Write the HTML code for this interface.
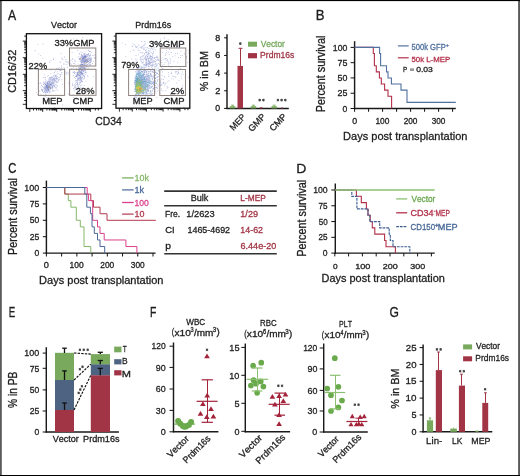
<!DOCTYPE html>
<html><head><meta charset="utf-8"><style>
html,body{margin:0;padding:0;background:#fff;overflow:hidden;}
svg{display:block;will-change:transform;}
text{font-family:"Liberation Sans", sans-serif;font-kerning:none;}
</style></head><body>
<svg width="520" height="476" viewBox="0 0 520 476">
<rect x="0.00" y="0.00" width="520.00" height="476.00" fill="#ffffff"/>
<text x="7.88" y="19.90" font-size="13.808" fill="#1e1e1e" stroke="#1e1e1e" stroke-width="0.3" textLength="8.15" lengthAdjust="spacingAndGlyphs">A</text>
<text x="51.06" y="28.00" font-size="9.593" fill="#1e1e1e" stroke="#1e1e1e" stroke-width="0.3" textLength="25.99" lengthAdjust="spacingAndGlyphs">Vector</text>
<text x="135.26" y="28.00" font-size="9.309" fill="#1e1e1e" stroke="#1e1e1e" stroke-width="0.3" textLength="35.86" lengthAdjust="spacingAndGlyphs">Prdm16s</text>
<path d="M49.0 85.1h0.8v0.8h-0.8zM50.2 87.5h0.8v0.8h-0.8zM47.9 87.8h0.8v0.8h-0.8zM45.4 87.8h0.8v0.8h-0.8zM47.2 82.0h0.8v0.8h-0.8zM45.0 89.2h0.8v0.8h-0.8zM49.2 82.2h0.8v0.8h-0.8zM54.4 86.2h0.8v0.8h-0.8zM47.0 81.2h0.8v0.8h-0.8zM46.5 85.9h0.8v0.8h-0.8zM51.0 83.9h0.8v0.8h-0.8zM50.4 79.0h0.8v0.8h-0.8zM49.4 91.5h0.8v0.8h-0.8zM45.3 92.8h0.8v0.8h-0.8zM48.9 83.3h0.8v0.8h-0.8zM51.8 86.4h0.8v0.8h-0.8zM43.6 89.5h0.8v0.8h-0.8zM47.2 75.8h0.8v0.8h-0.8zM41.4 90.3h0.8v0.8h-0.8zM43.8 87.7h0.8v0.8h-0.8zM41.6 89.5h0.8v0.8h-0.8zM48.1 81.3h0.8v0.8h-0.8zM43.9 86.8h0.8v0.8h-0.8zM50.1 83.7h0.8v0.8h-0.8zM49.6 89.3h0.8v0.8h-0.8zM48.3 86.7h0.8v0.8h-0.8zM38.9 90.6h0.8v0.8h-0.8zM46.8 92.2h0.8v0.8h-0.8zM48.8 82.9h0.8v0.8h-0.8zM49.5 83.2h0.8v0.8h-0.8zM42.9 81.4h0.8v0.8h-0.8zM47.1 92.2h0.8v0.8h-0.8zM45.1 91.0h0.8v0.8h-0.8zM45.8 90.4h0.8v0.8h-0.8zM53.2 85.2h0.8v0.8h-0.8zM45.8 87.2h0.8v0.8h-0.8zM48.9 85.9h0.8v0.8h-0.8zM52.5 82.0h0.8v0.8h-0.8zM46.7 85.5h0.8v0.8h-0.8zM48.6 85.5h0.8v0.8h-0.8zM49.4 90.6h0.8v0.8h-0.8zM49.3 87.0h0.8v0.8h-0.8zM44.1 87.5h0.8v0.8h-0.8zM49.3 82.6h0.8v0.8h-0.8zM54.4 79.5h0.8v0.8h-0.8zM42.8 94.7h0.8v0.8h-0.8zM52.4 85.0h0.8v0.8h-0.8zM49.5 85.0h0.8v0.8h-0.8zM46.4 85.1h0.8v0.8h-0.8zM57.0 76.2h0.8v0.8h-0.8zM52.0 83.0h0.8v0.8h-0.8zM44.2 91.1h0.8v0.8h-0.8zM49.3 83.3h0.8v0.8h-0.8zM51.3 82.8h0.8v0.8h-0.8zM48.2 84.6h0.8v0.8h-0.8zM51.7 83.9h0.8v0.8h-0.8zM48.7 78.9h0.8v0.8h-0.8zM51.7 82.6h0.8v0.8h-0.8zM54.8 78.4h0.8v0.8h-0.8zM46.3 90.0h0.8v0.8h-0.8zM49.8 81.5h0.8v0.8h-0.8zM47.1 88.3h0.8v0.8h-0.8zM49.5 90.7h0.8v0.8h-0.8zM44.3 86.4h0.8v0.8h-0.8zM46.7 84.0h0.8v0.8h-0.8zM48.2 86.2h0.8v0.8h-0.8zM52.6 83.0h0.8v0.8h-0.8zM53.6 78.6h0.8v0.8h-0.8zM43.7 89.8h0.8v0.8h-0.8zM45.8 94.6h0.8v0.8h-0.8zM51.6 82.5h0.8v0.8h-0.8zM41.0 88.7h0.8v0.8h-0.8zM47.1 82.0h0.8v0.8h-0.8zM48.6 86.5h0.8v0.8h-0.8zM54.0 77.3h0.8v0.8h-0.8zM51.8 79.1h0.8v0.8h-0.8zM47.7 90.7h0.8v0.8h-0.8zM47.5 82.3h0.8v0.8h-0.8zM48.0 89.8h0.8v0.8h-0.8zM55.1 87.5h0.8v0.8h-0.8zM47.3 87.0h0.8v0.8h-0.8zM47.8 87.8h0.8v0.8h-0.8zM50.4 91.8h0.8v0.8h-0.8zM48.5 84.5h0.8v0.8h-0.8zM48.2 83.1h0.8v0.8h-0.8zM44.5 82.2h0.8v0.8h-0.8zM49.0 85.2h0.8v0.8h-0.8zM47.2 91.8h0.8v0.8h-0.8zM53.7 86.1h0.8v0.8h-0.8zM51.6 79.9h0.8v0.8h-0.8zM48.9 81.7h0.8v0.8h-0.8zM51.7 81.5h0.8v0.8h-0.8zM47.6 86.9h0.8v0.8h-0.8zM53.2 81.8h0.8v0.8h-0.8zM49.0 85.8h0.8v0.8h-0.8zM51.3 84.8h0.8v0.8h-0.8zM43.8 86.7h0.8v0.8h-0.8zM50.4 84.1h0.8v0.8h-0.8zM42.2 89.6h0.8v0.8h-0.8zM40.9 89.3h0.8v0.8h-0.8zM47.8 87.6h0.8v0.8h-0.8zM45.4 94.3h0.8v0.8h-0.8zM49.7 86.9h0.8v0.8h-0.8zM58.0 80.2h0.8v0.8h-0.8zM45.7 80.3h0.8v0.8h-0.8zM46.5 87.9h0.8v0.8h-0.8zM49.8 77.0h0.8v0.8h-0.8zM51.0 78.4h0.8v0.8h-0.8zM48.3 88.7h0.8v0.8h-0.8zM48.2 88.2h0.8v0.8h-0.8zM51.8 82.8h0.8v0.8h-0.8zM51.1 77.2h0.8v0.8h-0.8zM44.9 85.9h0.8v0.8h-0.8zM48.7 82.5h0.8v0.8h-0.8zM49.1 87.4h0.8v0.8h-0.8zM44.8 96.2h0.8v0.8h-0.8zM50.0 85.3h0.8v0.8h-0.8zM45.6 83.9h0.8v0.8h-0.8zM52.9 78.3h0.8v0.8h-0.8zM49.8 84.3h0.8v0.8h-0.8zM49.4 84.1h0.8v0.8h-0.8zM46.6 81.8h0.8v0.8h-0.8zM48.5 85.7h0.8v0.8h-0.8zM41.0 85.0h0.8v0.8h-0.8zM44.5 91.9h0.8v0.8h-0.8zM50.5 88.3h0.8v0.8h-0.8zM40.5 94.0h0.8v0.8h-0.8zM52.4 81.2h0.8v0.8h-0.8zM42.0 90.9h0.8v0.8h-0.8zM52.0 82.8h0.8v0.8h-0.8zM45.6 85.4h0.8v0.8h-0.8zM52.1 81.9h0.8v0.8h-0.8zM49.5 79.6h0.8v0.8h-0.8zM42.9 82.8h0.8v0.8h-0.8zM54.0 85.3h0.8v0.8h-0.8zM54.8 81.0h0.8v0.8h-0.8zM48.7 86.0h0.8v0.8h-0.8zM47.9 89.5h0.8v0.8h-0.8zM48.4 78.6h0.8v0.8h-0.8zM45.1 84.1h0.8v0.8h-0.8zM53.4 83.2h0.8v0.8h-0.8zM46.8 87.7h0.8v0.8h-0.8zM48.8 83.6h0.8v0.8h-0.8zM45.8 90.8h0.8v0.8h-0.8zM46.5 87.2h0.8v0.8h-0.8zM43.9 83.1h0.8v0.8h-0.8zM54.0 78.5h0.8v0.8h-0.8zM48.4 88.5h0.8v0.8h-0.8zM52.9 84.6h0.8v0.8h-0.8zM49.1 77.6h0.8v0.8h-0.8zM46.2 91.8h0.8v0.8h-0.8zM47.7 88.1h0.8v0.8h-0.8zM46.8 91.5h0.8v0.8h-0.8zM49.0 83.5h0.8v0.8h-0.8zM47.5 84.7h0.8v0.8h-0.8zM47.8 81.3h0.8v0.8h-0.8zM43.5 98.0h0.8v0.8h-0.8zM45.8 86.1h0.8v0.8h-0.8zM55.6 87.5h0.8v0.8h-0.8zM46.3 84.0h0.8v0.8h-0.8zM44.8 88.0h0.8v0.8h-0.8zM50.3 77.7h0.8v0.8h-0.8zM54.6 80.3h0.8v0.8h-0.8zM43.2 92.1h0.8v0.8h-0.8zM48.2 80.6h0.8v0.8h-0.8zM46.5 90.6h0.8v0.8h-0.8zM42.0 90.3h0.8v0.8h-0.8zM51.9 79.3h0.8v0.8h-0.8zM48.9 83.1h0.8v0.8h-0.8zM49.3 83.1h0.8v0.8h-0.8zM46.0 86.5h0.8v0.8h-0.8zM50.8 81.9h0.8v0.8h-0.8zM46.8 83.0h0.8v0.8h-0.8zM48.4 84.1h0.8v0.8h-0.8zM44.6 83.5h0.8v0.8h-0.8zM44.1 82.7h0.8v0.8h-0.8zM54.3 81.8h0.8v0.8h-0.8zM47.0 89.6h0.8v0.8h-0.8zM50.2 78.4h0.8v0.8h-0.8zM48.9 85.1h0.8v0.8h-0.8zM47.2 83.5h0.8v0.8h-0.8zM47.0 82.3h0.8v0.8h-0.8zM51.5 86.9h0.8v0.8h-0.8zM47.8 83.7h0.8v0.8h-0.8zM48.4 91.2h0.8v0.8h-0.8zM49.1 81.9h0.8v0.8h-0.8zM53.7 83.9h0.8v0.8h-0.8zM51.7 82.6h0.8v0.8h-0.8zM50.5 81.2h0.8v0.8h-0.8zM46.7 88.6h0.8v0.8h-0.8zM43.5 87.5h0.8v0.8h-0.8zM52.8 85.2h0.8v0.8h-0.8zM52.9 82.6h0.8v0.8h-0.8zM48.4 81.1h0.8v0.8h-0.8zM51.2 83.4h0.8v0.8h-0.8zM52.1 83.4h0.8v0.8h-0.8zM52.3 86.9h0.8v0.8h-0.8zM52.7 79.4h0.8v0.8h-0.8zM47.2 85.9h0.8v0.8h-0.8zM55.1 74.9h0.8v0.8h-0.8zM44.0 90.3h0.8v0.8h-0.8zM52.4 78.8h0.8v0.8h-0.8zM51.0 76.8h0.8v0.8h-0.8zM52.5 82.8h0.8v0.8h-0.8zM56.5 85.1h0.8v0.8h-0.8zM54.9 75.7h0.8v0.8h-0.8zM44.4 83.3h0.8v0.8h-0.8zM42.2 85.9h0.8v0.8h-0.8zM52.3 78.8h0.8v0.8h-0.8zM44.9 88.8h0.8v0.8h-0.8zM49.0 81.9h0.8v0.8h-0.8zM52.4 80.3h0.8v0.8h-0.8zM42.4 91.0h0.8v0.8h-0.8zM40.6 86.8h0.8v0.8h-0.8zM50.0 86.1h0.8v0.8h-0.8zM49.2 81.1h0.8v0.8h-0.8zM48.0 80.8h0.8v0.8h-0.8zM49.2 77.8h0.8v0.8h-0.8zM45.6 94.2h0.8v0.8h-0.8zM42.9 87.2h0.8v0.8h-0.8zM48.3 86.3h0.8v0.8h-0.8zM45.1 87.1h0.8v0.8h-0.8zM42.4 89.3h0.8v0.8h-0.8zM51.0 84.1h0.8v0.8h-0.8zM48.8 92.6h0.8v0.8h-0.8zM50.6 80.0h0.8v0.8h-0.8zM45.0 81.2h0.8v0.8h-0.8zM46.4 82.5h0.8v0.8h-0.8zM45.0 82.0h0.8v0.8h-0.8zM45.5 89.9h0.8v0.8h-0.8zM49.8 87.8h0.8v0.8h-0.8zM45.9 83.0h0.8v0.8h-0.8zM50.4 78.8h0.8v0.8h-0.8zM50.4 82.9h0.8v0.8h-0.8zM57.1 85.9h0.8v0.8h-0.8zM43.4 77.1h0.8v0.8h-0.8zM52.6 85.1h0.8v0.8h-0.8zM48.6 81.0h0.8v0.8h-0.8zM48.9 89.1h0.8v0.8h-0.8zM43.2 84.1h0.8v0.8h-0.8zM47.2 84.9h0.8v0.8h-0.8zM52.0 77.5h0.8v0.8h-0.8zM48.7 81.4h0.8v0.8h-0.8zM49.3 90.2h0.8v0.8h-0.8zM47.8 88.9h0.8v0.8h-0.8zM53.6 80.8h0.8v0.8h-0.8zM48.9 81.7h0.8v0.8h-0.8zM40.2 82.6h0.8v0.8h-0.8zM46.2 85.0h0.8v0.8h-0.8zM41.1 89.3h0.8v0.8h-0.8zM36.0 92.0h0.8v0.8h-0.8zM46.9 85.8h0.8v0.8h-0.8zM54.3 77.6h0.8v0.8h-0.8zM49.2 84.6h0.8v0.8h-0.8zM44.3 87.5h0.8v0.8h-0.8zM45.2 92.1h0.8v0.8h-0.8zM53.5 89.7h0.8v0.8h-0.8zM49.6 84.1h0.8v0.8h-0.8zM49.2 81.9h0.8v0.8h-0.8zM48.8 84.9h0.8v0.8h-0.8zM50.4 82.9h0.8v0.8h-0.8zM49.5 89.2h0.8v0.8h-0.8zM53.6 80.0h0.8v0.8h-0.8zM47.7 90.8h0.8v0.8h-0.8zM57.6 73.2h0.8v0.8h-0.8zM53.4 79.3h0.8v0.8h-0.8zM55.5 78.2h0.8v0.8h-0.8zM52.9 84.6h0.8v0.8h-0.8zM49.6 87.6h0.8v0.8h-0.8zM48.3 75.0h0.8v0.8h-0.8zM52.6 76.0h0.8v0.8h-0.8zM50.7 83.4h0.8v0.8h-0.8zM55.4 75.9h0.8v0.8h-0.8zM54.0 72.1h0.8v0.8h-0.8zM45.8 89.5h0.8v0.8h-0.8zM54.4 82.4h0.8v0.8h-0.8zM45.9 86.6h0.8v0.8h-0.8zM50.3 79.4h0.8v0.8h-0.8zM52.2 86.2h0.8v0.8h-0.8zM41.5 85.0h0.8v0.8h-0.8zM54.5 85.4h0.8v0.8h-0.8zM54.9 74.8h0.8v0.8h-0.8zM53.1 76.0h0.8v0.8h-0.8zM51.5 82.3h0.8v0.8h-0.8zM51.8 77.5h0.8v0.8h-0.8zM48.1 86.4h0.8v0.8h-0.8zM52.4 82.2h0.8v0.8h-0.8zM50.7 76.9h0.8v0.8h-0.8zM54.6 80.1h0.8v0.8h-0.8zM46.8 81.8h0.8v0.8h-0.8zM55.4 84.1h0.8v0.8h-0.8zM54.9 76.3h0.8v0.8h-0.8zM53.2 78.1h0.8v0.8h-0.8zM51.4 87.6h0.8v0.8h-0.8zM57.3 90.0h0.8v0.8h-0.8zM44.0 95.4h0.8v0.8h-0.8zM56.8 78.9h0.8v0.8h-0.8zM55.5 80.4h0.8v0.8h-0.8zM55.7 87.1h0.8v0.8h-0.8zM56.3 78.2h0.8v0.8h-0.8zM50.1 76.9h0.8v0.8h-0.8zM52.4 81.4h0.8v0.8h-0.8zM57.8 80.4h0.8v0.8h-0.8zM56.6 74.4h0.8v0.8h-0.8zM55.2 70.8h0.8v0.8h-0.8zM44.9 77.1h0.8v0.8h-0.8zM57.2 81.8h0.8v0.8h-0.8zM61.0 72.6h0.8v0.8h-0.8zM60.1 76.2h0.8v0.8h-0.8zM55.4 80.4h0.8v0.8h-0.8zM44.7 87.9h0.8v0.8h-0.8zM59.7 75.4h0.8v0.8h-0.8zM53.1 83.0h0.8v0.8h-0.8zM38.8 83.0h0.8v0.8h-0.8zM56.3 77.0h0.8v0.8h-0.8zM45.0 79.2h0.8v0.8h-0.8zM46.2 89.8h0.8v0.8h-0.8zM50.2 81.8h0.8v0.8h-0.8zM61.6 72.3h0.8v0.8h-0.8zM51.8 79.3h0.8v0.8h-0.8zM55.6 78.0h0.8v0.8h-0.8zM64.5 78.4h0.8v0.8h-0.8zM63.6 66.9h0.8v0.8h-0.8zM53.4 74.9h0.8v0.8h-0.8zM52.6 78.8h0.8v0.8h-0.8zM46.4 96.9h0.8v0.8h-0.8zM49.8 87.0h0.8v0.8h-0.8zM56.6 78.1h0.8v0.8h-0.8zM56.4 82.5h0.8v0.8h-0.8zM54.7 90.4h0.8v0.8h-0.8zM60.0 75.8h0.8v0.8h-0.8zM49.4 80.4h0.8v0.8h-0.8zM53.7 86.5h0.8v0.8h-0.8zM58.4 80.4h0.8v0.8h-0.8zM57.5 81.7h0.8v0.8h-0.8zM60.4 74.1h0.8v0.8h-0.8zM56.4 88.8h0.8v0.8h-0.8zM52.1 89.8h0.8v0.8h-0.8zM56.2 81.9h0.8v0.8h-0.8zM48.0 86.6h0.8v0.8h-0.8zM44.2 74.4h0.8v0.8h-0.8zM57.5 81.6h0.8v0.8h-0.8zM53.7 79.2h0.8v0.8h-0.8zM55.9 81.3h0.8v0.8h-0.8zM43.8 88.6h0.8v0.8h-0.8zM51.8 79.3h0.8v0.8h-0.8zM50.4 73.0h0.8v0.8h-0.8zM48.8 84.5h0.8v0.8h-0.8zM40.5 82.9h0.8v0.8h-0.8zM52.0 79.3h0.8v0.8h-0.8zM59.4 74.2h0.8v0.8h-0.8zM56.3 77.1h0.8v0.8h-0.8zM50.4 69.8h0.8v0.8h-0.8zM53.9 86.4h0.8v0.8h-0.8zM58.5 79.0h0.8v0.8h-0.8zM37.4 94.1h0.8v0.8h-0.8zM53.3 90.7h0.8v0.8h-0.8zM57.3 78.5h0.8v0.8h-0.8zM58.1 68.6h0.8v0.8h-0.8zM64.2 70.3h0.8v0.8h-0.8zM60.8 70.3h0.8v0.8h-0.8zM55.9 76.5h0.8v0.8h-0.8zM55.8 79.5h0.8v0.8h-0.8zM58.7 67.2h0.8v0.8h-0.8zM50.8 83.4h0.8v0.8h-0.8zM53.8 72.3h0.8v0.8h-0.8zM59.4 78.8h0.8v0.8h-0.8zM65.7 73.6h0.8v0.8h-0.8zM53.0 78.8h0.8v0.8h-0.8zM53.7 79.8h0.8v0.8h-0.8zM78.8 83.8h0.8v0.8h-0.8zM78.6 69.0h0.8v0.8h-0.8zM74.3 90.4h0.8v0.8h-0.8zM80.9 79.9h0.8v0.8h-0.8zM88.4 53.2h0.8v0.8h-0.8zM88.9 50.8h0.8v0.8h-0.8zM86.3 61.4h0.8v0.8h-0.8zM83.8 56.1h0.8v0.8h-0.8zM78.3 86.8h0.8v0.8h-0.8zM86.8 45.3h0.8v0.8h-0.8zM80.8 65.1h0.8v0.8h-0.8zM80.7 70.7h0.8v0.8h-0.8zM79.8 72.7h0.8v0.8h-0.8zM81.4 72.4h0.8v0.8h-0.8zM79.3 77.1h0.8v0.8h-0.8zM80.7 71.2h0.8v0.8h-0.8zM76.7 87.7h0.8v0.8h-0.8zM79.5 60.7h0.8v0.8h-0.8zM90.1 54.9h0.8v0.8h-0.8zM80.7 67.8h0.8v0.8h-0.8zM80.0 74.7h0.8v0.8h-0.8zM83.1 69.5h0.8v0.8h-0.8zM83.8 60.7h0.8v0.8h-0.8zM76.5 76.1h0.8v0.8h-0.8zM80.2 78.8h0.8v0.8h-0.8zM84.7 67.4h0.8v0.8h-0.8zM82.1 65.5h0.8v0.8h-0.8zM81.5 84.6h0.8v0.8h-0.8zM87.2 75.6h0.8v0.8h-0.8zM78.3 67.4h0.8v0.8h-0.8zM81.3 73.4h0.8v0.8h-0.8zM78.9 92.5h0.8v0.8h-0.8zM87.0 66.0h0.8v0.8h-0.8zM73.2 88.1h0.8v0.8h-0.8zM78.3 75.6h0.8v0.8h-0.8zM78.9 72.4h0.8v0.8h-0.8zM83.7 65.6h0.8v0.8h-0.8zM83.4 63.8h0.8v0.8h-0.8zM86.6 66.5h0.8v0.8h-0.8zM74.7 81.2h0.8v0.8h-0.8zM84.0 63.5h0.8v0.8h-0.8zM79.8 66.2h0.8v0.8h-0.8zM78.3 76.7h0.8v0.8h-0.8zM83.2 62.0h0.8v0.8h-0.8zM77.3 77.7h0.8v0.8h-0.8zM72.7 94.5h0.8v0.8h-0.8zM79.5 77.2h0.8v0.8h-0.8zM75.0 86.6h0.8v0.8h-0.8zM78.4 79.2h0.8v0.8h-0.8zM82.5 69.6h0.8v0.8h-0.8zM82.2 68.8h0.8v0.8h-0.8zM87.3 58.1h0.8v0.8h-0.8zM80.2 78.5h0.8v0.8h-0.8zM74.9 76.3h0.8v0.8h-0.8zM78.0 86.5h0.8v0.8h-0.8zM77.3 79.1h0.8v0.8h-0.8zM76.1 76.2h0.8v0.8h-0.8zM82.7 65.5h0.8v0.8h-0.8zM78.4 72.4h0.8v0.8h-0.8zM73.1 87.9h0.8v0.8h-0.8zM83.8 62.0h0.8v0.8h-0.8zM80.6 80.4h0.8v0.8h-0.8zM82.4 64.2h0.8v0.8h-0.8zM81.4 56.2h0.8v0.8h-0.8zM83.5 62.4h0.8v0.8h-0.8zM81.2 58.4h0.8v0.8h-0.8zM85.9 62.5h0.8v0.8h-0.8zM82.7 75.8h0.8v0.8h-0.8zM82.6 73.3h0.8v0.8h-0.8zM82.6 60.1h0.8v0.8h-0.8zM75.2 77.9h0.8v0.8h-0.8zM80.3 85.0h0.8v0.8h-0.8zM80.0 76.1h0.8v0.8h-0.8zM81.8 70.5h0.8v0.8h-0.8zM75.6 89.2h0.8v0.8h-0.8zM87.5 76.0h0.8v0.8h-0.8zM81.4 79.8h0.8v0.8h-0.8zM76.2 82.0h0.8v0.8h-0.8zM74.2 87.2h0.8v0.8h-0.8zM79.9 78.2h0.8v0.8h-0.8zM80.6 68.6h0.8v0.8h-0.8zM78.1 70.4h0.8v0.8h-0.8zM81.4 71.7h0.8v0.8h-0.8zM78.4 70.5h0.8v0.8h-0.8zM83.2 67.5h0.8v0.8h-0.8zM78.1 78.1h0.8v0.8h-0.8zM80.8 87.8h0.8v0.8h-0.8zM84.9 59.0h0.8v0.8h-0.8zM91.3 51.9h0.8v0.8h-0.8zM77.0 78.5h0.8v0.8h-0.8zM79.1 78.4h0.8v0.8h-0.8zM77.6 85.2h0.8v0.8h-0.8zM84.1 62.9h0.8v0.8h-0.8zM76.4 75.2h0.8v0.8h-0.8zM79.1 64.8h0.8v0.8h-0.8zM80.9 66.1h0.8v0.8h-0.8zM77.1 82.9h0.8v0.8h-0.8zM77.2 79.5h0.8v0.8h-0.8zM79.1 68.9h0.8v0.8h-0.8zM72.6 85.3h0.8v0.8h-0.8zM75.2 83.0h0.8v0.8h-0.8zM79.3 78.4h0.8v0.8h-0.8zM81.6 67.0h0.8v0.8h-0.8zM80.3 71.7h0.8v0.8h-0.8zM73.9 73.3h0.8v0.8h-0.8zM79.1 67.9h0.8v0.8h-0.8zM84.2 76.7h0.8v0.8h-0.8zM83.2 53.4h0.8v0.8h-0.8zM80.7 70.4h0.8v0.8h-0.8zM77.5 80.1h0.8v0.8h-0.8zM83.5 64.8h0.8v0.8h-0.8zM78.7 71.0h0.8v0.8h-0.8zM76.3 80.4h0.8v0.8h-0.8zM77.8 78.0h0.8v0.8h-0.8zM86.8 60.6h0.8v0.8h-0.8zM81.9 57.9h0.8v0.8h-0.8zM85.6 62.3h0.8v0.8h-0.8zM79.1 69.9h0.8v0.8h-0.8zM84.8 61.3h0.8v0.8h-0.8zM78.6 78.0h0.8v0.8h-0.8zM80.4 77.4h0.8v0.8h-0.8zM90.9 59.3h0.8v0.8h-0.8zM84.1 63.0h0.8v0.8h-0.8zM79.0 81.9h0.8v0.8h-0.8zM80.7 80.4h0.8v0.8h-0.8zM82.3 77.1h0.8v0.8h-0.8zM85.8 72.1h0.8v0.8h-0.8zM79.0 74.7h0.8v0.8h-0.8zM74.0 83.9h0.8v0.8h-0.8zM79.9 79.6h0.8v0.8h-0.8zM81.1 62.8h0.8v0.8h-0.8zM81.4 72.6h0.8v0.8h-0.8zM86.3 58.6h0.8v0.8h-0.8zM82.3 67.2h0.8v0.8h-0.8zM84.3 54.4h0.8v0.8h-0.8zM76.6 74.4h0.8v0.8h-0.8zM84.5 65.4h0.8v0.8h-0.8zM89.4 62.2h0.8v0.8h-0.8zM84.1 72.8h0.8v0.8h-0.8zM82.0 69.6h0.8v0.8h-0.8zM81.6 69.6h0.8v0.8h-0.8zM88.1 53.1h0.8v0.8h-0.8zM77.3 81.6h0.8v0.8h-0.8zM80.6 71.2h0.8v0.8h-0.8zM82.8 72.6h0.8v0.8h-0.8zM84.0 78.0h0.8v0.8h-0.8zM79.3 75.1h0.8v0.8h-0.8zM82.2 59.8h0.8v0.8h-0.8zM79.9 68.4h0.8v0.8h-0.8zM81.5 61.5h0.8v0.8h-0.8zM80.5 65.1h0.8v0.8h-0.8zM76.4 89.2h0.8v0.8h-0.8zM80.9 73.7h0.8v0.8h-0.8zM84.5 55.4h0.8v0.8h-0.8zM77.1 83.6h0.8v0.8h-0.8zM80.0 82.1h0.8v0.8h-0.8zM83.7 64.6h0.8v0.8h-0.8zM76.7 75.6h0.8v0.8h-0.8zM81.7 68.4h0.8v0.8h-0.8zM76.8 81.8h0.8v0.8h-0.8zM85.5 67.7h0.8v0.8h-0.8zM90.3 62.5h0.8v0.8h-0.8zM89.1 64.9h0.8v0.8h-0.8zM80.1 81.5h0.8v0.8h-0.8zM84.0 75.5h0.8v0.8h-0.8zM81.5 75.5h0.8v0.8h-0.8zM81.4 61.1h0.8v0.8h-0.8zM87.2 59.5h0.8v0.8h-0.8zM75.7 84.0h0.8v0.8h-0.8zM85.2 61.6h0.8v0.8h-0.8zM80.8 78.4h0.8v0.8h-0.8zM86.6 59.1h0.8v0.8h-0.8zM81.7 64.5h0.8v0.8h-0.8zM78.3 86.6h0.8v0.8h-0.8zM82.1 74.3h0.8v0.8h-0.8zM83.9 67.9h0.8v0.8h-0.8zM81.1 77.9h0.8v0.8h-0.8zM83.0 75.4h0.8v0.8h-0.8zM78.9 78.2h0.8v0.8h-0.8zM72.5 71.7h0.8v0.8h-0.8zM84.6 60.8h0.8v0.8h-0.8zM83.8 63.7h0.8v0.8h-0.8zM81.6 64.4h0.8v0.8h-0.8zM81.3 72.8h0.8v0.8h-0.8zM85.1 72.1h0.8v0.8h-0.8zM79.2 72.2h0.8v0.8h-0.8zM78.2 69.8h0.8v0.8h-0.8zM80.2 86.8h0.8v0.8h-0.8zM85.8 60.1h0.8v0.8h-0.8zM75.5 74.2h0.8v0.8h-0.8zM85.8 64.6h0.8v0.8h-0.8zM78.4 79.6h0.8v0.8h-0.8zM76.6 75.6h0.8v0.8h-0.8zM86.0 67.8h0.8v0.8h-0.8zM80.6 69.5h0.8v0.8h-0.8zM75.8 75.6h0.8v0.8h-0.8zM79.6 75.9h0.8v0.8h-0.8zM84.7 70.1h0.8v0.8h-0.8zM85.8 58.9h0.8v0.8h-0.8zM79.3 77.4h0.8v0.8h-0.8zM82.6 68.3h0.8v0.8h-0.8zM83.9 85.3h0.8v0.8h-0.8zM78.4 72.1h0.8v0.8h-0.8zM82.4 78.5h0.8v0.8h-0.8zM80.9 71.9h0.8v0.8h-0.8zM78.9 75.2h0.8v0.8h-0.8zM79.0 80.5h0.8v0.8h-0.8zM81.3 77.4h0.8v0.8h-0.8zM81.1 80.2h0.8v0.8h-0.8zM78.7 78.4h0.8v0.8h-0.8zM79.3 71.2h0.8v0.8h-0.8zM85.5 60.1h0.8v0.8h-0.8zM81.9 73.8h0.8v0.8h-0.8zM84.5 69.2h0.8v0.8h-0.8zM85.8 72.2h0.8v0.8h-0.8zM83.4 70.4h0.8v0.8h-0.8zM90.1 62.0h0.8v0.8h-0.8zM77.7 88.2h0.8v0.8h-0.8zM84.2 67.0h0.8v0.8h-0.8zM79.7 64.6h0.8v0.8h-0.8zM88.4 50.3h0.8v0.8h-0.8zM87.8 49.7h0.8v0.8h-0.8zM73.2 97.2h0.8v0.8h-0.8zM77.1 73.7h0.8v0.8h-0.8zM83.7 75.2h0.8v0.8h-0.8zM84.2 70.0h0.8v0.8h-0.8zM83.9 77.8h0.8v0.8h-0.8zM80.7 79.2h0.8v0.8h-0.8zM82.8 67.9h0.8v0.8h-0.8zM83.6 65.8h0.8v0.8h-0.8zM80.7 73.1h0.8v0.8h-0.8zM85.1 65.5h0.8v0.8h-0.8zM72.0 85.4h0.8v0.8h-0.8zM83.5 67.0h0.8v0.8h-0.8zM76.9 90.4h0.8v0.8h-0.8zM84.8 53.6h0.8v0.8h-0.8zM80.1 75.4h0.8v0.8h-0.8zM77.4 72.7h0.8v0.8h-0.8zM82.5 70.4h0.8v0.8h-0.8zM77.4 84.4h0.8v0.8h-0.8zM77.3 78.5h0.8v0.8h-0.8zM74.7 88.9h0.8v0.8h-0.8zM80.9 61.7h0.8v0.8h-0.8zM83.0 75.6h0.8v0.8h-0.8zM85.1 60.3h0.8v0.8h-0.8zM80.4 77.2h0.8v0.8h-0.8zM85.2 65.3h0.8v0.8h-0.8zM81.1 54.8h0.8v0.8h-0.8zM80.6 67.7h0.8v0.8h-0.8zM83.3 69.2h0.8v0.8h-0.8zM85.2 74.3h0.8v0.8h-0.8zM79.6 76.5h0.8v0.8h-0.8zM80.0 75.5h0.8v0.8h-0.8zM80.4 63.9h0.8v0.8h-0.8zM81.3 80.8h0.8v0.8h-0.8zM77.4 90.7h0.8v0.8h-0.8zM85.1 64.5h0.8v0.8h-0.8zM79.4 73.5h0.8v0.8h-0.8zM82.8 57.8h0.8v0.8h-0.8zM77.7 84.0h0.8v0.8h-0.8zM82.4 87.2h0.8v0.8h-0.8zM82.6 73.8h0.8v0.8h-0.8zM79.3 83.5h0.8v0.8h-0.8zM89.1 60.4h0.8v0.8h-0.8zM82.5 62.7h0.8v0.8h-0.8zM88.1 67.5h0.8v0.8h-0.8zM84.8 56.6h0.8v0.8h-0.8zM78.4 75.6h0.8v0.8h-0.8zM79.5 76.7h0.8v0.8h-0.8zM82.7 74.6h0.8v0.8h-0.8zM81.2 74.3h0.8v0.8h-0.8zM81.2 74.2h0.8v0.8h-0.8zM79.9 69.1h0.8v0.8h-0.8zM73.8 77.0h0.8v0.8h-0.8zM80.1 74.1h0.8v0.8h-0.8zM72.1 83.9h0.8v0.8h-0.8zM82.5 60.6h0.8v0.8h-0.8zM78.1 69.1h0.8v0.8h-0.8zM78.1 74.1h0.8v0.8h-0.8zM80.1 61.4h0.8v0.8h-0.8zM82.1 61.0h0.8v0.8h-0.8zM75.3 71.9h0.8v0.8h-0.8zM74.0 86.3h0.8v0.8h-0.8zM76.7 82.7h0.8v0.8h-0.8zM72.8 100.6h0.8v0.8h-0.8zM77.1 69.3h0.8v0.8h-0.8zM87.4 55.6h0.8v0.8h-0.8zM76.8 86.0h0.8v0.8h-0.8zM83.6 65.7h0.8v0.8h-0.8zM75.5 80.1h0.8v0.8h-0.8zM82.2 81.1h0.8v0.8h-0.8zM79.7 72.2h0.8v0.8h-0.8zM80.8 64.8h0.8v0.8h-0.8zM83.3 59.0h0.8v0.8h-0.8zM88.0 61.0h0.8v0.8h-0.8zM81.8 72.6h0.8v0.8h-0.8zM81.5 62.0h0.8v0.8h-0.8zM77.1 72.8h0.8v0.8h-0.8zM83.3 71.2h0.8v0.8h-0.8zM80.0 77.7h0.8v0.8h-0.8zM84.3 61.5h0.8v0.8h-0.8zM80.8 76.4h0.8v0.8h-0.8zM88.0 62.7h0.8v0.8h-0.8zM73.1 75.1h0.8v0.8h-0.8zM79.8 72.2h0.8v0.8h-0.8zM84.5 68.1h0.8v0.8h-0.8zM79.6 70.8h0.8v0.8h-0.8zM77.8 63.8h0.8v0.8h-0.8zM79.9 72.1h0.8v0.8h-0.8zM75.5 87.3h0.8v0.8h-0.8zM81.5 81.6h0.8v0.8h-0.8zM90.8 39.2h0.8v0.8h-0.8zM85.6 80.7h0.8v0.8h-0.8zM76.6 72.9h0.8v0.8h-0.8zM77.5 84.9h0.8v0.8h-0.8zM79.4 83.2h0.8v0.8h-0.8zM85.0 71.0h0.8v0.8h-0.8zM77.7 79.2h0.8v0.8h-0.8zM78.2 69.5h0.8v0.8h-0.8zM84.5 69.5h0.8v0.8h-0.8zM84.5 60.8h0.8v0.8h-0.8zM79.5 58.1h0.8v0.8h-0.8zM76.5 99.1h0.8v0.8h-0.8zM74.8 88.3h0.8v0.8h-0.8zM78.2 89.3h0.8v0.8h-0.8zM72.1 82.7h0.8v0.8h-0.8zM84.0 76.1h0.8v0.8h-0.8zM78.5 87.2h0.8v0.8h-0.8zM82.9 78.7h0.8v0.8h-0.8zM88.5 57.8h0.8v0.8h-0.8zM80.8 61.4h0.8v0.8h-0.8zM84.4 58.6h0.8v0.8h-0.8zM77.3 49.7h0.8v0.8h-0.8zM79.0 59.0h0.8v0.8h-0.8zM85.3 55.2h0.8v0.8h-0.8zM81.5 57.4h0.8v0.8h-0.8zM84.4 64.5h0.8v0.8h-0.8zM84.6 55.0h0.8v0.8h-0.8zM91.8 55.2h0.8v0.8h-0.8zM89.5 64.2h0.8v0.8h-0.8zM84.8 59.4h0.8v0.8h-0.8zM89.2 64.5h0.8v0.8h-0.8zM82.3 60.2h0.8v0.8h-0.8zM83.8 55.8h0.8v0.8h-0.8zM88.2 58.8h0.8v0.8h-0.8zM80.7 63.4h0.8v0.8h-0.8zM84.0 62.4h0.8v0.8h-0.8zM80.4 59.0h0.8v0.8h-0.8zM85.4 59.2h0.8v0.8h-0.8zM90.7 58.6h0.8v0.8h-0.8zM82.4 56.9h0.8v0.8h-0.8zM85.8 66.0h0.8v0.8h-0.8zM81.9 59.0h0.8v0.8h-0.8zM81.0 54.9h0.8v0.8h-0.8zM80.7 57.3h0.8v0.8h-0.8zM90.1 61.6h0.8v0.8h-0.8zM93.3 61.3h0.8v0.8h-0.8zM86.7 58.5h0.8v0.8h-0.8zM82.5 56.6h0.8v0.8h-0.8zM87.5 59.1h0.8v0.8h-0.8zM83.8 53.0h0.8v0.8h-0.8zM87.8 54.3h0.8v0.8h-0.8zM86.0 61.9h0.8v0.8h-0.8zM86.0 57.3h0.8v0.8h-0.8zM87.1 60.3h0.8v0.8h-0.8zM83.0 63.4h0.8v0.8h-0.8zM83.6 61.3h0.8v0.8h-0.8zM79.0 59.1h0.8v0.8h-0.8zM83.5 66.7h0.8v0.8h-0.8zM80.0 61.4h0.8v0.8h-0.8zM84.5 57.7h0.8v0.8h-0.8zM81.6 61.6h0.8v0.8h-0.8zM85.4 60.5h0.8v0.8h-0.8zM86.6 55.9h0.8v0.8h-0.8zM80.0 59.3h0.8v0.8h-0.8zM82.2 58.4h0.8v0.8h-0.8zM81.7 51.9h0.8v0.8h-0.8zM87.6 58.4h0.8v0.8h-0.8zM91.0 58.0h0.8v0.8h-0.8zM88.0 57.4h0.8v0.8h-0.8zM83.8 53.1h0.8v0.8h-0.8zM90.1 57.7h0.8v0.8h-0.8zM79.7 58.9h0.8v0.8h-0.8zM90.2 59.4h0.8v0.8h-0.8zM82.7 54.9h0.8v0.8h-0.8zM75.3 61.3h0.8v0.8h-0.8zM94.3 54.6h0.8v0.8h-0.8zM90.5 58.2h0.8v0.8h-0.8zM81.4 63.7h0.8v0.8h-0.8zM85.6 56.5h0.8v0.8h-0.8zM84.2 57.2h0.8v0.8h-0.8zM85.4 62.9h0.8v0.8h-0.8zM79.8 57.6h0.8v0.8h-0.8zM82.6 57.9h0.8v0.8h-0.8zM86.6 59.8h0.8v0.8h-0.8zM85.8 62.8h0.8v0.8h-0.8zM89.2 51.1h0.8v0.8h-0.8zM85.3 56.0h0.8v0.8h-0.8zM93.2 55.4h0.8v0.8h-0.8zM82.5 55.1h0.8v0.8h-0.8zM85.9 55.9h0.8v0.8h-0.8zM78.3 56.0h0.8v0.8h-0.8zM80.6 60.1h0.8v0.8h-0.8zM89.6 55.8h0.8v0.8h-0.8zM81.7 59.4h0.8v0.8h-0.8zM86.9 60.4h0.8v0.8h-0.8zM84.8 56.4h0.8v0.8h-0.8zM81.3 59.5h0.8v0.8h-0.8zM83.8 64.9h0.8v0.8h-0.8zM83.2 60.2h0.8v0.8h-0.8zM83.3 56.7h0.8v0.8h-0.8zM87.6 58.8h0.8v0.8h-0.8zM87.3 55.7h0.8v0.8h-0.8zM83.0 60.0h0.8v0.8h-0.8zM81.8 62.1h0.8v0.8h-0.8zM86.0 56.1h0.8v0.8h-0.8zM84.6 58.3h0.8v0.8h-0.8zM88.6 63.0h0.8v0.8h-0.8zM94.3 57.2h0.8v0.8h-0.8zM88.0 59.7h0.8v0.8h-0.8zM84.9 55.3h0.8v0.8h-0.8zM84.4 56.1h0.8v0.8h-0.8zM82.0 57.2h0.8v0.8h-0.8zM81.8 66.6h0.8v0.8h-0.8zM81.5 57.6h0.8v0.8h-0.8zM83.6 57.1h0.8v0.8h-0.8zM83.5 57.0h0.8v0.8h-0.8zM87.6 58.4h0.8v0.8h-0.8zM83.6 61.3h0.8v0.8h-0.8zM84.3 59.7h0.8v0.8h-0.8zM80.7 66.2h0.8v0.8h-0.8zM90.8 59.7h0.8v0.8h-0.8zM86.8 64.1h0.8v0.8h-0.8zM91.3 60.0h0.8v0.8h-0.8zM87.8 61.1h0.8v0.8h-0.8zM90.2 53.9h0.8v0.8h-0.8zM84.1 58.6h0.8v0.8h-0.8zM87.5 58.8h0.8v0.8h-0.8zM94.5 58.1h0.8v0.8h-0.8zM80.7 51.5h0.8v0.8h-0.8zM89.1 62.1h0.8v0.8h-0.8zM90.9 57.6h0.8v0.8h-0.8zM86.5 57.5h0.8v0.8h-0.8zM87.7 58.1h0.8v0.8h-0.8zM89.5 58.2h0.8v0.8h-0.8zM82.7 60.4h0.8v0.8h-0.8zM86.5 54.6h0.8v0.8h-0.8zM81.9 55.7h0.8v0.8h-0.8zM82.6 60.0h0.8v0.8h-0.8zM82.8 59.5h0.8v0.8h-0.8zM84.5 57.7h0.8v0.8h-0.8zM85.5 57.0h0.8v0.8h-0.8zM86.6 56.1h0.8v0.8h-0.8zM79.9 58.8h0.8v0.8h-0.8zM92.1 63.1h0.8v0.8h-0.8zM89.1 55.3h0.8v0.8h-0.8zM87.6 64.3h0.8v0.8h-0.8zM83.7 62.0h0.8v0.8h-0.8zM84.7 57.4h0.8v0.8h-0.8zM87.0 61.7h0.8v0.8h-0.8zM86.5 53.9h0.8v0.8h-0.8zM79.0 52.9h0.8v0.8h-0.8zM87.7 54.5h0.8v0.8h-0.8zM95.5 57.6h0.8v0.8h-0.8zM78.4 57.9h0.8v0.8h-0.8zM88.6 57.2h0.8v0.8h-0.8zM86.3 59.3h0.8v0.8h-0.8zM84.6 51.5h0.8v0.8h-0.8zM89.9 60.7h0.8v0.8h-0.8zM80.8 54.0h0.8v0.8h-0.8zM85.6 56.7h0.8v0.8h-0.8zM90.3 57.6h0.8v0.8h-0.8zM84.3 55.0h0.8v0.8h-0.8zM83.5 54.2h0.8v0.8h-0.8zM85.4 55.5h0.8v0.8h-0.8zM83.4 59.0h0.8v0.8h-0.8zM90.6 61.1h0.8v0.8h-0.8zM81.7 61.0h0.8v0.8h-0.8zM88.1 55.5h0.8v0.8h-0.8zM80.5 56.2h0.8v0.8h-0.8zM59.6 62.2h0.8v0.8h-0.8zM69.1 70.8h0.8v0.8h-0.8zM51.7 76.8h0.8v0.8h-0.8zM74.7 68.9h0.8v0.8h-0.8zM62.6 58.7h0.8v0.8h-0.8zM60.5 68.2h0.8v0.8h-0.8zM68.4 74.3h0.8v0.8h-0.8zM73.2 63.0h0.8v0.8h-0.8zM68.4 61.4h0.8v0.8h-0.8zM73.4 72.1h0.8v0.8h-0.8zM66.9 66.8h0.8v0.8h-0.8zM74.6 59.4h0.8v0.8h-0.8zM74.7 63.7h0.8v0.8h-0.8zM65.3 61.5h0.8v0.8h-0.8zM76.1 67.8h0.8v0.8h-0.8zM67.2 66.7h0.8v0.8h-0.8zM66.6 72.9h0.8v0.8h-0.8zM59.5 70.3h0.8v0.8h-0.8zM64.0 56.6h0.8v0.8h-0.8zM71.4 68.4h0.8v0.8h-0.8zM56.8 71.4h0.8v0.8h-0.8zM70.5 68.7h0.8v0.8h-0.8zM68.4 72.2h0.8v0.8h-0.8zM67.9 62.7h0.8v0.8h-0.8zM50.6 60.3h0.8v0.8h-0.8zM65.3 71.6h0.8v0.8h-0.8zM70.5 59.6h0.8v0.8h-0.8zM60.7 53.0h0.8v0.8h-0.8zM66.6 72.2h0.8v0.8h-0.8zM49.4 61.7h0.8v0.8h-0.8zM70.7 64.2h0.8v0.8h-0.8zM61.4 57.6h0.8v0.8h-0.8zM72.1 58.0h0.8v0.8h-0.8zM53.1 59.1h0.8v0.8h-0.8zM70.8 63.8h0.8v0.8h-0.8zM64.3 68.2h0.8v0.8h-0.8zM71.7 52.2h0.8v0.8h-0.8zM59.5 70.5h0.8v0.8h-0.8zM61.7 58.9h0.8v0.8h-0.8zM81.7 59.6h0.8v0.8h-0.8zM60.2 70.1h0.8v0.8h-0.8zM61.1 65.6h0.8v0.8h-0.8zM64.1 56.8h0.8v0.8h-0.8zM58.8 77.1h0.8v0.8h-0.8zM74.3 60.8h0.8v0.8h-0.8zM78.1 67.5h0.8v0.8h-0.8zM61.1 67.2h0.8v0.8h-0.8zM53.9 74.5h0.8v0.8h-0.8zM74.2 63.3h0.8v0.8h-0.8zM73.8 72.0h0.8v0.8h-0.8zM71.8 61.5h0.8v0.8h-0.8zM74.1 72.7h0.8v0.8h-0.8zM59.9 61.4h0.8v0.8h-0.8zM64.8 63.8h0.8v0.8h-0.8zM56.3 77.4h0.8v0.8h-0.8zM56.1 67.9h0.8v0.8h-0.8zM72.9 66.7h0.8v0.8h-0.8zM61.3 79.5h0.8v0.8h-0.8zM82.0 68.2h0.8v0.8h-0.8zM66.5 61.1h0.8v0.8h-0.8zM76.7 83.8h0.8v0.8h-0.8zM38.4 53.8h0.8v0.8h-0.8zM84.6 98.7h0.8v0.8h-0.8zM86.1 61.9h0.8v0.8h-0.8zM50.5 83.7h0.8v0.8h-0.8zM49.4 62.2h0.8v0.8h-0.8zM65.5 59.1h0.8v0.8h-0.8zM62.3 104.6h0.8v0.8h-0.8zM42.4 57.8h0.8v0.8h-0.8zM73.4 38.5h0.8v0.8h-0.8zM53.3 57.7h0.8v0.8h-0.8zM53.9 107.1h0.8v0.8h-0.8zM56.5 68.1h0.8v0.8h-0.8zM68.1 82.7h0.8v0.8h-0.8zM37.4 44.0h0.8v0.8h-0.8zM73.8 71.1h0.8v0.8h-0.8zM58.4 77.4h0.8v0.8h-0.8zM49.0 100.0h0.8v0.8h-0.8zM34.7 50.1h0.8v0.8h-0.8zM38.3 76.1h0.8v0.8h-0.8zM69.2 70.1h0.8v0.8h-0.8zM42.7 43.6h0.8v0.8h-0.8zM63.3 63.6h0.8v0.8h-0.8zM83.2 58.7h0.8v0.8h-0.8zM93.2 76.0h0.8v0.8h-0.8zM56.1 74.8h0.8v0.8h-0.8zM40.3 55.2h0.8v0.8h-0.8zM82.4 37.2h0.8v0.8h-0.8zM68.2 93.6h0.8v0.8h-0.8zM84.5 69.3h0.8v0.8h-0.8zM62.2 84.3h0.8v0.8h-0.8zM85.9 92.2h0.8v0.8h-0.8zM78.9 53.6h0.8v0.8h-0.8zM76.3 80.2h0.8v0.8h-0.8zM72.1 59.2h0.8v0.8h-0.8zM70.0 62.7h0.8v0.8h-0.8zM66.7 62.3h0.8v0.8h-0.8zM66.5 64.0h0.8v0.8h-0.8z" fill="#7680c6" fill-opacity="0.6"/>
<path d="M50.0 88.2h0.8v0.8h-0.8zM47.8 90.3h0.8v0.8h-0.8zM47.2 82.8h0.8v0.8h-0.8zM46.9 86.7h0.8v0.8h-0.8zM48.3 86.1h0.8v0.8h-0.8zM45.5 88.1h0.8v0.8h-0.8zM46.4 84.9h0.8v0.8h-0.8zM47.4 86.7h0.8v0.8h-0.8zM46.3 84.7h0.8v0.8h-0.8zM47.2 88.5h0.8v0.8h-0.8zM46.2 87.2h0.8v0.8h-0.8zM51.9 86.6h0.8v0.8h-0.8zM50.4 87.8h0.8v0.8h-0.8zM48.5 86.5h0.8v0.8h-0.8zM47.4 83.6h0.8v0.8h-0.8zM52.3 88.3h0.8v0.8h-0.8zM48.2 87.6h0.8v0.8h-0.8zM47.3 86.7h0.8v0.8h-0.8zM48.2 89.2h0.8v0.8h-0.8zM48.2 89.7h0.8v0.8h-0.8zM50.6 84.6h0.8v0.8h-0.8zM47.5 85.3h0.8v0.8h-0.8zM52.1 90.4h0.8v0.8h-0.8zM45.6 90.1h0.8v0.8h-0.8zM49.0 85.4h0.8v0.8h-0.8zM45.3 84.4h0.8v0.8h-0.8zM51.5 85.6h0.8v0.8h-0.8zM46.8 85.9h0.8v0.8h-0.8zM47.4 83.5h0.8v0.8h-0.8zM49.5 87.1h0.8v0.8h-0.8zM50.3 84.2h0.8v0.8h-0.8zM45.1 84.3h0.8v0.8h-0.8zM46.7 89.0h0.8v0.8h-0.8zM44.4 85.5h0.8v0.8h-0.8zM47.8 86.8h0.8v0.8h-0.8zM47.3 88.4h0.8v0.8h-0.8zM46.7 88.8h0.8v0.8h-0.8zM46.0 86.3h0.8v0.8h-0.8zM46.7 87.1h0.8v0.8h-0.8zM45.9 85.2h0.8v0.8h-0.8zM84.4 61.7h0.8v0.8h-0.8zM81.6 67.0h0.8v0.8h-0.8zM77.2 73.9h0.8v0.8h-0.8zM80.0 71.5h0.8v0.8h-0.8zM81.8 62.0h0.8v0.8h-0.8zM81.2 71.7h0.8v0.8h-0.8zM84.6 68.3h0.8v0.8h-0.8zM83.4 61.1h0.8v0.8h-0.8zM78.7 67.0h0.8v0.8h-0.8zM79.8 71.6h0.8v0.8h-0.8zM76.8 72.1h0.8v0.8h-0.8zM80.6 60.7h0.8v0.8h-0.8zM80.4 72.4h0.8v0.8h-0.8zM86.8 61.1h0.8v0.8h-0.8zM80.2 68.0h0.8v0.8h-0.8zM74.8 84.9h0.8v0.8h-0.8zM78.3 72.8h0.8v0.8h-0.8zM80.3 66.9h0.8v0.8h-0.8zM76.9 74.8h0.8v0.8h-0.8zM77.8 69.3h0.8v0.8h-0.8zM79.1 68.6h0.8v0.8h-0.8zM80.9 70.2h0.8v0.8h-0.8zM79.6 68.6h0.8v0.8h-0.8zM77.8 71.5h0.8v0.8h-0.8zM82.0 73.2h0.8v0.8h-0.8zM78.7 75.0h0.8v0.8h-0.8zM78.8 74.6h0.8v0.8h-0.8zM76.6 76.7h0.8v0.8h-0.8zM78.0 74.5h0.8v0.8h-0.8zM81.6 72.9h0.8v0.8h-0.8zM76.0 75.6h0.8v0.8h-0.8zM79.8 76.9h0.8v0.8h-0.8zM81.8 64.1h0.8v0.8h-0.8zM79.1 70.4h0.8v0.8h-0.8zM80.6 64.2h0.8v0.8h-0.8zM77.2 72.7h0.8v0.8h-0.8zM83.3 67.3h0.8v0.8h-0.8zM82.8 71.3h0.8v0.8h-0.8zM80.6 66.8h0.8v0.8h-0.8zM75.6 76.2h0.8v0.8h-0.8zM77.4 72.4h0.8v0.8h-0.8zM82.4 63.9h0.8v0.8h-0.8zM84.3 59.8h0.8v0.8h-0.8zM80.7 69.2h0.8v0.8h-0.8zM83.1 59.4h0.8v0.8h-0.8zM85.3 60.9h0.8v0.8h-0.8zM85.1 60.4h0.8v0.8h-0.8zM83.4 57.8h0.8v0.8h-0.8zM82.5 56.1h0.8v0.8h-0.8zM81.5 57.4h0.8v0.8h-0.8zM89.7 59.2h0.8v0.8h-0.8zM81.6 59.9h0.8v0.8h-0.8zM88.9 58.7h0.8v0.8h-0.8zM86.5 60.5h0.8v0.8h-0.8zM84.1 56.6h0.8v0.8h-0.8zM82.1 58.6h0.8v0.8h-0.8zM87.6 54.1h0.8v0.8h-0.8zM89.3 59.9h0.8v0.8h-0.8zM82.7 58.4h0.8v0.8h-0.8zM84.3 57.0h0.8v0.8h-0.8zM87.6 60.9h0.8v0.8h-0.8zM85.8 59.7h0.8v0.8h-0.8zM90.0 51.0h0.8v0.8h-0.8zM83.6 58.1h0.8v0.8h-0.8zM86.4 54.4h0.8v0.8h-0.8zM81.9 60.7h0.8v0.8h-0.8zM90.2 64.2h0.8v0.8h-0.8zM83.2 56.7h0.8v0.8h-0.8zM79.5 58.2h0.8v0.8h-0.8zM84.7 57.4h0.8v0.8h-0.8zM84.7 58.9h0.8v0.8h-0.8zM89.8 59.6h0.8v0.8h-0.8zM84.2 61.2h0.8v0.8h-0.8zM85.0 55.5h0.8v0.8h-0.8zM86.5 61.9h0.8v0.8h-0.8zM89.0 55.7h0.8v0.8h-0.8zM84.8 58.7h0.8v0.8h-0.8zM87.6 60.9h0.8v0.8h-0.8zM86.3 59.8h0.8v0.8h-0.8zM84.3 55.7h0.8v0.8h-0.8zM85.2 56.2h0.8v0.8h-0.8zM85.1 56.8h0.8v0.8h-0.8zM82.7 57.9h0.8v0.8h-0.8zM88.0 60.9h0.8v0.8h-0.8zM81.5 54.8h0.8v0.8h-0.8z" fill="#3f4fa6" fill-opacity="0.55"/>
<path d="M48.5 86.5h0.8v0.8h-0.8zM48.6 87.5h0.8v0.8h-0.8zM48.6 86.5h0.8v0.8h-0.8zM85.7 62.6h0.8v0.8h-0.8zM85.1 59.5h0.8v0.8h-0.8zM87.6 59.4h0.8v0.8h-0.8zM80.2 58.1h0.8v0.8h-0.8zM76.3 70.6h0.8v0.8h-0.8zM79.2 73.0h0.8v0.8h-0.8z" fill="#d8b848" fill-opacity="0.9"/>
<path d="M135.5 89.3h0.8v0.8h-0.8zM142.6 75.2h0.8v0.8h-0.8zM137.7 83.8h0.8v0.8h-0.8zM136.3 84.5h0.8v0.8h-0.8zM141.0 88.3h0.8v0.8h-0.8zM135.6 82.5h0.8v0.8h-0.8zM137.1 79.8h0.8v0.8h-0.8zM157.1 81.0h0.8v0.8h-0.8zM139.4 72.8h0.8v0.8h-0.8zM135.6 83.7h0.8v0.8h-0.8zM145.8 80.1h0.8v0.8h-0.8zM141.3 86.7h0.8v0.8h-0.8zM141.5 77.5h0.8v0.8h-0.8zM137.8 81.1h0.8v0.8h-0.8zM137.4 77.7h0.8v0.8h-0.8zM136.6 77.2h0.8v0.8h-0.8zM135.7 88.1h0.8v0.8h-0.8zM143.9 80.9h0.8v0.8h-0.8zM136.7 86.5h0.8v0.8h-0.8zM142.5 76.8h0.8v0.8h-0.8zM139.5 84.4h0.8v0.8h-0.8zM137.8 73.3h0.8v0.8h-0.8zM134.7 80.8h0.8v0.8h-0.8zM143.0 80.6h0.8v0.8h-0.8zM141.8 87.4h0.8v0.8h-0.8zM141.8 84.9h0.8v0.8h-0.8zM145.5 82.7h0.8v0.8h-0.8zM152.7 88.9h0.8v0.8h-0.8zM147.9 84.9h0.8v0.8h-0.8zM135.6 87.1h0.8v0.8h-0.8zM137.3 88.5h0.8v0.8h-0.8zM151.8 83.3h0.8v0.8h-0.8zM147.8 81.9h0.8v0.8h-0.8zM140.3 85.8h0.8v0.8h-0.8zM140.1 81.1h0.8v0.8h-0.8zM137.7 86.1h0.8v0.8h-0.8zM157.4 90.6h0.8v0.8h-0.8zM136.6 89.0h0.8v0.8h-0.8zM149.9 81.4h0.8v0.8h-0.8zM143.0 75.8h0.8v0.8h-0.8zM138.8 83.4h0.8v0.8h-0.8zM137.0 82.9h0.8v0.8h-0.8zM152.1 90.6h0.8v0.8h-0.8zM145.2 81.3h0.8v0.8h-0.8zM153.5 82.4h0.8v0.8h-0.8zM149.7 88.3h0.8v0.8h-0.8zM137.5 80.8h0.8v0.8h-0.8zM139.8 82.7h0.8v0.8h-0.8zM135.3 94.3h0.8v0.8h-0.8zM152.4 92.9h0.8v0.8h-0.8zM145.2 87.6h0.8v0.8h-0.8zM138.5 85.4h0.8v0.8h-0.8zM142.7 77.7h0.8v0.8h-0.8zM136.8 87.2h0.8v0.8h-0.8zM139.3 84.1h0.8v0.8h-0.8zM143.3 85.1h0.8v0.8h-0.8zM148.3 80.5h0.8v0.8h-0.8zM139.4 83.6h0.8v0.8h-0.8zM140.1 82.6h0.8v0.8h-0.8zM139.0 85.7h0.8v0.8h-0.8zM145.2 92.5h0.8v0.8h-0.8zM135.1 85.9h0.8v0.8h-0.8zM138.9 73.4h0.8v0.8h-0.8zM138.7 77.7h0.8v0.8h-0.8zM146.3 73.9h0.8v0.8h-0.8zM136.2 78.8h0.8v0.8h-0.8zM148.0 87.2h0.8v0.8h-0.8zM146.6 86.2h0.8v0.8h-0.8zM149.2 80.0h0.8v0.8h-0.8zM137.4 85.4h0.8v0.8h-0.8zM137.5 79.0h0.8v0.8h-0.8zM142.0 74.9h0.8v0.8h-0.8zM138.3 75.0h0.8v0.8h-0.8zM138.6 78.4h0.8v0.8h-0.8zM141.5 92.5h0.8v0.8h-0.8zM142.4 75.4h0.8v0.8h-0.8zM142.6 91.4h0.8v0.8h-0.8zM140.0 91.9h0.8v0.8h-0.8zM138.3 82.6h0.8v0.8h-0.8zM137.0 83.4h0.8v0.8h-0.8zM140.9 79.9h0.8v0.8h-0.8zM139.7 83.5h0.8v0.8h-0.8zM140.1 87.8h0.8v0.8h-0.8zM146.6 83.7h0.8v0.8h-0.8zM137.8 89.9h0.8v0.8h-0.8zM154.7 91.0h0.8v0.8h-0.8zM139.5 85.8h0.8v0.8h-0.8zM148.9 85.7h0.8v0.8h-0.8zM139.0 83.3h0.8v0.8h-0.8zM143.4 85.8h0.8v0.8h-0.8zM140.1 76.8h0.8v0.8h-0.8zM135.8 86.2h0.8v0.8h-0.8zM143.4 85.0h0.8v0.8h-0.8zM136.2 78.3h0.8v0.8h-0.8zM139.3 97.0h0.8v0.8h-0.8zM147.2 77.7h0.8v0.8h-0.8zM170.9 78.3h0.8v0.8h-0.8zM138.2 85.4h0.8v0.8h-0.8zM140.0 71.7h0.8v0.8h-0.8zM144.9 78.8h0.8v0.8h-0.8zM142.2 74.2h0.8v0.8h-0.8zM152.4 77.7h0.8v0.8h-0.8zM138.7 82.9h0.8v0.8h-0.8zM154.2 85.6h0.8v0.8h-0.8zM146.0 90.5h0.8v0.8h-0.8zM142.0 88.7h0.8v0.8h-0.8zM141.4 91.0h0.8v0.8h-0.8zM144.3 87.3h0.8v0.8h-0.8zM146.8 80.8h0.8v0.8h-0.8zM139.5 90.6h0.8v0.8h-0.8zM138.8 80.6h0.8v0.8h-0.8zM139.6 79.9h0.8v0.8h-0.8zM139.0 93.1h0.8v0.8h-0.8zM147.3 88.5h0.8v0.8h-0.8zM145.4 85.0h0.8v0.8h-0.8zM135.1 88.3h0.8v0.8h-0.8zM138.5 89.1h0.8v0.8h-0.8zM136.2 75.2h0.8v0.8h-0.8zM139.7 83.1h0.8v0.8h-0.8zM138.8 76.4h0.8v0.8h-0.8zM137.6 84.4h0.8v0.8h-0.8zM144.7 79.5h0.8v0.8h-0.8zM138.7 92.1h0.8v0.8h-0.8zM141.9 86.9h0.8v0.8h-0.8zM139.6 78.6h0.8v0.8h-0.8zM144.7 83.5h0.8v0.8h-0.8zM144.4 76.2h0.8v0.8h-0.8zM139.4 83.9h0.8v0.8h-0.8zM143.3 87.0h0.8v0.8h-0.8zM141.7 85.3h0.8v0.8h-0.8zM151.7 71.7h0.8v0.8h-0.8zM137.5 81.6h0.8v0.8h-0.8zM141.9 86.8h0.8v0.8h-0.8zM140.7 85.5h0.8v0.8h-0.8zM139.8 90.8h0.8v0.8h-0.8zM158.4 75.7h0.8v0.8h-0.8zM142.6 86.9h0.8v0.8h-0.8zM148.2 79.6h0.8v0.8h-0.8zM148.8 84.9h0.8v0.8h-0.8zM142.5 86.2h0.8v0.8h-0.8zM142.8 87.9h0.8v0.8h-0.8zM137.4 80.1h0.8v0.8h-0.8zM137.8 84.8h0.8v0.8h-0.8zM141.4 76.4h0.8v0.8h-0.8zM146.9 74.9h0.8v0.8h-0.8zM154.8 87.1h0.8v0.8h-0.8zM136.1 83.3h0.8v0.8h-0.8zM143.7 73.6h0.8v0.8h-0.8zM147.5 78.4h0.8v0.8h-0.8zM138.2 83.8h0.8v0.8h-0.8zM137.5 93.3h0.8v0.8h-0.8zM135.6 90.1h0.8v0.8h-0.8zM144.7 88.6h0.8v0.8h-0.8zM140.6 72.6h0.8v0.8h-0.8zM143.3 83.0h0.8v0.8h-0.8zM137.4 86.6h0.8v0.8h-0.8zM141.1 86.1h0.8v0.8h-0.8zM147.5 86.2h0.8v0.8h-0.8zM141.1 82.2h0.8v0.8h-0.8zM145.7 94.5h0.8v0.8h-0.8zM149.2 92.8h0.8v0.8h-0.8zM141.9 83.1h0.8v0.8h-0.8zM144.3 77.6h0.8v0.8h-0.8zM147.6 96.4h0.8v0.8h-0.8zM147.0 80.2h0.8v0.8h-0.8zM150.4 91.1h0.8v0.8h-0.8zM141.6 95.5h0.8v0.8h-0.8zM139.9 77.8h0.8v0.8h-0.8zM160.1 85.4h0.8v0.8h-0.8zM141.8 81.5h0.8v0.8h-0.8zM144.4 86.8h0.8v0.8h-0.8zM157.7 85.6h0.8v0.8h-0.8zM134.3 95.7h0.8v0.8h-0.8zM139.2 87.3h0.8v0.8h-0.8zM134.4 83.6h0.8v0.8h-0.8zM149.6 90.6h0.8v0.8h-0.8zM163.5 82.0h0.8v0.8h-0.8zM140.0 81.4h0.8v0.8h-0.8zM144.3 97.5h0.8v0.8h-0.8zM145.7 78.5h0.8v0.8h-0.8zM134.9 80.6h0.8v0.8h-0.8zM139.2 83.9h0.8v0.8h-0.8zM143.0 77.1h0.8v0.8h-0.8zM135.8 70.6h0.8v0.8h-0.8zM138.5 90.2h0.8v0.8h-0.8zM149.2 78.8h0.8v0.8h-0.8zM144.1 80.3h0.8v0.8h-0.8zM136.5 81.3h0.8v0.8h-0.8zM136.9 77.6h0.8v0.8h-0.8zM143.8 77.0h0.8v0.8h-0.8zM135.8 84.6h0.8v0.8h-0.8zM137.5 98.5h0.8v0.8h-0.8zM140.3 88.2h0.8v0.8h-0.8zM147.4 88.3h0.8v0.8h-0.8zM138.2 74.3h0.8v0.8h-0.8zM139.4 83.5h0.8v0.8h-0.8zM141.7 76.3h0.8v0.8h-0.8zM138.8 88.4h0.8v0.8h-0.8zM139.6 82.2h0.8v0.8h-0.8zM152.9 83.9h0.8v0.8h-0.8zM154.1 83.1h0.8v0.8h-0.8zM143.3 80.0h0.8v0.8h-0.8zM142.7 74.2h0.8v0.8h-0.8zM142.4 87.2h0.8v0.8h-0.8zM150.9 75.1h0.8v0.8h-0.8zM139.4 76.3h0.8v0.8h-0.8zM148.1 81.8h0.8v0.8h-0.8zM146.4 79.3h0.8v0.8h-0.8zM155.0 85.3h0.8v0.8h-0.8zM147.5 89.9h0.8v0.8h-0.8zM139.2 85.2h0.8v0.8h-0.8zM143.4 84.9h0.8v0.8h-0.8zM143.2 83.8h0.8v0.8h-0.8zM137.3 89.0h0.8v0.8h-0.8zM138.9 72.2h0.8v0.8h-0.8zM136.4 85.9h0.8v0.8h-0.8zM135.4 77.9h0.8v0.8h-0.8zM144.9 76.0h0.8v0.8h-0.8zM136.1 83.7h0.8v0.8h-0.8zM141.8 81.2h0.8v0.8h-0.8zM137.9 87.3h0.8v0.8h-0.8zM148.1 90.5h0.8v0.8h-0.8zM143.2 69.2h0.8v0.8h-0.8zM143.5 83.2h0.8v0.8h-0.8zM146.7 95.8h0.8v0.8h-0.8zM141.6 89.0h0.8v0.8h-0.8zM136.4 92.6h0.8v0.8h-0.8zM141.2 84.3h0.8v0.8h-0.8zM143.4 74.7h0.8v0.8h-0.8zM140.7 76.7h0.8v0.8h-0.8zM142.7 88.0h0.8v0.8h-0.8zM136.2 89.6h0.8v0.8h-0.8zM142.4 79.1h0.8v0.8h-0.8zM160.4 82.0h0.8v0.8h-0.8zM137.1 85.3h0.8v0.8h-0.8zM137.2 72.8h0.8v0.8h-0.8zM167.4 81.5h0.8v0.8h-0.8zM145.7 93.7h0.8v0.8h-0.8zM156.5 97.2h0.8v0.8h-0.8zM150.1 83.0h0.8v0.8h-0.8zM135.7 95.0h0.8v0.8h-0.8zM152.7 80.4h0.8v0.8h-0.8zM142.3 78.6h0.8v0.8h-0.8zM137.8 69.8h0.8v0.8h-0.8zM145.3 89.6h0.8v0.8h-0.8zM143.3 81.3h0.8v0.8h-0.8zM144.2 98.1h0.8v0.8h-0.8zM136.2 85.7h0.8v0.8h-0.8zM161.3 84.8h0.8v0.8h-0.8zM140.3 72.4h0.8v0.8h-0.8zM147.7 92.9h0.8v0.8h-0.8zM135.2 81.4h0.8v0.8h-0.8zM136.2 82.6h0.8v0.8h-0.8zM144.5 70.0h0.8v0.8h-0.8zM146.5 89.4h0.8v0.8h-0.8zM138.0 89.8h0.8v0.8h-0.8zM145.8 79.9h0.8v0.8h-0.8zM138.0 84.2h0.8v0.8h-0.8zM138.4 86.1h0.8v0.8h-0.8zM137.9 89.6h0.8v0.8h-0.8zM136.7 84.3h0.8v0.8h-0.8zM135.8 94.3h0.8v0.8h-0.8zM141.3 82.1h0.8v0.8h-0.8zM148.5 79.9h0.8v0.8h-0.8zM145.4 80.8h0.8v0.8h-0.8zM162.6 67.9h0.8v0.8h-0.8zM139.8 78.6h0.8v0.8h-0.8zM143.3 89.9h0.8v0.8h-0.8zM137.5 85.3h0.8v0.8h-0.8zM141.4 78.6h0.8v0.8h-0.8zM147.6 85.8h0.8v0.8h-0.8zM142.7 71.1h0.8v0.8h-0.8zM137.2 81.9h0.8v0.8h-0.8zM136.7 86.9h0.8v0.8h-0.8zM138.2 88.0h0.8v0.8h-0.8zM136.4 78.9h0.8v0.8h-0.8zM136.2 89.3h0.8v0.8h-0.8zM141.9 95.3h0.8v0.8h-0.8zM136.0 81.0h0.8v0.8h-0.8zM137.4 88.3h0.8v0.8h-0.8zM143.3 74.0h0.8v0.8h-0.8zM134.9 71.5h0.8v0.8h-0.8zM144.6 87.5h0.8v0.8h-0.8zM136.7 83.9h0.8v0.8h-0.8zM135.8 84.9h0.8v0.8h-0.8zM139.2 80.1h0.8v0.8h-0.8zM138.4 81.8h0.8v0.8h-0.8zM139.3 88.7h0.8v0.8h-0.8zM151.4 94.3h0.8v0.8h-0.8zM141.2 82.3h0.8v0.8h-0.8zM138.6 73.4h0.8v0.8h-0.8zM143.1 91.6h0.8v0.8h-0.8zM142.3 87.4h0.8v0.8h-0.8zM136.7 87.9h0.8v0.8h-0.8zM138.4 84.8h0.8v0.8h-0.8zM137.9 98.1h0.8v0.8h-0.8zM136.0 84.1h0.8v0.8h-0.8zM140.4 86.9h0.8v0.8h-0.8zM137.9 72.2h0.8v0.8h-0.8zM139.8 80.1h0.8v0.8h-0.8zM141.2 79.4h0.8v0.8h-0.8zM137.8 83.5h0.8v0.8h-0.8zM151.7 85.8h0.8v0.8h-0.8zM141.6 79.0h0.8v0.8h-0.8zM139.8 94.4h0.8v0.8h-0.8zM141.3 77.1h0.8v0.8h-0.8zM150.7 80.9h0.8v0.8h-0.8zM136.6 85.2h0.8v0.8h-0.8zM145.6 75.9h0.8v0.8h-0.8zM136.5 87.2h0.8v0.8h-0.8zM144.0 87.6h0.8v0.8h-0.8zM136.0 81.9h0.8v0.8h-0.8zM139.5 95.5h0.8v0.8h-0.8zM137.7 84.2h0.8v0.8h-0.8zM138.7 85.4h0.8v0.8h-0.8zM146.9 77.7h0.8v0.8h-0.8zM148.0 73.3h0.8v0.8h-0.8zM140.6 79.8h0.8v0.8h-0.8zM137.9 81.7h0.8v0.8h-0.8zM146.6 80.9h0.8v0.8h-0.8zM136.3 88.5h0.8v0.8h-0.8zM135.6 68.9h0.8v0.8h-0.8zM140.2 76.6h0.8v0.8h-0.8zM140.2 72.4h0.8v0.8h-0.8zM141.9 92.0h0.8v0.8h-0.8zM140.7 80.2h0.8v0.8h-0.8zM168.5 80.5h0.8v0.8h-0.8zM137.3 76.8h0.8v0.8h-0.8zM138.8 89.3h0.8v0.8h-0.8zM137.6 81.1h0.8v0.8h-0.8zM147.1 85.1h0.8v0.8h-0.8zM137.4 71.1h0.8v0.8h-0.8zM136.2 91.0h0.8v0.8h-0.8zM139.8 86.1h0.8v0.8h-0.8zM138.0 87.1h0.8v0.8h-0.8zM142.5 91.4h0.8v0.8h-0.8zM134.6 82.5h0.8v0.8h-0.8zM145.9 82.7h0.8v0.8h-0.8zM142.2 88.1h0.8v0.8h-0.8zM138.9 86.3h0.8v0.8h-0.8zM137.9 82.2h0.8v0.8h-0.8zM143.0 84.0h0.8v0.8h-0.8zM139.3 80.6h0.8v0.8h-0.8zM142.9 88.1h0.8v0.8h-0.8zM155.3 89.5h0.8v0.8h-0.8zM141.0 83.7h0.8v0.8h-0.8zM148.3 95.4h0.8v0.8h-0.8zM144.4 74.1h0.8v0.8h-0.8zM138.0 82.2h0.8v0.8h-0.8zM150.1 94.3h0.8v0.8h-0.8zM145.5 81.1h0.8v0.8h-0.8zM136.8 73.8h0.8v0.8h-0.8zM142.5 92.4h0.8v0.8h-0.8zM156.0 87.1h0.8v0.8h-0.8zM147.1 76.3h0.8v0.8h-0.8zM145.7 88.5h0.8v0.8h-0.8zM138.7 77.3h0.8v0.8h-0.8zM140.6 75.4h0.8v0.8h-0.8zM143.4 82.8h0.8v0.8h-0.8zM137.6 80.7h0.8v0.8h-0.8zM135.1 76.9h0.8v0.8h-0.8zM153.5 81.4h0.8v0.8h-0.8zM137.8 77.5h0.8v0.8h-0.8zM153.6 84.1h0.8v0.8h-0.8zM139.8 83.6h0.8v0.8h-0.8zM137.1 88.3h0.8v0.8h-0.8zM136.4 80.9h0.8v0.8h-0.8zM148.0 75.4h0.8v0.8h-0.8zM139.1 75.5h0.8v0.8h-0.8zM135.8 82.2h0.8v0.8h-0.8zM143.0 93.3h0.8v0.8h-0.8zM140.7 89.0h0.8v0.8h-0.8zM137.9 79.7h0.8v0.8h-0.8zM137.7 89.6h0.8v0.8h-0.8zM137.7 76.5h0.8v0.8h-0.8zM140.7 90.0h0.8v0.8h-0.8zM138.4 81.3h0.8v0.8h-0.8zM136.3 88.5h0.8v0.8h-0.8zM147.5 87.6h0.8v0.8h-0.8zM150.8 82.0h0.8v0.8h-0.8zM139.9 85.7h0.8v0.8h-0.8zM140.8 77.1h0.8v0.8h-0.8zM147.6 83.2h0.8v0.8h-0.8zM137.8 90.4h0.8v0.8h-0.8zM149.8 88.1h0.8v0.8h-0.8zM139.5 84.3h0.8v0.8h-0.8zM134.7 77.4h0.8v0.8h-0.8zM136.1 90.3h0.8v0.8h-0.8zM137.6 73.4h0.8v0.8h-0.8zM140.6 78.7h0.8v0.8h-0.8zM135.1 85.9h0.8v0.8h-0.8zM135.5 76.2h0.8v0.8h-0.8zM143.2 93.3h0.8v0.8h-0.8zM144.8 90.5h0.8v0.8h-0.8zM139.9 80.2h0.8v0.8h-0.8zM149.0 80.3h0.8v0.8h-0.8zM148.6 75.5h0.8v0.8h-0.8zM147.7 75.0h0.8v0.8h-0.8zM136.0 86.5h0.8v0.8h-0.8zM156.6 87.6h0.8v0.8h-0.8zM135.6 85.9h0.8v0.8h-0.8zM139.1 85.4h0.8v0.8h-0.8zM134.3 80.2h0.8v0.8h-0.8zM142.6 86.0h0.8v0.8h-0.8zM139.7 74.6h0.8v0.8h-0.8zM144.8 83.8h0.8v0.8h-0.8zM139.4 92.9h0.8v0.8h-0.8zM136.1 91.9h0.8v0.8h-0.8zM140.3 80.8h0.8v0.8h-0.8zM135.5 81.6h0.8v0.8h-0.8zM159.0 92.3h0.8v0.8h-0.8zM135.1 94.8h0.8v0.8h-0.8zM144.8 74.4h0.8v0.8h-0.8zM136.4 81.1h0.8v0.8h-0.8zM137.4 85.2h0.8v0.8h-0.8zM138.1 91.3h0.8v0.8h-0.8zM145.7 78.5h0.8v0.8h-0.8zM140.8 87.7h0.8v0.8h-0.8zM141.4 81.8h0.8v0.8h-0.8zM135.7 98.5h0.8v0.8h-0.8zM146.2 86.4h0.8v0.8h-0.8zM139.4 82.9h0.8v0.8h-0.8zM138.6 81.6h0.8v0.8h-0.8zM151.8 90.3h0.8v0.8h-0.8zM147.1 87.9h0.8v0.8h-0.8zM141.1 77.0h0.8v0.8h-0.8zM145.8 85.1h0.8v0.8h-0.8zM136.2 75.4h0.8v0.8h-0.8zM140.0 79.0h0.8v0.8h-0.8zM141.9 75.7h0.8v0.8h-0.8zM138.9 75.5h0.8v0.8h-0.8zM137.9 79.4h0.8v0.8h-0.8zM140.2 77.6h0.8v0.8h-0.8zM136.2 87.0h0.8v0.8h-0.8zM140.2 88.7h0.8v0.8h-0.8zM149.0 82.2h0.8v0.8h-0.8zM144.2 76.8h0.8v0.8h-0.8zM142.4 88.7h0.8v0.8h-0.8zM138.2 71.1h0.8v0.8h-0.8zM159.2 71.7h0.8v0.8h-0.8zM141.3 88.3h0.8v0.8h-0.8zM136.6 87.8h0.8v0.8h-0.8zM160.9 89.8h0.8v0.8h-0.8zM159.8 82.4h0.8v0.8h-0.8zM141.4 75.9h0.8v0.8h-0.8zM145.1 80.6h0.8v0.8h-0.8zM143.7 87.3h0.8v0.8h-0.8zM142.0 78.9h0.8v0.8h-0.8zM146.5 79.4h0.8v0.8h-0.8zM138.0 75.0h0.8v0.8h-0.8zM138.0 76.5h0.8v0.8h-0.8zM136.9 89.0h0.8v0.8h-0.8zM143.6 86.6h0.8v0.8h-0.8zM141.0 76.5h0.8v0.8h-0.8zM140.6 77.0h0.8v0.8h-0.8zM148.1 80.2h0.8v0.8h-0.8zM138.5 87.1h0.8v0.8h-0.8zM140.1 76.4h0.8v0.8h-0.8zM144.0 82.7h0.8v0.8h-0.8zM157.8 70.4h0.8v0.8h-0.8zM157.6 75.9h0.8v0.8h-0.8zM145.8 86.3h0.8v0.8h-0.8zM141.8 89.3h0.8v0.8h-0.8zM145.5 76.5h0.8v0.8h-0.8zM145.6 78.9h0.8v0.8h-0.8zM148.2 88.7h0.8v0.8h-0.8zM140.8 81.3h0.8v0.8h-0.8zM135.7 80.4h0.8v0.8h-0.8zM145.7 87.0h0.8v0.8h-0.8zM138.8 84.9h0.8v0.8h-0.8zM141.1 90.6h0.8v0.8h-0.8zM137.7 88.7h0.8v0.8h-0.8zM142.3 80.1h0.8v0.8h-0.8zM135.9 83.0h0.8v0.8h-0.8zM139.5 83.4h0.8v0.8h-0.8zM145.8 75.3h0.8v0.8h-0.8zM139.8 77.7h0.8v0.8h-0.8zM139.4 89.8h0.8v0.8h-0.8zM150.9 73.8h0.8v0.8h-0.8zM165.4 89.9h0.8v0.8h-0.8zM140.2 85.5h0.8v0.8h-0.8zM139.7 82.9h0.8v0.8h-0.8zM136.9 87.1h0.8v0.8h-0.8zM143.0 86.7h0.8v0.8h-0.8zM148.1 91.3h0.8v0.8h-0.8zM142.9 81.2h0.8v0.8h-0.8zM138.9 82.3h0.8v0.8h-0.8zM144.5 82.2h0.8v0.8h-0.8zM141.3 95.5h0.8v0.8h-0.8zM139.3 89.6h0.8v0.8h-0.8zM136.7 78.0h0.8v0.8h-0.8zM143.7 81.7h0.8v0.8h-0.8zM141.3 79.3h0.8v0.8h-0.8zM151.1 83.8h0.8v0.8h-0.8zM138.1 85.1h0.8v0.8h-0.8zM141.7 98.0h0.8v0.8h-0.8zM143.9 72.4h0.8v0.8h-0.8zM138.6 90.1h0.8v0.8h-0.8zM139.5 86.5h0.8v0.8h-0.8zM139.7 79.4h0.8v0.8h-0.8zM143.5 82.8h0.8v0.8h-0.8zM154.7 80.7h0.8v0.8h-0.8zM144.4 84.1h0.8v0.8h-0.8zM135.6 90.0h0.8v0.8h-0.8zM137.2 74.3h0.8v0.8h-0.8zM140.8 91.9h0.8v0.8h-0.8zM145.9 81.4h0.8v0.8h-0.8zM142.3 93.1h0.8v0.8h-0.8zM145.2 86.3h0.8v0.8h-0.8zM137.7 91.4h0.8v0.8h-0.8zM167.6 87.3h0.8v0.8h-0.8zM139.6 90.5h0.8v0.8h-0.8zM135.6 84.1h0.8v0.8h-0.8zM141.3 78.6h0.8v0.8h-0.8zM156.9 88.0h0.8v0.8h-0.8zM137.1 88.2h0.8v0.8h-0.8zM145.0 96.8h0.8v0.8h-0.8zM144.0 71.3h0.8v0.8h-0.8zM153.9 82.6h0.8v0.8h-0.8zM143.1 90.4h0.8v0.8h-0.8zM147.2 76.0h0.8v0.8h-0.8zM143.0 82.4h0.8v0.8h-0.8zM144.2 96.9h0.8v0.8h-0.8zM137.2 92.6h0.8v0.8h-0.8zM136.6 78.3h0.8v0.8h-0.8zM142.5 92.7h0.8v0.8h-0.8zM141.1 91.2h0.8v0.8h-0.8zM141.9 88.6h0.8v0.8h-0.8zM150.6 86.2h0.8v0.8h-0.8zM136.1 85.3h0.8v0.8h-0.8zM140.9 78.4h0.8v0.8h-0.8zM149.6 80.6h0.8v0.8h-0.8zM136.2 88.4h0.8v0.8h-0.8zM137.1 84.7h0.8v0.8h-0.8zM134.9 95.3h0.8v0.8h-0.8zM145.2 81.7h0.8v0.8h-0.8zM143.8 68.9h0.8v0.8h-0.8zM135.5 81.7h0.8v0.8h-0.8zM149.5 85.5h0.8v0.8h-0.8zM138.7 86.2h0.8v0.8h-0.8zM139.3 84.2h0.8v0.8h-0.8zM144.0 78.7h0.8v0.8h-0.8zM146.4 93.1h0.8v0.8h-0.8zM136.9 79.7h0.8v0.8h-0.8zM142.5 88.2h0.8v0.8h-0.8zM140.5 82.0h0.8v0.8h-0.8zM152.3 76.4h0.8v0.8h-0.8zM137.7 92.6h0.8v0.8h-0.8zM152.1 68.3h0.8v0.8h-0.8zM135.0 78.5h0.8v0.8h-0.8zM144.9 86.5h0.8v0.8h-0.8zM153.5 81.6h0.8v0.8h-0.8zM145.4 88.5h0.8v0.8h-0.8zM151.1 83.2h0.8v0.8h-0.8zM148.3 81.0h0.8v0.8h-0.8zM135.6 97.3h0.8v0.8h-0.8zM138.1 82.5h0.8v0.8h-0.8zM149.9 82.9h0.8v0.8h-0.8zM142.6 77.1h0.8v0.8h-0.8zM140.3 79.2h0.8v0.8h-0.8zM152.4 87.9h0.8v0.8h-0.8zM144.0 87.4h0.8v0.8h-0.8zM136.4 83.9h0.8v0.8h-0.8zM141.5 79.5h0.8v0.8h-0.8zM139.0 88.1h0.8v0.8h-0.8zM136.9 73.3h0.8v0.8h-0.8zM139.8 81.8h0.8v0.8h-0.8zM138.8 82.3h0.8v0.8h-0.8zM140.9 78.6h0.8v0.8h-0.8zM140.5 84.8h0.8v0.8h-0.8zM139.2 79.7h0.8v0.8h-0.8zM138.7 78.9h0.8v0.8h-0.8zM141.0 95.1h0.8v0.8h-0.8zM140.1 88.5h0.8v0.8h-0.8zM140.9 91.3h0.8v0.8h-0.8zM140.7 84.2h0.8v0.8h-0.8zM137.3 89.9h0.8v0.8h-0.8zM142.1 88.8h0.8v0.8h-0.8zM136.5 91.4h0.8v0.8h-0.8zM144.3 98.6h0.8v0.8h-0.8zM155.0 82.5h0.8v0.8h-0.8zM140.4 85.5h0.8v0.8h-0.8zM141.4 83.6h0.8v0.8h-0.8zM161.4 62.1h0.8v0.8h-0.8zM140.4 75.3h0.8v0.8h-0.8zM136.5 84.1h0.8v0.8h-0.8zM143.3 87.9h0.8v0.8h-0.8zM137.1 80.4h0.8v0.8h-0.8zM145.3 91.0h0.8v0.8h-0.8zM136.1 91.9h0.8v0.8h-0.8zM141.6 81.4h0.8v0.8h-0.8zM142.6 92.8h0.8v0.8h-0.8zM149.3 94.8h0.8v0.8h-0.8zM143.5 86.8h0.8v0.8h-0.8zM136.4 77.9h0.8v0.8h-0.8zM142.3 93.1h0.8v0.8h-0.8zM141.5 83.0h0.8v0.8h-0.8zM153.3 81.6h0.8v0.8h-0.8zM139.0 84.7h0.8v0.8h-0.8zM139.7 80.7h0.8v0.8h-0.8zM143.7 90.6h0.8v0.8h-0.8zM139.8 88.8h0.8v0.8h-0.8zM136.7 91.6h0.8v0.8h-0.8zM137.7 87.6h0.8v0.8h-0.8zM141.7 79.1h0.8v0.8h-0.8zM140.9 83.0h0.8v0.8h-0.8zM137.0 89.4h0.8v0.8h-0.8zM139.8 81.5h0.8v0.8h-0.8zM141.4 102.1h0.8v0.8h-0.8zM134.6 82.5h0.8v0.8h-0.8zM135.5 80.4h0.8v0.8h-0.8zM134.6 91.1h0.8v0.8h-0.8zM135.1 88.6h0.8v0.8h-0.8zM142.1 83.8h0.8v0.8h-0.8zM141.6 82.6h0.8v0.8h-0.8zM134.9 86.6h0.8v0.8h-0.8zM145.3 89.2h0.8v0.8h-0.8zM147.6 88.7h0.8v0.8h-0.8zM141.0 82.1h0.8v0.8h-0.8zM143.0 86.7h0.8v0.8h-0.8zM143.2 89.2h0.8v0.8h-0.8zM138.1 88.7h0.8v0.8h-0.8zM152.6 64.9h0.8v0.8h-0.8zM137.0 78.5h0.8v0.8h-0.8zM138.9 79.2h0.8v0.8h-0.8zM134.2 82.6h0.8v0.8h-0.8zM145.7 85.1h0.8v0.8h-0.8zM138.0 89.7h0.8v0.8h-0.8zM154.4 87.8h0.8v0.8h-0.8zM153.2 83.2h0.8v0.8h-0.8zM134.4 84.1h0.8v0.8h-0.8zM139.9 94.9h0.8v0.8h-0.8zM140.7 80.2h0.8v0.8h-0.8zM138.7 85.9h0.8v0.8h-0.8zM136.9 93.7h0.8v0.8h-0.8zM139.1 86.1h0.8v0.8h-0.8zM141.0 71.3h0.8v0.8h-0.8zM140.4 86.3h0.8v0.8h-0.8zM139.4 81.6h0.8v0.8h-0.8zM143.0 83.3h0.8v0.8h-0.8zM139.5 90.5h0.8v0.8h-0.8zM150.9 86.9h0.8v0.8h-0.8zM137.4 82.4h0.8v0.8h-0.8zM140.4 89.5h0.8v0.8h-0.8zM143.5 86.7h0.8v0.8h-0.8zM144.2 84.7h0.8v0.8h-0.8zM151.3 85.9h0.8v0.8h-0.8zM138.2 85.6h0.8v0.8h-0.8zM147.1 81.9h0.8v0.8h-0.8zM140.5 81.2h0.8v0.8h-0.8zM134.8 84.2h0.8v0.8h-0.8zM146.2 78.1h0.8v0.8h-0.8zM135.9 76.2h0.8v0.8h-0.8zM138.4 92.1h0.8v0.8h-0.8zM143.5 82.5h0.8v0.8h-0.8zM138.2 83.9h0.8v0.8h-0.8zM137.0 83.2h0.8v0.8h-0.8zM143.7 84.1h0.8v0.8h-0.8zM147.3 84.1h0.8v0.8h-0.8zM138.0 84.4h0.8v0.8h-0.8zM139.0 79.0h0.8v0.8h-0.8zM142.9 89.8h0.8v0.8h-0.8zM141.0 79.7h0.8v0.8h-0.8zM139.4 90.4h0.8v0.8h-0.8zM155.3 72.1h0.8v0.8h-0.8zM139.2 77.4h0.8v0.8h-0.8zM137.0 90.2h0.8v0.8h-0.8zM138.8 83.1h0.8v0.8h-0.8zM142.7 79.8h0.8v0.8h-0.8zM137.6 86.3h0.8v0.8h-0.8zM136.8 77.5h0.8v0.8h-0.8zM135.4 84.5h0.8v0.8h-0.8zM158.2 70.3h0.8v0.8h-0.8zM143.9 81.2h0.8v0.8h-0.8zM136.2 80.0h0.8v0.8h-0.8zM143.5 87.3h0.8v0.8h-0.8zM143.0 89.4h0.8v0.8h-0.8zM148.7 78.7h0.8v0.8h-0.8zM136.8 94.0h0.8v0.8h-0.8zM148.7 80.3h0.8v0.8h-0.8zM145.6 71.3h0.8v0.8h-0.8zM136.2 69.2h0.8v0.8h-0.8zM141.5 93.5h0.8v0.8h-0.8zM141.8 83.5h0.8v0.8h-0.8zM142.3 80.0h0.8v0.8h-0.8zM134.5 79.4h0.8v0.8h-0.8zM141.9 77.2h0.8v0.8h-0.8zM138.8 92.4h0.8v0.8h-0.8zM145.7 83.5h0.8v0.8h-0.8zM141.7 95.1h0.8v0.8h-0.8zM138.0 82.8h0.8v0.8h-0.8zM136.7 69.4h0.8v0.8h-0.8zM139.3 89.2h0.8v0.8h-0.8zM142.1 81.7h0.8v0.8h-0.8zM140.3 82.5h0.8v0.8h-0.8zM135.7 93.7h0.8v0.8h-0.8zM152.3 82.4h0.8v0.8h-0.8zM145.9 91.2h0.8v0.8h-0.8zM140.9 84.0h0.8v0.8h-0.8zM141.6 79.3h0.8v0.8h-0.8zM143.8 87.1h0.8v0.8h-0.8zM141.9 80.3h0.8v0.8h-0.8zM139.6 91.6h0.8v0.8h-0.8zM148.1 90.0h0.8v0.8h-0.8zM139.8 84.4h0.8v0.8h-0.8zM139.2 87.8h0.8v0.8h-0.8zM140.9 87.5h0.8v0.8h-0.8zM140.1 82.3h0.8v0.8h-0.8zM141.5 89.5h0.8v0.8h-0.8zM176.5 82.6h0.8v0.8h-0.8zM138.4 87.8h0.8v0.8h-0.8zM143.3 78.1h0.8v0.8h-0.8zM146.2 84.6h0.8v0.8h-0.8zM135.6 86.6h0.8v0.8h-0.8zM139.4 79.1h0.8v0.8h-0.8zM135.5 81.4h0.8v0.8h-0.8zM137.6 80.7h0.8v0.8h-0.8zM135.5 88.5h0.8v0.8h-0.8zM141.7 79.6h0.8v0.8h-0.8zM138.0 86.7h0.8v0.8h-0.8zM147.3 93.5h0.8v0.8h-0.8zM139.2 86.2h0.8v0.8h-0.8zM138.8 74.0h0.8v0.8h-0.8zM138.0 84.8h0.8v0.8h-0.8zM137.2 90.5h0.8v0.8h-0.8zM147.3 82.3h0.8v0.8h-0.8zM135.8 90.9h0.8v0.8h-0.8zM148.8 87.9h0.8v0.8h-0.8zM139.6 86.7h0.8v0.8h-0.8zM136.0 82.4h0.8v0.8h-0.8zM141.1 80.9h0.8v0.8h-0.8zM137.9 82.5h0.8v0.8h-0.8zM137.7 84.4h0.8v0.8h-0.8zM149.2 87.3h0.8v0.8h-0.8zM144.2 86.7h0.8v0.8h-0.8zM134.0 82.2h0.8v0.8h-0.8zM139.6 84.5h0.8v0.8h-0.8zM139.5 86.5h0.8v0.8h-0.8zM138.4 74.0h0.8v0.8h-0.8zM152.1 79.3h0.8v0.8h-0.8zM137.0 79.1h0.8v0.8h-0.8zM137.1 82.8h0.8v0.8h-0.8zM141.3 82.4h0.8v0.8h-0.8zM147.9 82.5h0.8v0.8h-0.8zM135.6 78.7h0.8v0.8h-0.8zM139.5 88.3h0.8v0.8h-0.8zM139.1 85.8h0.8v0.8h-0.8zM144.1 73.9h0.8v0.8h-0.8zM160.0 84.2h0.8v0.8h-0.8zM145.6 77.1h0.8v0.8h-0.8zM138.4 94.6h0.8v0.8h-0.8zM137.3 81.3h0.8v0.8h-0.8zM134.1 81.7h0.8v0.8h-0.8zM140.8 84.6h0.8v0.8h-0.8zM146.1 82.9h0.8v0.8h-0.8zM144.6 83.7h0.8v0.8h-0.8zM138.1 93.7h0.8v0.8h-0.8zM152.3 85.5h0.8v0.8h-0.8zM136.2 89.3h0.8v0.8h-0.8zM147.6 91.1h0.8v0.8h-0.8zM143.3 78.1h0.8v0.8h-0.8zM138.0 94.6h0.8v0.8h-0.8zM147.4 88.4h0.8v0.8h-0.8zM136.4 90.0h0.8v0.8h-0.8zM136.9 78.8h0.8v0.8h-0.8zM142.4 89.2h0.8v0.8h-0.8zM155.7 86.7h0.8v0.8h-0.8zM146.2 80.8h0.8v0.8h-0.8zM137.8 98.3h0.8v0.8h-0.8zM153.3 87.6h0.8v0.8h-0.8zM163.1 82.6h0.8v0.8h-0.8zM142.2 85.3h0.8v0.8h-0.8zM141.1 89.8h0.8v0.8h-0.8zM136.6 91.1h0.8v0.8h-0.8zM136.5 87.7h0.8v0.8h-0.8zM135.6 91.7h0.8v0.8h-0.8zM136.6 93.2h0.8v0.8h-0.8zM135.3 76.5h0.8v0.8h-0.8zM139.0 81.1h0.8v0.8h-0.8zM137.4 78.3h0.8v0.8h-0.8zM138.6 84.7h0.8v0.8h-0.8zM142.8 93.1h0.8v0.8h-0.8zM136.4 88.2h0.8v0.8h-0.8zM137.4 77.6h0.8v0.8h-0.8zM141.0 82.3h0.8v0.8h-0.8zM162.7 90.5h0.8v0.8h-0.8zM145.9 80.8h0.8v0.8h-0.8zM134.6 83.5h0.8v0.8h-0.8zM144.6 86.0h0.8v0.8h-0.8zM143.3 72.8h0.8v0.8h-0.8zM139.1 89.0h0.8v0.8h-0.8zM136.9 86.2h0.8v0.8h-0.8zM142.3 87.6h0.8v0.8h-0.8zM155.4 78.1h0.8v0.8h-0.8zM146.8 79.4h0.8v0.8h-0.8zM138.9 80.4h0.8v0.8h-0.8zM138.9 85.7h0.8v0.8h-0.8zM143.7 84.6h0.8v0.8h-0.8zM143.2 84.9h0.8v0.8h-0.8zM150.8 95.2h0.8v0.8h-0.8zM140.7 92.2h0.8v0.8h-0.8zM139.4 79.7h0.8v0.8h-0.8zM137.9 80.1h0.8v0.8h-0.8zM138.8 94.8h0.8v0.8h-0.8zM137.6 82.2h0.8v0.8h-0.8zM137.2 92.7h0.8v0.8h-0.8zM135.1 94.0h0.8v0.8h-0.8zM137.7 80.8h0.8v0.8h-0.8zM143.2 82.5h0.8v0.8h-0.8zM148.5 84.6h0.8v0.8h-0.8zM140.1 78.8h0.8v0.8h-0.8zM154.9 78.1h0.8v0.8h-0.8zM151.8 81.6h0.8v0.8h-0.8zM134.5 89.4h0.8v0.8h-0.8zM141.5 81.3h0.8v0.8h-0.8zM141.3 82.8h0.8v0.8h-0.8zM144.4 81.2h0.8v0.8h-0.8zM148.9 75.7h0.8v0.8h-0.8zM138.7 93.3h0.8v0.8h-0.8zM147.4 69.6h0.8v0.8h-0.8zM134.8 80.1h0.8v0.8h-0.8zM144.4 87.6h0.8v0.8h-0.8zM136.0 75.5h0.8v0.8h-0.8zM136.0 87.9h0.8v0.8h-0.8zM146.5 91.9h0.8v0.8h-0.8zM137.6 78.8h0.8v0.8h-0.8zM144.5 85.4h0.8v0.8h-0.8zM140.2 77.2h0.8v0.8h-0.8zM142.2 87.3h0.8v0.8h-0.8zM138.8 84.7h0.8v0.8h-0.8zM135.0 85.5h0.8v0.8h-0.8zM149.8 92.6h0.8v0.8h-0.8zM149.9 87.0h0.8v0.8h-0.8zM141.3 92.5h0.8v0.8h-0.8zM140.1 88.1h0.8v0.8h-0.8zM137.4 76.7h0.8v0.8h-0.8zM136.8 85.7h0.8v0.8h-0.8zM136.7 87.2h0.8v0.8h-0.8zM135.7 75.2h0.8v0.8h-0.8zM139.9 92.4h0.8v0.8h-0.8zM149.5 84.5h0.8v0.8h-0.8zM138.5 86.4h0.8v0.8h-0.8zM143.3 78.6h0.8v0.8h-0.8zM143.7 84.6h0.8v0.8h-0.8zM137.4 86.0h0.8v0.8h-0.8zM144.9 82.1h0.8v0.8h-0.8zM140.3 84.6h0.8v0.8h-0.8zM152.0 71.0h0.8v0.8h-0.8zM150.6 92.6h0.8v0.8h-0.8zM139.4 77.2h0.8v0.8h-0.8zM139.4 70.6h0.8v0.8h-0.8zM154.6 78.2h0.8v0.8h-0.8zM136.8 78.9h0.8v0.8h-0.8zM156.8 87.5h0.8v0.8h-0.8zM150.2 78.5h0.8v0.8h-0.8zM138.6 85.9h0.8v0.8h-0.8zM140.2 78.2h0.8v0.8h-0.8zM146.6 97.8h0.8v0.8h-0.8zM136.3 87.5h0.8v0.8h-0.8zM136.7 96.2h0.8v0.8h-0.8zM146.7 77.8h0.8v0.8h-0.8zM142.6 88.2h0.8v0.8h-0.8zM143.2 78.2h0.8v0.8h-0.8zM166.8 87.7h0.8v0.8h-0.8zM142.1 88.3h0.8v0.8h-0.8zM138.6 74.2h0.8v0.8h-0.8zM147.9 77.1h0.8v0.8h-0.8zM144.6 76.9h0.8v0.8h-0.8zM138.5 74.8h0.8v0.8h-0.8zM136.8 79.6h0.8v0.8h-0.8zM143.5 78.1h0.8v0.8h-0.8zM138.8 75.1h0.8v0.8h-0.8zM137.3 84.7h0.8v0.8h-0.8zM137.8 87.5h0.8v0.8h-0.8zM151.1 75.9h0.8v0.8h-0.8zM139.8 80.6h0.8v0.8h-0.8zM142.1 84.1h0.8v0.8h-0.8zM135.6 82.6h0.8v0.8h-0.8zM135.8 79.7h0.8v0.8h-0.8zM134.9 89.1h0.8v0.8h-0.8zM141.3 89.3h0.8v0.8h-0.8zM137.8 88.3h0.8v0.8h-0.8zM134.5 82.8h0.8v0.8h-0.8zM161.5 96.4h0.8v0.8h-0.8zM141.1 94.9h0.8v0.8h-0.8zM137.3 81.6h0.8v0.8h-0.8zM147.7 83.3h0.8v0.8h-0.8zM143.2 91.4h0.8v0.8h-0.8zM142.9 79.1h0.8v0.8h-0.8zM152.5 86.5h0.8v0.8h-0.8zM139.7 84.4h0.8v0.8h-0.8zM145.7 79.7h0.8v0.8h-0.8zM137.0 82.6h0.8v0.8h-0.8zM136.3 74.3h0.8v0.8h-0.8zM136.5 80.7h0.8v0.8h-0.8zM142.3 71.7h0.8v0.8h-0.8zM140.9 98.2h0.8v0.8h-0.8zM138.3 93.4h0.8v0.8h-0.8zM143.2 91.7h0.8v0.8h-0.8zM148.7 85.9h0.8v0.8h-0.8zM135.7 90.2h0.8v0.8h-0.8zM144.7 91.9h0.8v0.8h-0.8zM147.1 90.4h0.8v0.8h-0.8zM142.7 89.7h0.8v0.8h-0.8zM144.1 78.4h0.8v0.8h-0.8zM139.3 86.7h0.8v0.8h-0.8zM136.1 80.7h0.8v0.8h-0.8zM148.7 76.7h0.8v0.8h-0.8zM137.3 77.0h0.8v0.8h-0.8zM144.4 86.7h0.8v0.8h-0.8zM151.9 90.6h0.8v0.8h-0.8zM148.5 75.6h0.8v0.8h-0.8zM141.9 94.9h0.8v0.8h-0.8zM142.0 93.1h0.8v0.8h-0.8zM148.7 81.7h0.8v0.8h-0.8zM150.6 81.2h0.8v0.8h-0.8zM136.6 83.6h0.8v0.8h-0.8zM135.5 90.1h0.8v0.8h-0.8zM142.7 81.6h0.8v0.8h-0.8zM144.4 77.2h0.8v0.8h-0.8zM141.0 86.1h0.8v0.8h-0.8zM141.2 71.2h0.8v0.8h-0.8zM138.7 84.9h0.8v0.8h-0.8zM142.1 91.2h0.8v0.8h-0.8zM135.3 85.9h0.8v0.8h-0.8zM143.9 88.8h0.8v0.8h-0.8zM147.2 87.1h0.8v0.8h-0.8zM144.1 88.5h0.8v0.8h-0.8zM136.6 84.9h0.8v0.8h-0.8zM138.7 78.9h0.8v0.8h-0.8zM142.3 82.6h0.8v0.8h-0.8zM140.2 83.5h0.8v0.8h-0.8zM142.2 91.8h0.8v0.8h-0.8zM142.8 94.1h0.8v0.8h-0.8zM136.6 86.6h0.8v0.8h-0.8zM143.5 79.3h0.8v0.8h-0.8zM162.8 79.5h0.8v0.8h-0.8zM138.9 82.8h0.8v0.8h-0.8zM137.5 92.6h0.8v0.8h-0.8zM142.5 86.1h0.8v0.8h-0.8zM141.6 83.7h0.8v0.8h-0.8zM147.5 79.3h0.8v0.8h-0.8zM144.8 89.5h0.8v0.8h-0.8zM147.7 85.8h0.8v0.8h-0.8zM138.9 83.7h0.8v0.8h-0.8zM147.3 84.6h0.8v0.8h-0.8zM145.4 94.5h0.8v0.8h-0.8zM149.8 83.0h0.8v0.8h-0.8zM151.2 94.5h0.8v0.8h-0.8zM137.2 91.7h0.8v0.8h-0.8zM136.8 84.3h0.8v0.8h-0.8zM138.4 89.5h0.8v0.8h-0.8zM151.5 83.2h0.8v0.8h-0.8zM142.7 78.9h0.8v0.8h-0.8zM135.6 82.3h0.8v0.8h-0.8zM139.8 78.4h0.8v0.8h-0.8zM135.4 87.2h0.8v0.8h-0.8zM159.0 84.1h0.8v0.8h-0.8zM144.4 87.5h0.8v0.8h-0.8zM136.2 89.1h0.8v0.8h-0.8zM143.3 64.7h0.8v0.8h-0.8zM166.8 85.9h0.8v0.8h-0.8zM143.6 72.8h0.8v0.8h-0.8zM135.8 85.0h0.8v0.8h-0.8zM139.1 78.6h0.8v0.8h-0.8zM145.6 84.6h0.8v0.8h-0.8zM155.6 92.5h0.8v0.8h-0.8zM146.1 73.4h0.8v0.8h-0.8zM145.0 85.2h0.8v0.8h-0.8zM136.5 83.5h0.8v0.8h-0.8zM145.6 72.3h0.8v0.8h-0.8zM153.7 88.0h0.8v0.8h-0.8zM137.3 84.2h0.8v0.8h-0.8zM137.3 80.8h0.8v0.8h-0.8zM137.2 79.5h0.8v0.8h-0.8zM143.3 103.9h0.8v0.8h-0.8zM140.2 81.6h0.8v0.8h-0.8zM155.9 72.8h0.8v0.8h-0.8zM151.6 78.2h0.8v0.8h-0.8zM145.4 81.7h0.8v0.8h-0.8zM143.0 81.6h0.8v0.8h-0.8zM135.5 83.5h0.8v0.8h-0.8zM139.7 77.5h0.8v0.8h-0.8zM141.0 87.4h0.8v0.8h-0.8zM154.7 81.0h0.8v0.8h-0.8zM141.2 75.6h0.8v0.8h-0.8zM149.6 78.9h0.8v0.8h-0.8zM143.8 81.6h0.8v0.8h-0.8zM145.4 89.3h0.8v0.8h-0.8zM139.0 87.0h0.8v0.8h-0.8zM135.6 81.9h0.8v0.8h-0.8zM146.8 84.1h0.8v0.8h-0.8zM149.2 85.3h0.8v0.8h-0.8zM134.8 96.6h0.8v0.8h-0.8zM138.6 80.2h0.8v0.8h-0.8zM140.5 86.9h0.8v0.8h-0.8zM145.8 88.5h0.8v0.8h-0.8zM136.0 78.1h0.8v0.8h-0.8zM160.3 85.2h0.8v0.8h-0.8zM140.0 85.0h0.8v0.8h-0.8zM144.0 81.1h0.8v0.8h-0.8zM141.0 87.5h0.8v0.8h-0.8zM150.0 90.4h0.8v0.8h-0.8zM146.1 91.0h0.8v0.8h-0.8zM149.0 82.8h0.8v0.8h-0.8zM139.2 85.2h0.8v0.8h-0.8zM143.4 98.6h0.8v0.8h-0.8zM145.5 77.2h0.8v0.8h-0.8zM164.3 85.4h0.8v0.8h-0.8zM147.2 89.5h0.8v0.8h-0.8zM141.2 84.9h0.8v0.8h-0.8zM153.1 88.1h0.8v0.8h-0.8zM138.4 85.1h0.8v0.8h-0.8zM144.0 88.7h0.8v0.8h-0.8zM143.6 92.0h0.8v0.8h-0.8zM139.2 82.6h0.8v0.8h-0.8zM140.0 85.2h0.8v0.8h-0.8zM144.3 83.7h0.8v0.8h-0.8zM135.3 81.5h0.8v0.8h-0.8zM142.0 83.9h0.8v0.8h-0.8zM134.6 77.0h0.8v0.8h-0.8zM134.4 88.6h0.8v0.8h-0.8zM148.4 94.6h0.8v0.8h-0.8zM140.8 94.6h0.8v0.8h-0.8zM146.1 91.9h0.8v0.8h-0.8zM143.4 78.0h0.8v0.8h-0.8zM151.5 93.4h0.8v0.8h-0.8zM140.2 79.6h0.8v0.8h-0.8zM138.6 83.7h0.8v0.8h-0.8zM139.6 95.4h0.8v0.8h-0.8zM134.7 77.4h0.8v0.8h-0.8zM146.3 89.2h0.8v0.8h-0.8zM134.7 85.7h0.8v0.8h-0.8zM143.8 83.1h0.8v0.8h-0.8zM145.9 78.6h0.8v0.8h-0.8zM136.1 86.6h0.8v0.8h-0.8zM136.4 81.1h0.8v0.8h-0.8zM135.8 90.5h0.8v0.8h-0.8zM136.9 91.6h0.8v0.8h-0.8zM139.2 75.4h0.8v0.8h-0.8zM137.7 80.9h0.8v0.8h-0.8zM138.5 82.0h0.8v0.8h-0.8zM136.9 76.7h0.8v0.8h-0.8zM156.5 77.1h0.8v0.8h-0.8zM141.2 84.5h0.8v0.8h-0.8zM137.9 82.7h0.8v0.8h-0.8zM136.4 73.8h0.8v0.8h-0.8zM144.1 80.7h0.8v0.8h-0.8zM141.1 87.2h0.8v0.8h-0.8zM141.4 47.6h0.8v0.8h-0.8zM142.9 54.9h0.8v0.8h-0.8zM156.7 56.5h0.8v0.8h-0.8zM155.2 61.1h0.8v0.8h-0.8zM139.1 71.7h0.8v0.8h-0.8zM140.6 45.8h0.8v0.8h-0.8zM150.1 62.2h0.8v0.8h-0.8zM141.4 41.1h0.8v0.8h-0.8zM146.6 51.6h0.8v0.8h-0.8zM145.5 56.4h0.8v0.8h-0.8zM151.1 40.7h0.8v0.8h-0.8zM134.1 44.3h0.8v0.8h-0.8zM135.9 62.4h0.8v0.8h-0.8zM141.3 61.7h0.8v0.8h-0.8zM153.6 60.0h0.8v0.8h-0.8zM147.2 53.8h0.8v0.8h-0.8zM138.6 80.4h0.8v0.8h-0.8zM150.7 59.5h0.8v0.8h-0.8zM151.9 53.2h0.8v0.8h-0.8zM146.6 76.1h0.8v0.8h-0.8zM146.2 66.5h0.8v0.8h-0.8zM150.4 57.7h0.8v0.8h-0.8zM154.7 71.7h0.8v0.8h-0.8zM148.8 62.4h0.8v0.8h-0.8zM150.9 66.8h0.8v0.8h-0.8zM147.7 63.1h0.8v0.8h-0.8zM145.9 51.7h0.8v0.8h-0.8zM143.0 69.7h0.8v0.8h-0.8zM149.4 62.4h0.8v0.8h-0.8zM146.3 51.9h0.8v0.8h-0.8zM146.7 54.1h0.8v0.8h-0.8zM153.1 69.6h0.8v0.8h-0.8zM150.7 57.7h0.8v0.8h-0.8zM152.8 61.4h0.8v0.8h-0.8zM139.3 66.9h0.8v0.8h-0.8zM151.1 62.2h0.8v0.8h-0.8zM144.8 47.3h0.8v0.8h-0.8zM143.6 66.7h0.8v0.8h-0.8zM143.3 69.4h0.8v0.8h-0.8zM154.7 68.8h0.8v0.8h-0.8zM152.6 75.6h0.8v0.8h-0.8zM144.1 64.3h0.8v0.8h-0.8zM141.7 68.0h0.8v0.8h-0.8zM148.1 75.3h0.8v0.8h-0.8zM145.5 58.4h0.8v0.8h-0.8zM157.1 76.6h0.8v0.8h-0.8zM140.0 76.6h0.8v0.8h-0.8zM137.9 68.0h0.8v0.8h-0.8zM146.6 77.6h0.8v0.8h-0.8zM148.1 68.7h0.8v0.8h-0.8zM148.7 53.1h0.8v0.8h-0.8zM152.1 71.2h0.8v0.8h-0.8zM159.4 63.9h0.8v0.8h-0.8zM146.1 64.7h0.8v0.8h-0.8zM145.0 62.4h0.8v0.8h-0.8zM138.3 73.2h0.8v0.8h-0.8zM149.3 66.0h0.8v0.8h-0.8zM152.7 54.7h0.8v0.8h-0.8zM146.6 65.4h0.8v0.8h-0.8zM154.5 67.6h0.8v0.8h-0.8zM148.2 54.5h0.8v0.8h-0.8zM156.3 57.1h0.8v0.8h-0.8zM149.8 57.6h0.8v0.8h-0.8zM142.2 55.5h0.8v0.8h-0.8zM144.5 64.1h0.8v0.8h-0.8zM139.6 70.2h0.8v0.8h-0.8zM138.4 78.0h0.8v0.8h-0.8zM149.5 71.8h0.8v0.8h-0.8zM152.8 70.2h0.8v0.8h-0.8zM158.7 71.3h0.8v0.8h-0.8zM147.7 73.0h0.8v0.8h-0.8zM146.7 57.6h0.8v0.8h-0.8zM141.9 67.2h0.8v0.8h-0.8zM153.4 63.9h0.8v0.8h-0.8zM150.1 59.8h0.8v0.8h-0.8zM144.7 56.9h0.8v0.8h-0.8zM151.8 56.5h0.8v0.8h-0.8zM151.1 58.6h0.8v0.8h-0.8zM137.7 49.9h0.8v0.8h-0.8zM152.1 65.7h0.8v0.8h-0.8zM148.7 60.8h0.8v0.8h-0.8zM145.8 62.0h0.8v0.8h-0.8zM145.7 64.0h0.8v0.8h-0.8zM157.6 67.5h0.8v0.8h-0.8zM156.4 55.7h0.8v0.8h-0.8zM158.0 60.0h0.8v0.8h-0.8zM141.7 46.5h0.8v0.8h-0.8zM144.4 41.0h0.8v0.8h-0.8zM153.0 43.5h0.8v0.8h-0.8zM141.4 74.8h0.8v0.8h-0.8zM144.0 44.6h0.8v0.8h-0.8zM138.1 65.2h0.8v0.8h-0.8zM158.2 74.3h0.8v0.8h-0.8zM153.8 56.9h0.8v0.8h-0.8zM150.5 75.7h0.8v0.8h-0.8zM149.2 77.6h0.8v0.8h-0.8zM145.7 69.5h0.8v0.8h-0.8zM145.8 82.4h0.8v0.8h-0.8zM151.4 66.6h0.8v0.8h-0.8zM144.1 54.4h0.8v0.8h-0.8zM154.8 65.7h0.8v0.8h-0.8zM145.3 57.0h0.8v0.8h-0.8zM143.2 49.3h0.8v0.8h-0.8zM155.1 49.5h0.8v0.8h-0.8zM147.2 81.8h0.8v0.8h-0.8zM151.1 56.2h0.8v0.8h-0.8zM145.7 60.8h0.8v0.8h-0.8zM135.6 55.1h0.8v0.8h-0.8zM151.0 62.3h0.8v0.8h-0.8zM140.6 58.9h0.8v0.8h-0.8zM154.0 57.4h0.8v0.8h-0.8zM139.5 50.2h0.8v0.8h-0.8zM137.7 48.4h0.8v0.8h-0.8zM149.7 54.4h0.8v0.8h-0.8zM150.3 63.7h0.8v0.8h-0.8zM148.6 79.8h0.8v0.8h-0.8zM141.3 70.6h0.8v0.8h-0.8zM152.9 77.5h0.8v0.8h-0.8zM139.9 65.5h0.8v0.8h-0.8zM145.4 60.3h0.8v0.8h-0.8zM143.7 49.2h0.8v0.8h-0.8zM145.9 61.2h0.8v0.8h-0.8zM152.7 41.8h0.8v0.8h-0.8zM144.5 58.4h0.8v0.8h-0.8zM151.1 75.8h0.8v0.8h-0.8zM151.8 64.1h0.8v0.8h-0.8zM138.6 71.3h0.8v0.8h-0.8zM141.6 57.7h0.8v0.8h-0.8zM145.9 48.8h0.8v0.8h-0.8zM144.7 56.9h0.8v0.8h-0.8zM149.7 57.6h0.8v0.8h-0.8zM137.4 72.0h0.8v0.8h-0.8zM152.0 79.0h0.8v0.8h-0.8zM152.1 54.5h0.8v0.8h-0.8zM147.1 58.0h0.8v0.8h-0.8zM140.4 59.9h0.8v0.8h-0.8zM148.0 58.1h0.8v0.8h-0.8zM145.0 50.0h0.8v0.8h-0.8zM151.1 62.1h0.8v0.8h-0.8zM147.5 64.5h0.8v0.8h-0.8zM152.0 64.7h0.8v0.8h-0.8zM145.6 50.4h0.8v0.8h-0.8zM155.9 60.2h0.8v0.8h-0.8zM135.3 45.6h0.8v0.8h-0.8zM142.4 69.5h0.8v0.8h-0.8zM150.7 52.1h0.8v0.8h-0.8zM139.7 58.8h0.8v0.8h-0.8zM152.0 57.2h0.8v0.8h-0.8zM141.3 56.0h0.8v0.8h-0.8zM148.5 51.7h0.8v0.8h-0.8zM143.0 45.3h0.8v0.8h-0.8zM145.6 76.9h0.8v0.8h-0.8zM149.0 63.6h0.8v0.8h-0.8zM147.4 63.7h0.8v0.8h-0.8zM145.9 80.2h0.8v0.8h-0.8zM159.8 60.4h0.8v0.8h-0.8zM148.0 66.2h0.8v0.8h-0.8zM142.7 61.5h0.8v0.8h-0.8zM153.1 72.0h0.8v0.8h-0.8zM152.5 65.8h0.8v0.8h-0.8zM154.7 64.1h0.8v0.8h-0.8zM157.8 59.0h0.8v0.8h-0.8zM142.8 63.8h0.8v0.8h-0.8zM153.8 71.8h0.8v0.8h-0.8zM154.3 42.6h0.8v0.8h-0.8zM148.0 60.1h0.8v0.8h-0.8zM149.3 57.5h0.8v0.8h-0.8zM131.5 58.6h0.8v0.8h-0.8zM144.8 43.5h0.8v0.8h-0.8zM157.8 67.9h0.8v0.8h-0.8zM138.2 53.7h0.8v0.8h-0.8zM145.1 59.2h0.8v0.8h-0.8zM149.6 56.8h0.8v0.8h-0.8zM151.2 46.3h0.8v0.8h-0.8zM157.0 57.3h0.8v0.8h-0.8zM138.3 44.7h0.8v0.8h-0.8zM148.2 52.8h0.8v0.8h-0.8zM152.7 58.5h0.8v0.8h-0.8zM140.8 61.3h0.8v0.8h-0.8zM147.8 61.8h0.8v0.8h-0.8zM158.4 60.1h0.8v0.8h-0.8zM155.2 80.5h0.8v0.8h-0.8zM151.0 65.2h0.8v0.8h-0.8zM133.6 50.3h0.8v0.8h-0.8zM147.3 55.8h0.8v0.8h-0.8zM150.1 55.4h0.8v0.8h-0.8zM146.3 59.7h0.8v0.8h-0.8zM147.6 55.9h0.8v0.8h-0.8zM165.0 53.6h0.8v0.8h-0.8zM146.8 76.1h0.8v0.8h-0.8zM142.7 61.7h0.8v0.8h-0.8zM149.3 58.3h0.8v0.8h-0.8zM146.3 59.0h0.8v0.8h-0.8zM146.3 59.3h0.8v0.8h-0.8zM147.5 73.8h0.8v0.8h-0.8zM152.3 65.6h0.8v0.8h-0.8zM149.3 71.4h0.8v0.8h-0.8zM147.3 64.2h0.8v0.8h-0.8zM150.6 70.8h0.8v0.8h-0.8zM145.4 79.1h0.8v0.8h-0.8zM154.3 61.6h0.8v0.8h-0.8zM152.3 45.9h0.8v0.8h-0.8zM142.6 66.6h0.8v0.8h-0.8zM149.8 55.9h0.8v0.8h-0.8zM158.9 45.2h0.8v0.8h-0.8zM156.6 55.7h0.8v0.8h-0.8zM147.7 70.8h0.8v0.8h-0.8zM152.9 72.1h0.8v0.8h-0.8zM144.3 67.8h0.8v0.8h-0.8zM140.0 51.9h0.8v0.8h-0.8zM151.0 84.0h0.8v0.8h-0.8zM149.4 50.8h0.8v0.8h-0.8zM150.8 60.6h0.8v0.8h-0.8zM147.9 48.3h0.8v0.8h-0.8zM149.8 73.2h0.8v0.8h-0.8zM145.2 65.3h0.8v0.8h-0.8zM150.6 69.3h0.8v0.8h-0.8zM152.6 62.2h0.8v0.8h-0.8zM147.7 60.7h0.8v0.8h-0.8zM152.5 62.9h0.8v0.8h-0.8zM138.3 44.4h0.8v0.8h-0.8zM143.7 70.3h0.8v0.8h-0.8zM155.9 69.6h0.8v0.8h-0.8zM157.7 57.8h0.8v0.8h-0.8zM149.4 61.2h0.8v0.8h-0.8zM147.4 64.1h0.8v0.8h-0.8zM141.0 75.5h0.8v0.8h-0.8zM150.0 65.3h0.8v0.8h-0.8zM152.3 61.8h0.8v0.8h-0.8zM139.9 56.8h0.8v0.8h-0.8zM151.1 47.8h0.8v0.8h-0.8zM150.7 56.0h0.8v0.8h-0.8zM150.4 62.0h0.8v0.8h-0.8zM141.8 59.1h0.8v0.8h-0.8zM151.0 62.1h0.8v0.8h-0.8zM139.8 68.1h0.8v0.8h-0.8zM156.2 65.3h0.8v0.8h-0.8zM148.7 63.9h0.8v0.8h-0.8zM141.6 67.3h0.8v0.8h-0.8zM155.4 63.1h0.8v0.8h-0.8zM154.3 61.1h0.8v0.8h-0.8zM144.4 65.6h0.8v0.8h-0.8zM160.1 45.9h0.8v0.8h-0.8zM142.5 72.7h0.8v0.8h-0.8zM149.7 49.8h0.8v0.8h-0.8zM154.5 69.0h0.8v0.8h-0.8zM135.5 61.5h0.8v0.8h-0.8zM153.5 71.4h0.8v0.8h-0.8zM147.6 61.7h0.8v0.8h-0.8zM147.9 52.9h0.8v0.8h-0.8zM142.1 71.1h0.8v0.8h-0.8zM149.8 63.1h0.8v0.8h-0.8zM141.9 62.5h0.8v0.8h-0.8zM142.7 62.2h0.8v0.8h-0.8zM145.5 70.5h0.8v0.8h-0.8zM141.2 68.8h0.8v0.8h-0.8zM156.7 63.5h0.8v0.8h-0.8zM140.7 47.5h0.8v0.8h-0.8zM143.8 57.8h0.8v0.8h-0.8zM146.3 62.4h0.8v0.8h-0.8zM148.0 77.6h0.8v0.8h-0.8zM152.4 64.9h0.8v0.8h-0.8zM152.5 60.6h0.8v0.8h-0.8zM146.3 72.2h0.8v0.8h-0.8zM145.9 60.5h0.8v0.8h-0.8zM148.2 61.2h0.8v0.8h-0.8zM152.5 62.9h0.8v0.8h-0.8zM151.8 48.0h0.8v0.8h-0.8zM145.2 70.1h0.8v0.8h-0.8zM136.7 65.3h0.8v0.8h-0.8zM159.8 58.9h0.8v0.8h-0.8zM153.2 51.2h0.8v0.8h-0.8zM149.4 63.4h0.8v0.8h-0.8zM149.9 74.1h0.8v0.8h-0.8zM145.1 55.7h0.8v0.8h-0.8zM142.5 51.9h0.8v0.8h-0.8zM146.2 65.3h0.8v0.8h-0.8zM146.8 47.1h0.8v0.8h-0.8zM144.6 41.5h0.8v0.8h-0.8zM140.0 57.5h0.8v0.8h-0.8zM146.3 55.3h0.8v0.8h-0.8zM151.2 59.0h0.8v0.8h-0.8zM145.3 56.5h0.8v0.8h-0.8zM148.1 64.5h0.8v0.8h-0.8zM136.6 59.5h0.8v0.8h-0.8zM146.9 56.1h0.8v0.8h-0.8zM147.3 57.4h0.8v0.8h-0.8zM141.3 67.2h0.8v0.8h-0.8zM138.5 70.1h0.8v0.8h-0.8zM150.3 69.7h0.8v0.8h-0.8zM143.5 67.8h0.8v0.8h-0.8zM145.7 52.5h0.8v0.8h-0.8zM151.4 58.7h0.8v0.8h-0.8zM146.1 63.4h0.8v0.8h-0.8zM139.7 47.0h0.8v0.8h-0.8zM147.5 74.3h0.8v0.8h-0.8zM146.2 64.3h0.8v0.8h-0.8zM151.6 55.9h0.8v0.8h-0.8zM145.5 63.0h0.8v0.8h-0.8zM145.8 58.4h0.8v0.8h-0.8zM152.7 54.7h0.8v0.8h-0.8zM154.4 66.1h0.8v0.8h-0.8zM152.2 57.5h0.8v0.8h-0.8zM153.7 48.8h0.8v0.8h-0.8zM150.5 55.8h0.8v0.8h-0.8zM152.2 60.5h0.8v0.8h-0.8zM152.8 51.8h0.8v0.8h-0.8zM150.2 72.9h0.8v0.8h-0.8zM148.3 51.7h0.8v0.8h-0.8zM148.8 77.4h0.8v0.8h-0.8zM161.2 69.6h0.8v0.8h-0.8zM148.1 53.1h0.8v0.8h-0.8zM146.7 62.7h0.8v0.8h-0.8zM146.0 72.2h0.8v0.8h-0.8zM147.8 59.8h0.8v0.8h-0.8zM149.3 50.8h0.8v0.8h-0.8zM141.8 62.6h0.8v0.8h-0.8zM137.1 79.5h0.8v0.8h-0.8zM149.6 48.2h0.8v0.8h-0.8zM139.2 66.6h0.8v0.8h-0.8zM149.4 61.7h0.8v0.8h-0.8zM148.8 60.5h0.8v0.8h-0.8zM154.3 58.1h0.8v0.8h-0.8zM157.2 58.7h0.8v0.8h-0.8zM150.0 70.9h0.8v0.8h-0.8zM145.0 67.0h0.8v0.8h-0.8zM141.5 52.6h0.8v0.8h-0.8zM143.6 75.6h0.8v0.8h-0.8zM148.2 49.9h0.8v0.8h-0.8zM136.6 67.6h0.8v0.8h-0.8zM148.4 63.3h0.8v0.8h-0.8zM147.9 72.4h0.8v0.8h-0.8zM151.5 64.8h0.8v0.8h-0.8zM146.2 71.1h0.8v0.8h-0.8zM148.6 61.4h0.8v0.8h-0.8zM144.0 70.4h0.8v0.8h-0.8zM145.4 64.7h0.8v0.8h-0.8zM138.2 81.0h0.8v0.8h-0.8zM148.7 55.4h0.8v0.8h-0.8zM156.5 72.4h0.8v0.8h-0.8zM148.9 65.8h0.8v0.8h-0.8zM150.0 63.2h0.8v0.8h-0.8zM142.6 56.5h0.8v0.8h-0.8zM155.9 65.7h0.8v0.8h-0.8zM143.8 48.4h0.8v0.8h-0.8zM152.4 49.3h0.8v0.8h-0.8zM148.6 68.1h0.8v0.8h-0.8zM142.7 47.7h0.8v0.8h-0.8zM153.6 74.6h0.8v0.8h-0.8zM148.1 59.2h0.8v0.8h-0.8zM149.0 63.9h0.8v0.8h-0.8zM150.5 62.3h0.8v0.8h-0.8zM147.9 65.5h0.8v0.8h-0.8zM145.9 59.2h0.8v0.8h-0.8zM150.6 58.4h0.8v0.8h-0.8zM145.8 60.5h0.8v0.8h-0.8zM148.4 71.1h0.8v0.8h-0.8zM144.3 71.9h0.8v0.8h-0.8zM182.2 54.9h0.8v0.8h-0.8zM164.5 58.0h0.8v0.8h-0.8zM146.8 68.7h0.8v0.8h-0.8zM174.6 55.4h0.8v0.8h-0.8zM177.0 74.2h0.8v0.8h-0.8zM162.1 51.9h0.8v0.8h-0.8zM176.6 72.8h0.8v0.8h-0.8zM182.4 90.2h0.8v0.8h-0.8zM168.0 76.3h0.8v0.8h-0.8zM179.6 68.7h0.8v0.8h-0.8zM170.6 97.6h0.8v0.8h-0.8zM146.1 58.5h0.8v0.8h-0.8zM161.2 88.4h0.8v0.8h-0.8zM162.0 68.0h0.8v0.8h-0.8zM173.3 76.3h0.8v0.8h-0.8zM156.6 73.3h0.8v0.8h-0.8zM161.7 74.9h0.8v0.8h-0.8zM155.4 72.0h0.8v0.8h-0.8zM166.5 60.3h0.8v0.8h-0.8zM167.8 63.7h0.8v0.8h-0.8zM178.6 79.9h0.8v0.8h-0.8zM176.5 71.1h0.8v0.8h-0.8zM168.9 54.2h0.8v0.8h-0.8zM169.8 61.5h0.8v0.8h-0.8zM168.2 61.7h0.8v0.8h-0.8zM168.3 71.9h0.8v0.8h-0.8zM185.5 75.6h0.8v0.8h-0.8zM137.1 74.2h0.8v0.8h-0.8zM164.8 62.2h0.8v0.8h-0.8zM170.7 73.0h0.8v0.8h-0.8zM180.5 50.8h0.8v0.8h-0.8zM171.1 71.8h0.8v0.8h-0.8zM177.3 46.2h0.8v0.8h-0.8zM161.6 57.5h0.8v0.8h-0.8zM144.0 53.3h0.8v0.8h-0.8zM162.6 82.7h0.8v0.8h-0.8zM152.5 53.2h0.8v0.8h-0.8zM174.7 77.0h0.8v0.8h-0.8zM156.7 64.7h0.8v0.8h-0.8zM188.3 52.7h0.8v0.8h-0.8zM168.6 47.3h0.8v0.8h-0.8zM157.3 79.9h0.8v0.8h-0.8zM160.9 78.6h0.8v0.8h-0.8zM153.8 84.8h0.8v0.8h-0.8zM171.6 101.7h0.8v0.8h-0.8zM184.8 76.8h0.8v0.8h-0.8zM164.3 76.9h0.8v0.8h-0.8zM178.0 70.4h0.8v0.8h-0.8zM155.6 74.1h0.8v0.8h-0.8zM170.6 66.7h0.8v0.8h-0.8zM150.1 104.2h0.8v0.8h-0.8zM181.7 42.5h0.8v0.8h-0.8zM181.0 76.4h0.8v0.8h-0.8zM144.4 79.4h0.8v0.8h-0.8zM149.7 74.7h0.8v0.8h-0.8zM155.2 56.9h0.8v0.8h-0.8zM178.5 69.2h0.8v0.8h-0.8zM161.8 64.8h0.8v0.8h-0.8zM164.9 55.0h0.8v0.8h-0.8zM175.4 71.4h0.8v0.8h-0.8zM168.3 65.6h0.8v0.8h-0.8zM169.6 63.3h0.8v0.8h-0.8zM163.1 83.1h0.8v0.8h-0.8zM180.4 55.2h0.8v0.8h-0.8zM157.6 79.1h0.8v0.8h-0.8zM187.0 62.3h0.8v0.8h-0.8zM162.9 78.9h0.8v0.8h-0.8zM157.3 73.1h0.8v0.8h-0.8zM174.7 75.9h0.8v0.8h-0.8zM172.3 56.3h0.8v0.8h-0.8zM143.1 59.6h0.8v0.8h-0.8zM169.6 58.3h0.8v0.8h-0.8zM150.7 74.8h0.8v0.8h-0.8zM156.9 83.9h0.8v0.8h-0.8zM176.3 89.2h0.8v0.8h-0.8zM156.5 63.9h0.8v0.8h-0.8zM171.2 73.3h0.8v0.8h-0.8zM162.3 46.1h0.8v0.8h-0.8zM165.7 58.1h0.8v0.8h-0.8zM152.8 61.3h0.8v0.8h-0.8zM153.6 47.1h0.8v0.8h-0.8zM156.0 43.5h0.8v0.8h-0.8zM168.4 80.4h0.8v0.8h-0.8zM166.8 59.0h0.8v0.8h-0.8zM178.5 45.0h0.8v0.8h-0.8zM168.4 74.5h0.8v0.8h-0.8zM170.7 66.7h0.8v0.8h-0.8zM165.3 82.6h0.8v0.8h-0.8zM170.3 59.6h0.8v0.8h-0.8zM176.2 97.1h0.8v0.8h-0.8zM176.2 47.2h0.8v0.8h-0.8zM160.3 50.9h0.8v0.8h-0.8zM145.6 69.5h0.8v0.8h-0.8zM157.1 59.5h0.8v0.8h-0.8zM170.2 94.2h0.8v0.8h-0.8zM136.9 46.1h0.8v0.8h-0.8zM161.1 60.0h0.8v0.8h-0.8zM172.2 75.4h0.8v0.8h-0.8zM160.0 80.6h0.8v0.8h-0.8zM153.3 87.6h0.8v0.8h-0.8zM187.8 77.0h0.8v0.8h-0.8zM183.4 106.7h0.8v0.8h-0.8zM163.6 64.0h0.8v0.8h-0.8zM182.6 74.3h0.8v0.8h-0.8zM182.3 85.2h0.8v0.8h-0.8zM167.8 39.6h0.8v0.8h-0.8zM168.1 63.5h0.8v0.8h-0.8zM166.1 50.0h0.8v0.8h-0.8zM163.9 36.8h0.8v0.8h-0.8zM158.1 63.0h0.8v0.8h-0.8zM164.9 58.6h0.8v0.8h-0.8zM153.0 81.3h0.8v0.8h-0.8zM176.1 92.9h0.8v0.8h-0.8zM152.5 58.6h0.8v0.8h-0.8zM184.7 53.9h0.8v0.8h-0.8zM169.0 49.1h0.8v0.8h-0.8zM164.5 83.7h0.8v0.8h-0.8zM186.1 56.1h0.8v0.8h-0.8zM173.7 60.9h0.8v0.8h-0.8zM178.2 57.2h0.8v0.8h-0.8zM162.9 59.4h0.8v0.8h-0.8zM184.2 52.8h0.8v0.8h-0.8zM161.9 71.6h0.8v0.8h-0.8zM172.7 78.7h0.8v0.8h-0.8zM150.8 56.0h0.8v0.8h-0.8zM163.6 42.0h0.8v0.8h-0.8zM177.4 61.9h0.8v0.8h-0.8zM166.0 40.5h0.8v0.8h-0.8zM166.1 52.3h0.8v0.8h-0.8zM180.9 78.4h0.8v0.8h-0.8zM170.5 93.6h0.8v0.8h-0.8zM186.3 66.5h0.8v0.8h-0.8zM142.5 46.4h0.8v0.8h-0.8zM178.2 72.1h0.8v0.8h-0.8zM152.9 51.5h0.8v0.8h-0.8zM155.9 82.4h0.8v0.8h-0.8zM181.9 71.6h0.8v0.8h-0.8zM158.6 42.0h0.8v0.8h-0.8zM163.8 38.0h0.8v0.8h-0.8zM178.5 73.1h0.8v0.8h-0.8zM167.4 60.6h0.8v0.8h-0.8zM177.1 52.9h0.8v0.8h-0.8zM161.0 67.0h0.8v0.8h-0.8zM174.9 53.2h0.8v0.8h-0.8zM175.3 72.5h0.8v0.8h-0.8zM145.1 52.2h0.8v0.8h-0.8zM179.2 47.2h0.8v0.8h-0.8zM172.1 42.6h0.8v0.8h-0.8zM160.5 64.7h0.8v0.8h-0.8zM188.0 50.0h0.8v0.8h-0.8zM150.5 69.9h0.8v0.8h-0.8zM163.8 76.3h0.8v0.8h-0.8zM170.8 52.1h0.8v0.8h-0.8zM172.5 45.9h0.8v0.8h-0.8zM175.3 71.3h0.8v0.8h-0.8zM177.8 103.8h0.8v0.8h-0.8zM184.0 43.8h0.8v0.8h-0.8zM160.6 46.8h0.8v0.8h-0.8zM177.2 65.9h0.8v0.8h-0.8zM180.2 67.9h0.8v0.8h-0.8zM168.1 51.8h0.8v0.8h-0.8zM160.2 62.3h0.8v0.8h-0.8zM159.9 38.8h0.8v0.8h-0.8zM180.3 57.1h0.8v0.8h-0.8zM180.9 73.8h0.8v0.8h-0.8zM161.4 84.0h0.8v0.8h-0.8zM155.3 58.9h0.8v0.8h-0.8zM186.1 57.6h0.8v0.8h-0.8zM132.4 45.8h0.8v0.8h-0.8zM136.3 47.1h0.8v0.8h-0.8zM132.6 43.5h0.8v0.8h-0.8zM125.2 44.0h0.8v0.8h-0.8zM131.8 46.3h0.8v0.8h-0.8zM135.4 46.8h0.8v0.8h-0.8zM125.4 56.3h0.8v0.8h-0.8zM121.7 42.4h0.8v0.8h-0.8zM132.7 49.4h0.8v0.8h-0.8zM131.9 46.2h0.8v0.8h-0.8zM135.4 58.6h0.8v0.8h-0.8zM130.2 51.3h0.8v0.8h-0.8z" fill="#6f7fc6" fill-opacity="0.6"/>
<path d="M138.3 83.5h0.8v0.8h-0.8zM139.9 77.2h0.8v0.8h-0.8zM148.6 75.7h0.8v0.8h-0.8zM150.1 80.5h0.8v0.8h-0.8zM143.4 82.2h0.8v0.8h-0.8zM136.4 78.1h0.8v0.8h-0.8zM139.9 85.6h0.8v0.8h-0.8zM139.6 74.1h0.8v0.8h-0.8zM136.6 82.3h0.8v0.8h-0.8zM146.8 82.3h0.8v0.8h-0.8zM141.7 71.3h0.8v0.8h-0.8zM137.0 84.1h0.8v0.8h-0.8zM136.3 74.9h0.8v0.8h-0.8zM140.8 67.6h0.8v0.8h-0.8zM135.5 78.7h0.8v0.8h-0.8zM144.8 81.0h0.8v0.8h-0.8zM138.1 87.7h0.8v0.8h-0.8zM136.1 79.5h0.8v0.8h-0.8zM142.5 91.0h0.8v0.8h-0.8zM137.0 90.8h0.8v0.8h-0.8zM139.3 88.8h0.8v0.8h-0.8zM140.6 90.1h0.8v0.8h-0.8zM136.8 84.4h0.8v0.8h-0.8zM141.7 79.0h0.8v0.8h-0.8zM147.3 86.2h0.8v0.8h-0.8zM145.4 88.0h0.8v0.8h-0.8zM139.6 83.7h0.8v0.8h-0.8zM143.8 80.9h0.8v0.8h-0.8zM136.5 73.1h0.8v0.8h-0.8zM139.1 86.3h0.8v0.8h-0.8zM145.8 84.4h0.8v0.8h-0.8zM136.6 74.6h0.8v0.8h-0.8zM140.7 82.9h0.8v0.8h-0.8zM144.0 86.6h0.8v0.8h-0.8zM140.4 81.7h0.8v0.8h-0.8zM150.9 87.0h0.8v0.8h-0.8zM138.4 86.8h0.8v0.8h-0.8zM137.9 73.6h0.8v0.8h-0.8zM135.9 80.5h0.8v0.8h-0.8zM140.9 85.2h0.8v0.8h-0.8zM140.4 87.7h0.8v0.8h-0.8zM137.1 90.7h0.8v0.8h-0.8zM141.7 71.0h0.8v0.8h-0.8zM149.4 81.9h0.8v0.8h-0.8zM138.0 86.6h0.8v0.8h-0.8zM147.5 89.6h0.8v0.8h-0.8zM143.5 92.3h0.8v0.8h-0.8zM139.2 76.8h0.8v0.8h-0.8zM135.0 80.1h0.8v0.8h-0.8zM139.3 76.1h0.8v0.8h-0.8zM137.2 87.2h0.8v0.8h-0.8zM141.3 74.5h0.8v0.8h-0.8zM137.9 89.3h0.8v0.8h-0.8zM139.0 87.9h0.8v0.8h-0.8zM137.4 85.2h0.8v0.8h-0.8zM137.8 69.5h0.8v0.8h-0.8zM141.7 78.3h0.8v0.8h-0.8zM135.3 86.8h0.8v0.8h-0.8zM146.2 73.9h0.8v0.8h-0.8zM142.7 80.9h0.8v0.8h-0.8zM135.2 81.7h0.8v0.8h-0.8zM141.1 87.6h0.8v0.8h-0.8zM138.4 84.0h0.8v0.8h-0.8zM137.7 83.9h0.8v0.8h-0.8zM139.0 79.7h0.8v0.8h-0.8zM139.2 82.3h0.8v0.8h-0.8zM137.0 81.5h0.8v0.8h-0.8zM138.0 86.6h0.8v0.8h-0.8zM145.5 81.3h0.8v0.8h-0.8zM135.6 88.4h0.8v0.8h-0.8zM144.4 72.2h0.8v0.8h-0.8zM137.1 89.4h0.8v0.8h-0.8zM142.0 81.3h0.8v0.8h-0.8zM135.9 89.0h0.8v0.8h-0.8zM137.1 82.8h0.8v0.8h-0.8zM138.8 87.4h0.8v0.8h-0.8zM135.0 91.2h0.8v0.8h-0.8zM136.0 79.0h0.8v0.8h-0.8zM148.9 82.8h0.8v0.8h-0.8zM143.8 81.3h0.8v0.8h-0.8zM144.7 83.5h0.8v0.8h-0.8zM142.6 72.7h0.8v0.8h-0.8zM137.7 81.3h0.8v0.8h-0.8zM150.7 80.8h0.8v0.8h-0.8zM155.2 77.6h0.8v0.8h-0.8zM136.3 81.2h0.8v0.8h-0.8zM139.7 73.2h0.8v0.8h-0.8zM139.2 90.6h0.8v0.8h-0.8zM139.5 85.0h0.8v0.8h-0.8zM144.6 93.5h0.8v0.8h-0.8zM139.8 77.1h0.8v0.8h-0.8zM140.3 75.4h0.8v0.8h-0.8zM139.8 84.0h0.8v0.8h-0.8zM136.0 72.4h0.8v0.8h-0.8zM150.5 83.6h0.8v0.8h-0.8zM135.9 78.1h0.8v0.8h-0.8zM138.5 80.3h0.8v0.8h-0.8zM138.9 83.8h0.8v0.8h-0.8zM141.5 82.6h0.8v0.8h-0.8zM142.7 93.3h0.8v0.8h-0.8zM135.1 86.0h0.8v0.8h-0.8zM140.5 74.6h0.8v0.8h-0.8zM136.6 88.1h0.8v0.8h-0.8zM141.9 74.4h0.8v0.8h-0.8zM140.9 82.8h0.8v0.8h-0.8zM134.9 74.9h0.8v0.8h-0.8zM136.0 77.4h0.8v0.8h-0.8zM139.4 90.1h0.8v0.8h-0.8zM142.8 79.0h0.8v0.8h-0.8zM143.9 78.5h0.8v0.8h-0.8zM141.6 79.0h0.8v0.8h-0.8zM137.6 80.4h0.8v0.8h-0.8zM141.0 90.8h0.8v0.8h-0.8zM139.5 75.3h0.8v0.8h-0.8zM137.8 75.0h0.8v0.8h-0.8zM145.4 85.7h0.8v0.8h-0.8zM140.3 72.8h0.8v0.8h-0.8zM140.2 80.1h0.8v0.8h-0.8zM143.8 89.0h0.8v0.8h-0.8zM137.9 82.3h0.8v0.8h-0.8zM139.4 79.4h0.8v0.8h-0.8zM136.2 78.1h0.8v0.8h-0.8zM136.9 76.8h0.8v0.8h-0.8zM135.8 78.8h0.8v0.8h-0.8zM136.3 83.1h0.8v0.8h-0.8zM136.6 89.6h0.8v0.8h-0.8zM139.2 88.0h0.8v0.8h-0.8zM142.2 78.9h0.8v0.8h-0.8zM137.7 77.9h0.8v0.8h-0.8zM140.1 86.4h0.8v0.8h-0.8zM154.7 71.5h0.8v0.8h-0.8zM137.5 79.6h0.8v0.8h-0.8zM138.6 80.3h0.8v0.8h-0.8zM138.2 75.6h0.8v0.8h-0.8zM149.9 76.3h0.8v0.8h-0.8zM140.7 84.3h0.8v0.8h-0.8zM135.7 72.4h0.8v0.8h-0.8zM141.3 76.8h0.8v0.8h-0.8zM136.9 78.4h0.8v0.8h-0.8zM139.3 82.7h0.8v0.8h-0.8zM143.1 74.1h0.8v0.8h-0.8zM140.5 88.6h0.8v0.8h-0.8zM136.6 80.4h0.8v0.8h-0.8zM135.6 80.6h0.8v0.8h-0.8zM137.5 80.0h0.8v0.8h-0.8zM141.0 78.2h0.8v0.8h-0.8zM137.5 76.3h0.8v0.8h-0.8zM137.5 89.0h0.8v0.8h-0.8zM139.7 83.4h0.8v0.8h-0.8zM144.7 81.5h0.8v0.8h-0.8zM134.8 88.0h0.8v0.8h-0.8zM136.5 77.9h0.8v0.8h-0.8zM135.9 85.9h0.8v0.8h-0.8zM138.0 82.3h0.8v0.8h-0.8zM144.0 76.9h0.8v0.8h-0.8zM142.1 86.6h0.8v0.8h-0.8zM140.2 73.3h0.8v0.8h-0.8zM142.7 86.0h0.8v0.8h-0.8zM139.2 76.9h0.8v0.8h-0.8zM140.1 84.5h0.8v0.8h-0.8zM150.3 90.3h0.8v0.8h-0.8zM143.4 85.4h0.8v0.8h-0.8zM146.4 78.5h0.8v0.8h-0.8zM153.2 81.9h0.8v0.8h-0.8zM136.2 79.9h0.8v0.8h-0.8zM155.2 75.1h0.8v0.8h-0.8zM136.2 75.5h0.8v0.8h-0.8zM147.2 82.3h0.8v0.8h-0.8zM139.0 85.2h0.8v0.8h-0.8zM154.3 71.6h0.8v0.8h-0.8zM147.0 81.6h0.8v0.8h-0.8zM137.1 85.0h0.8v0.8h-0.8zM142.7 82.7h0.8v0.8h-0.8zM142.7 76.1h0.8v0.8h-0.8zM137.6 88.1h0.8v0.8h-0.8zM140.9 74.8h0.8v0.8h-0.8zM137.7 85.8h0.8v0.8h-0.8zM138.7 91.5h0.8v0.8h-0.8zM139.5 70.0h0.8v0.8h-0.8zM140.0 83.5h0.8v0.8h-0.8zM136.5 83.8h0.8v0.8h-0.8zM152.1 83.3h0.8v0.8h-0.8zM135.9 77.5h0.8v0.8h-0.8zM140.6 80.1h0.8v0.8h-0.8zM137.6 73.7h0.8v0.8h-0.8zM147.5 82.8h0.8v0.8h-0.8zM138.2 85.1h0.8v0.8h-0.8zM138.2 78.0h0.8v0.8h-0.8zM151.4 76.5h0.8v0.8h-0.8zM138.0 79.2h0.8v0.8h-0.8zM139.7 81.9h0.8v0.8h-0.8zM137.2 82.3h0.8v0.8h-0.8zM142.2 81.3h0.8v0.8h-0.8zM140.8 82.4h0.8v0.8h-0.8zM136.5 74.2h0.8v0.8h-0.8zM141.1 65.9h0.8v0.8h-0.8zM137.9 85.6h0.8v0.8h-0.8zM141.8 90.3h0.8v0.8h-0.8zM136.4 73.6h0.8v0.8h-0.8zM144.3 78.0h0.8v0.8h-0.8zM145.2 83.7h0.8v0.8h-0.8zM136.9 87.5h0.8v0.8h-0.8zM139.5 85.7h0.8v0.8h-0.8zM142.9 89.5h0.8v0.8h-0.8zM135.9 81.6h0.8v0.8h-0.8zM140.2 84.4h0.8v0.8h-0.8zM141.2 84.3h0.8v0.8h-0.8zM136.2 79.4h0.8v0.8h-0.8zM137.0 89.0h0.8v0.8h-0.8zM147.2 85.6h0.8v0.8h-0.8zM141.5 87.7h0.8v0.8h-0.8zM138.6 79.6h0.8v0.8h-0.8zM136.5 88.0h0.8v0.8h-0.8zM142.8 75.7h0.8v0.8h-0.8zM137.7 84.2h0.8v0.8h-0.8zM155.6 66.5h0.8v0.8h-0.8zM141.3 76.0h0.8v0.8h-0.8zM145.7 86.2h0.8v0.8h-0.8zM140.7 79.3h0.8v0.8h-0.8zM149.1 82.9h0.8v0.8h-0.8zM141.4 72.4h0.8v0.8h-0.8zM136.8 91.0h0.8v0.8h-0.8zM140.9 85.4h0.8v0.8h-0.8zM138.6 81.8h0.8v0.8h-0.8zM140.6 84.3h0.8v0.8h-0.8zM138.9 83.8h0.8v0.8h-0.8zM139.6 90.2h0.8v0.8h-0.8zM137.8 83.2h0.8v0.8h-0.8zM138.4 73.3h0.8v0.8h-0.8zM140.8 80.4h0.8v0.8h-0.8zM138.8 89.4h0.8v0.8h-0.8zM145.4 85.2h0.8v0.8h-0.8zM144.0 79.4h0.8v0.8h-0.8zM138.4 85.5h0.8v0.8h-0.8zM136.3 82.6h0.8v0.8h-0.8zM147.3 85.5h0.8v0.8h-0.8zM138.3 72.6h0.8v0.8h-0.8zM136.2 76.6h0.8v0.8h-0.8zM137.3 85.8h0.8v0.8h-0.8zM138.7 80.6h0.8v0.8h-0.8zM147.7 84.0h0.8v0.8h-0.8zM144.1 93.4h0.8v0.8h-0.8zM140.3 80.1h0.8v0.8h-0.8zM136.0 83.3h0.8v0.8h-0.8zM138.5 78.6h0.8v0.8h-0.8zM137.7 78.2h0.8v0.8h-0.8zM148.7 81.5h0.8v0.8h-0.8zM139.2 73.4h0.8v0.8h-0.8zM157.8 69.6h0.8v0.8h-0.8zM142.3 89.9h0.8v0.8h-0.8zM137.4 81.3h0.8v0.8h-0.8zM140.6 88.5h0.8v0.8h-0.8zM137.0 82.6h0.8v0.8h-0.8zM142.0 82.8h0.8v0.8h-0.8zM135.0 85.8h0.8v0.8h-0.8zM146.6 86.1h0.8v0.8h-0.8zM140.7 74.8h0.8v0.8h-0.8zM143.8 89.0h0.8v0.8h-0.8zM136.1 76.2h0.8v0.8h-0.8zM156.0 83.1h0.8v0.8h-0.8zM136.1 96.9h0.8v0.8h-0.8zM140.7 82.4h0.8v0.8h-0.8zM136.1 91.7h0.8v0.8h-0.8zM138.5 79.9h0.8v0.8h-0.8zM141.3 85.5h0.8v0.8h-0.8zM135.7 82.2h0.8v0.8h-0.8zM139.2 84.4h0.8v0.8h-0.8zM141.8 76.9h0.8v0.8h-0.8zM136.6 76.5h0.8v0.8h-0.8zM144.5 83.9h0.8v0.8h-0.8zM139.0 72.7h0.8v0.8h-0.8zM136.2 77.0h0.8v0.8h-0.8zM137.5 85.7h0.8v0.8h-0.8zM136.9 78.3h0.8v0.8h-0.8zM139.5 76.7h0.8v0.8h-0.8zM142.8 75.4h0.8v0.8h-0.8zM139.7 82.8h0.8v0.8h-0.8zM141.1 79.8h0.8v0.8h-0.8zM139.6 82.8h0.8v0.8h-0.8zM142.3 80.8h0.8v0.8h-0.8zM145.8 92.8h0.8v0.8h-0.8zM135.6 79.4h0.8v0.8h-0.8zM140.4 70.4h0.8v0.8h-0.8zM139.0 82.6h0.8v0.8h-0.8zM148.4 81.9h0.8v0.8h-0.8zM145.2 82.8h0.8v0.8h-0.8zM136.0 72.5h0.8v0.8h-0.8zM137.8 88.5h0.8v0.8h-0.8zM135.3 81.7h0.8v0.8h-0.8zM141.5 81.7h0.8v0.8h-0.8zM140.9 72.6h0.8v0.8h-0.8zM138.5 84.7h0.8v0.8h-0.8zM135.7 81.5h0.8v0.8h-0.8zM141.7 89.8h0.8v0.8h-0.8zM136.8 79.5h0.8v0.8h-0.8zM142.8 74.7h0.8v0.8h-0.8zM136.9 82.7h0.8v0.8h-0.8zM153.5 76.6h0.8v0.8h-0.8zM148.0 84.3h0.8v0.8h-0.8zM147.9 75.6h0.8v0.8h-0.8zM135.2 81.2h0.8v0.8h-0.8zM145.1 80.6h0.8v0.8h-0.8zM146.1 81.7h0.8v0.8h-0.8zM137.3 78.9h0.8v0.8h-0.8zM139.6 77.2h0.8v0.8h-0.8zM138.0 81.6h0.8v0.8h-0.8zM144.1 78.5h0.8v0.8h-0.8zM155.3 82.8h0.8v0.8h-0.8zM136.3 80.3h0.8v0.8h-0.8zM136.0 68.8h0.8v0.8h-0.8zM142.2 81.6h0.8v0.8h-0.8zM136.6 90.0h0.8v0.8h-0.8zM143.6 83.7h0.8v0.8h-0.8zM138.4 85.4h0.8v0.8h-0.8zM141.8 84.6h0.8v0.8h-0.8zM144.5 79.2h0.8v0.8h-0.8zM140.6 74.1h0.8v0.8h-0.8zM145.0 86.6h0.8v0.8h-0.8zM136.6 88.1h0.8v0.8h-0.8zM136.3 85.2h0.8v0.8h-0.8z" fill="#3c9cc0" fill-opacity="0.55"/>
<path d="M139.0 90.2h0.8v0.8h-0.8zM137.9 87.1h0.8v0.8h-0.8zM138.0 87.0h0.8v0.8h-0.8zM136.3 88.0h0.8v0.8h-0.8zM139.4 83.6h0.8v0.8h-0.8zM135.2 86.8h0.8v0.8h-0.8zM135.2 90.4h0.8v0.8h-0.8zM139.9 90.5h0.8v0.8h-0.8zM136.7 88.5h0.8v0.8h-0.8zM137.5 86.1h0.8v0.8h-0.8zM136.5 84.3h0.8v0.8h-0.8zM139.8 91.3h0.8v0.8h-0.8zM136.2 88.7h0.8v0.8h-0.8zM138.0 85.6h0.8v0.8h-0.8zM139.1 79.9h0.8v0.8h-0.8zM143.4 84.1h0.8v0.8h-0.8zM141.2 80.6h0.8v0.8h-0.8zM138.1 91.1h0.8v0.8h-0.8zM140.3 87.6h0.8v0.8h-0.8zM137.0 84.5h0.8v0.8h-0.8zM138.0 86.1h0.8v0.8h-0.8zM140.1 95.6h0.8v0.8h-0.8zM142.6 91.0h0.8v0.8h-0.8zM136.0 82.6h0.8v0.8h-0.8zM137.2 86.6h0.8v0.8h-0.8zM139.3 82.9h0.8v0.8h-0.8zM139.8 81.3h0.8v0.8h-0.8zM138.8 87.6h0.8v0.8h-0.8zM137.7 95.0h0.8v0.8h-0.8zM136.3 92.2h0.8v0.8h-0.8zM136.0 87.1h0.8v0.8h-0.8zM139.2 85.7h0.8v0.8h-0.8zM136.9 87.7h0.8v0.8h-0.8zM137.5 90.4h0.8v0.8h-0.8zM136.6 82.1h0.8v0.8h-0.8zM137.1 80.8h0.8v0.8h-0.8zM136.3 93.3h0.8v0.8h-0.8zM137.3 87.9h0.8v0.8h-0.8zM137.4 92.4h0.8v0.8h-0.8zM139.2 87.8h0.8v0.8h-0.8zM136.3 91.9h0.8v0.8h-0.8zM135.5 85.0h0.8v0.8h-0.8zM137.2 88.7h0.8v0.8h-0.8zM138.6 92.2h0.8v0.8h-0.8zM136.9 90.4h0.8v0.8h-0.8zM140.2 85.5h0.8v0.8h-0.8zM137.9 90.0h0.8v0.8h-0.8zM136.4 84.8h0.8v0.8h-0.8zM139.9 82.2h0.8v0.8h-0.8zM138.8 88.8h0.8v0.8h-0.8zM137.4 91.7h0.8v0.8h-0.8zM136.1 89.9h0.8v0.8h-0.8zM135.4 82.8h0.8v0.8h-0.8zM139.2 89.9h0.8v0.8h-0.8zM140.2 89.3h0.8v0.8h-0.8zM139.4 85.5h0.8v0.8h-0.8zM138.2 78.6h0.8v0.8h-0.8zM137.1 90.4h0.8v0.8h-0.8zM143.5 90.0h0.8v0.8h-0.8zM138.6 88.7h0.8v0.8h-0.8zM141.3 81.2h0.8v0.8h-0.8zM137.7 82.0h0.8v0.8h-0.8zM139.9 90.4h0.8v0.8h-0.8zM140.3 89.7h0.8v0.8h-0.8zM136.5 88.7h0.8v0.8h-0.8zM135.8 86.2h0.8v0.8h-0.8zM139.5 88.3h0.8v0.8h-0.8zM140.8 85.2h0.8v0.8h-0.8zM139.6 85.9h0.8v0.8h-0.8zM137.2 84.1h0.8v0.8h-0.8zM135.6 87.9h0.8v0.8h-0.8zM136.7 85.6h0.8v0.8h-0.8zM141.1 90.2h0.8v0.8h-0.8zM140.4 89.4h0.8v0.8h-0.8zM137.4 84.3h0.8v0.8h-0.8zM140.3 93.2h0.8v0.8h-0.8zM137.6 83.2h0.8v0.8h-0.8zM136.4 88.5h0.8v0.8h-0.8zM138.0 90.7h0.8v0.8h-0.8zM136.6 91.3h0.8v0.8h-0.8zM140.6 79.5h0.8v0.8h-0.8zM136.6 90.4h0.8v0.8h-0.8zM138.6 91.1h0.8v0.8h-0.8zM141.6 91.9h0.8v0.8h-0.8zM137.8 79.5h0.8v0.8h-0.8zM136.5 84.7h0.8v0.8h-0.8zM140.8 86.7h0.8v0.8h-0.8zM139.2 85.5h0.8v0.8h-0.8zM141.6 91.5h0.8v0.8h-0.8zM137.8 84.7h0.8v0.8h-0.8zM139.1 91.2h0.8v0.8h-0.8zM137.7 88.9h0.8v0.8h-0.8zM139.5 82.1h0.8v0.8h-0.8zM138.2 83.6h0.8v0.8h-0.8zM137.2 85.4h0.8v0.8h-0.8zM136.0 87.3h0.8v0.8h-0.8zM136.6 90.4h0.8v0.8h-0.8zM137.2 86.4h0.8v0.8h-0.8zM139.1 90.1h0.8v0.8h-0.8zM139.3 81.7h0.8v0.8h-0.8zM137.6 76.6h0.8v0.8h-0.8zM140.4 85.9h0.8v0.8h-0.8zM144.2 88.6h0.8v0.8h-0.8zM137.2 85.8h0.8v0.8h-0.8zM139.9 83.6h0.8v0.8h-0.8zM139.0 88.4h0.8v0.8h-0.8zM138.8 93.6h0.8v0.8h-0.8zM138.2 86.6h0.8v0.8h-0.8zM135.2 84.5h0.8v0.8h-0.8zM141.2 84.1h0.8v0.8h-0.8zM135.3 93.7h0.8v0.8h-0.8zM138.6 86.9h0.8v0.8h-0.8zM140.4 89.1h0.8v0.8h-0.8zM139.6 91.1h0.8v0.8h-0.8zM136.2 90.7h0.8v0.8h-0.8zM136.0 83.9h0.8v0.8h-0.8zM138.3 90.3h0.8v0.8h-0.8zM135.6 89.9h0.8v0.8h-0.8zM142.8 88.7h0.8v0.8h-0.8zM143.6 90.4h0.8v0.8h-0.8zM137.7 85.1h0.8v0.8h-0.8zM137.6 86.7h0.8v0.8h-0.8zM138.5 85.2h0.8v0.8h-0.8zM145.8 89.6h0.8v0.8h-0.8zM136.3 84.8h0.8v0.8h-0.8zM136.5 88.3h0.8v0.8h-0.8zM139.2 83.3h0.8v0.8h-0.8zM137.0 86.6h0.8v0.8h-0.8zM140.5 85.8h0.8v0.8h-0.8zM146.6 86.6h0.8v0.8h-0.8zM140.3 87.5h0.8v0.8h-0.8zM136.7 86.4h0.8v0.8h-0.8zM138.5 86.3h0.8v0.8h-0.8zM137.5 80.0h0.8v0.8h-0.8zM136.1 90.8h0.8v0.8h-0.8zM140.0 84.9h0.8v0.8h-0.8zM142.4 86.2h0.8v0.8h-0.8zM139.7 84.2h0.8v0.8h-0.8zM144.6 90.4h0.8v0.8h-0.8zM136.5 83.9h0.8v0.8h-0.8zM137.7 88.7h0.8v0.8h-0.8zM135.8 91.0h0.8v0.8h-0.8zM138.4 92.6h0.8v0.8h-0.8zM142.6 91.0h0.8v0.8h-0.8zM138.0 89.1h0.8v0.8h-0.8zM137.3 82.9h0.8v0.8h-0.8zM140.3 91.4h0.8v0.8h-0.8zM142.3 91.0h0.8v0.8h-0.8zM138.7 89.9h0.8v0.8h-0.8zM137.9 89.7h0.8v0.8h-0.8zM142.5 87.3h0.8v0.8h-0.8zM139.5 85.3h0.8v0.8h-0.8zM142.8 90.7h0.8v0.8h-0.8zM136.8 91.3h0.8v0.8h-0.8zM138.1 83.5h0.8v0.8h-0.8zM136.9 90.1h0.8v0.8h-0.8zM135.7 87.9h0.8v0.8h-0.8zM136.2 90.0h0.8v0.8h-0.8zM139.7 88.0h0.8v0.8h-0.8zM140.8 90.8h0.8v0.8h-0.8zM137.5 90.5h0.8v0.8h-0.8zM137.2 90.0h0.8v0.8h-0.8zM142.6 82.4h0.8v0.8h-0.8zM136.7 89.8h0.8v0.8h-0.8zM139.7 87.2h0.8v0.8h-0.8zM136.0 83.2h0.8v0.8h-0.8zM135.6 89.4h0.8v0.8h-0.8zM138.5 82.4h0.8v0.8h-0.8zM137.9 90.1h0.8v0.8h-0.8zM136.8 92.8h0.8v0.8h-0.8zM135.7 85.4h0.8v0.8h-0.8zM138.8 90.2h0.8v0.8h-0.8zM136.5 88.6h0.8v0.8h-0.8zM144.8 89.3h0.8v0.8h-0.8zM139.6 82.5h0.8v0.8h-0.8zM136.9 89.1h0.8v0.8h-0.8zM136.1 87.5h0.8v0.8h-0.8zM138.0 89.6h0.8v0.8h-0.8zM136.7 87.1h0.8v0.8h-0.8zM136.0 90.8h0.8v0.8h-0.8zM139.9 88.0h0.8v0.8h-0.8zM136.6 89.4h0.8v0.8h-0.8zM139.7 91.7h0.8v0.8h-0.8zM136.9 87.7h0.8v0.8h-0.8zM139.1 90.4h0.8v0.8h-0.8zM138.8 87.9h0.8v0.8h-0.8zM141.5 88.8h0.8v0.8h-0.8zM140.7 85.3h0.8v0.8h-0.8zM136.3 89.7h0.8v0.8h-0.8zM140.8 91.2h0.8v0.8h-0.8zM145.4 86.8h0.8v0.8h-0.8zM136.5 89.8h0.8v0.8h-0.8zM140.3 88.5h0.8v0.8h-0.8zM138.0 83.4h0.8v0.8h-0.8zM139.2 88.3h0.8v0.8h-0.8zM150.4 91.5h0.8v0.8h-0.8zM136.3 85.5h0.8v0.8h-0.8zM138.4 81.1h0.8v0.8h-0.8zM136.2 87.8h0.8v0.8h-0.8zM137.7 84.9h0.8v0.8h-0.8z" fill="#8cc458" fill-opacity="0.75"/>
<path d="M141.9 91.2h0.8v0.8h-0.8zM139.0 87.5h0.8v0.8h-0.8zM139.0 87.2h0.8v0.8h-0.8zM138.1 85.4h0.8v0.8h-0.8zM139.4 88.8h0.8v0.8h-0.8zM138.2 87.6h0.8v0.8h-0.8zM137.7 91.2h0.8v0.8h-0.8zM139.0 87.5h0.8v0.8h-0.8zM137.9 89.4h0.8v0.8h-0.8zM141.0 89.6h0.8v0.8h-0.8zM137.3 90.8h0.8v0.8h-0.8zM138.9 85.9h0.8v0.8h-0.8zM138.0 90.7h0.8v0.8h-0.8zM137.0 88.1h0.8v0.8h-0.8zM141.5 87.9h0.8v0.8h-0.8zM136.0 87.5h0.8v0.8h-0.8zM141.2 87.4h0.8v0.8h-0.8zM137.0 87.5h0.8v0.8h-0.8zM139.2 84.2h0.8v0.8h-0.8zM142.4 88.9h0.8v0.8h-0.8zM135.9 88.2h0.8v0.8h-0.8zM137.0 86.5h0.8v0.8h-0.8zM141.0 88.0h0.8v0.8h-0.8zM139.3 91.9h0.8v0.8h-0.8zM138.2 88.7h0.8v0.8h-0.8zM139.0 87.4h0.8v0.8h-0.8zM137.6 90.9h0.8v0.8h-0.8zM139.2 86.7h0.8v0.8h-0.8zM141.3 87.8h0.8v0.8h-0.8zM138.5 87.1h0.8v0.8h-0.8zM139.3 87.7h0.8v0.8h-0.8zM140.8 89.3h0.8v0.8h-0.8zM142.0 89.0h0.8v0.8h-0.8zM138.2 86.8h0.8v0.8h-0.8zM139.5 87.8h0.8v0.8h-0.8zM138.2 88.2h0.8v0.8h-0.8zM138.1 87.4h0.8v0.8h-0.8zM138.5 88.0h0.8v0.8h-0.8zM138.1 86.9h0.8v0.8h-0.8zM136.5 86.8h0.8v0.8h-0.8zM136.1 88.1h0.8v0.8h-0.8zM138.0 86.3h0.8v0.8h-0.8zM139.2 88.7h0.8v0.8h-0.8zM140.8 87.7h0.8v0.8h-0.8zM138.3 86.5h0.8v0.8h-0.8zM138.8 87.0h0.8v0.8h-0.8zM140.0 87.3h0.8v0.8h-0.8zM140.1 87.8h0.8v0.8h-0.8zM138.9 88.2h0.8v0.8h-0.8zM139.0 87.7h0.8v0.8h-0.8z" fill="#e2cc48" fill-opacity="0.9"/>
<path d="M138.8 90.1h0.8v0.8h-0.8zM140.6 88.6h0.8v0.8h-0.8zM140.2 88.6h0.8v0.8h-0.8zM139.6 87.4h0.8v0.8h-0.8zM140.3 88.3h0.8v0.8h-0.8zM139.8 89.7h0.8v0.8h-0.8zM139.3 88.1h0.8v0.8h-0.8zM139.6 88.7h0.8v0.8h-0.8z" fill="#e08840" fill-opacity="0.9"/>
<rect x="69.5" y="48" width="26.30" height="18.00" fill="none" stroke="#8e8480" stroke-width="1"/>
<rect x="69.6" y="69.3" width="26.40" height="26.00" fill="none" stroke="#8e8480" stroke-width="1"/>
<rect x="38.4" y="69.3" width="26.20" height="26.10" fill="none" stroke="#8e8480" stroke-width="1"/>
<rect x="128.6" y="69.5" width="26.00" height="26.00" fill="none" stroke="#8e8480" stroke-width="1"/>
<rect x="160.3" y="48" width="25.50" height="18.50" fill="none" stroke="#8e8480" stroke-width="1"/>
<rect x="159.8" y="69.5" width="25.70" height="26.00" fill="none" stroke="#8e8480" stroke-width="1"/>
<rect x="26.4" y="33.7" width="75.20" height="74.80" fill="none" stroke="#111" stroke-width="1.3"/>
<line x1="22.80" y1="90.60" x2="26.40" y2="90.60" stroke="#111" stroke-width="0.9"/>
<line x1="22.80" y1="74.30" x2="26.40" y2="74.30" stroke="#111" stroke-width="0.9"/>
<line x1="22.80" y1="57.70" x2="26.40" y2="57.70" stroke="#111" stroke-width="0.9"/>
<line x1="22.80" y1="41.10" x2="26.40" y2="41.10" stroke="#111" stroke-width="0.9"/>
<line x1="24.20" y1="85.69" x2="26.40" y2="85.69" stroke="#111" stroke-width="0.9"/>
<line x1="24.20" y1="82.82" x2="26.40" y2="82.82" stroke="#111" stroke-width="0.9"/>
<line x1="24.20" y1="80.79" x2="26.40" y2="80.79" stroke="#111" stroke-width="0.9"/>
<line x1="24.20" y1="79.21" x2="26.40" y2="79.21" stroke="#111" stroke-width="0.9"/>
<line x1="24.20" y1="77.92" x2="26.40" y2="77.92" stroke="#111" stroke-width="0.9"/>
<line x1="24.20" y1="76.82" x2="26.40" y2="76.82" stroke="#111" stroke-width="0.9"/>
<line x1="24.20" y1="75.88" x2="26.40" y2="75.88" stroke="#111" stroke-width="0.9"/>
<line x1="24.20" y1="75.05" x2="26.40" y2="75.05" stroke="#111" stroke-width="0.9"/>
<line x1="24.20" y1="69.30" x2="26.40" y2="69.30" stroke="#111" stroke-width="0.9"/>
<line x1="24.20" y1="66.38" x2="26.40" y2="66.38" stroke="#111" stroke-width="0.9"/>
<line x1="24.20" y1="64.31" x2="26.40" y2="64.31" stroke="#111" stroke-width="0.9"/>
<line x1="24.20" y1="62.70" x2="26.40" y2="62.70" stroke="#111" stroke-width="0.9"/>
<line x1="24.20" y1="61.38" x2="26.40" y2="61.38" stroke="#111" stroke-width="0.9"/>
<line x1="24.20" y1="60.27" x2="26.40" y2="60.27" stroke="#111" stroke-width="0.9"/>
<line x1="24.20" y1="59.31" x2="26.40" y2="59.31" stroke="#111" stroke-width="0.9"/>
<line x1="24.20" y1="58.46" x2="26.40" y2="58.46" stroke="#111" stroke-width="0.9"/>
<line x1="24.20" y1="52.70" x2="26.40" y2="52.70" stroke="#111" stroke-width="0.9"/>
<line x1="24.20" y1="49.78" x2="26.40" y2="49.78" stroke="#111" stroke-width="0.9"/>
<line x1="24.20" y1="47.71" x2="26.40" y2="47.71" stroke="#111" stroke-width="0.9"/>
<line x1="24.20" y1="46.10" x2="26.40" y2="46.10" stroke="#111" stroke-width="0.9"/>
<line x1="24.20" y1="44.78" x2="26.40" y2="44.78" stroke="#111" stroke-width="0.9"/>
<line x1="24.20" y1="43.67" x2="26.40" y2="43.67" stroke="#111" stroke-width="0.9"/>
<line x1="24.20" y1="42.71" x2="26.40" y2="42.71" stroke="#111" stroke-width="0.9"/>
<line x1="24.20" y1="41.86" x2="26.40" y2="41.86" stroke="#111" stroke-width="0.9"/>
<line x1="24.20" y1="36.10" x2="26.40" y2="36.10" stroke="#111" stroke-width="0.9"/>
<line x1="22.80" y1="104.30" x2="26.40" y2="104.30" stroke="#111" stroke-width="0.9"/>
<line x1="24.20" y1="100.50" x2="26.40" y2="100.50" stroke="#111" stroke-width="0.9"/>
<line x1="24.20" y1="97.50" x2="26.40" y2="97.50" stroke="#111" stroke-width="0.9"/>
<line x1="24.20" y1="95.20" x2="26.40" y2="95.20" stroke="#111" stroke-width="0.9"/>
<line x1="24.20" y1="93.50" x2="26.40" y2="93.50" stroke="#111" stroke-width="0.9"/>
<line x1="24.20" y1="92.30" x2="26.40" y2="92.30" stroke="#111" stroke-width="0.9"/>
<line x1="42.70" y1="108.50" x2="42.70" y2="111.90" stroke="#111" stroke-width="0.9"/>
<line x1="56.70" y1="108.50" x2="56.70" y2="111.90" stroke="#111" stroke-width="0.9"/>
<line x1="73.50" y1="108.50" x2="73.50" y2="111.90" stroke="#111" stroke-width="0.9"/>
<line x1="90.30" y1="108.50" x2="90.30" y2="111.90" stroke="#111" stroke-width="0.9"/>
<line x1="46.91" y1="108.50" x2="46.91" y2="110.50" stroke="#111" stroke-width="0.9"/>
<line x1="49.38" y1="108.50" x2="49.38" y2="110.50" stroke="#111" stroke-width="0.9"/>
<line x1="51.13" y1="108.50" x2="51.13" y2="110.50" stroke="#111" stroke-width="0.9"/>
<line x1="52.49" y1="108.50" x2="52.49" y2="110.50" stroke="#111" stroke-width="0.9"/>
<line x1="53.59" y1="108.50" x2="53.59" y2="110.50" stroke="#111" stroke-width="0.9"/>
<line x1="54.53" y1="108.50" x2="54.53" y2="110.50" stroke="#111" stroke-width="0.9"/>
<line x1="55.34" y1="108.50" x2="55.34" y2="110.50" stroke="#111" stroke-width="0.9"/>
<line x1="56.06" y1="108.50" x2="56.06" y2="110.50" stroke="#111" stroke-width="0.9"/>
<line x1="61.76" y1="108.50" x2="61.76" y2="110.50" stroke="#111" stroke-width="0.9"/>
<line x1="64.72" y1="108.50" x2="64.72" y2="110.50" stroke="#111" stroke-width="0.9"/>
<line x1="66.81" y1="108.50" x2="66.81" y2="110.50" stroke="#111" stroke-width="0.9"/>
<line x1="68.44" y1="108.50" x2="68.44" y2="110.50" stroke="#111" stroke-width="0.9"/>
<line x1="69.77" y1="108.50" x2="69.77" y2="110.50" stroke="#111" stroke-width="0.9"/>
<line x1="70.90" y1="108.50" x2="70.90" y2="110.50" stroke="#111" stroke-width="0.9"/>
<line x1="71.87" y1="108.50" x2="71.87" y2="110.50" stroke="#111" stroke-width="0.9"/>
<line x1="72.73" y1="108.50" x2="72.73" y2="110.50" stroke="#111" stroke-width="0.9"/>
<line x1="78.56" y1="108.50" x2="78.56" y2="110.50" stroke="#111" stroke-width="0.9"/>
<line x1="81.52" y1="108.50" x2="81.52" y2="110.50" stroke="#111" stroke-width="0.9"/>
<line x1="83.61" y1="108.50" x2="83.61" y2="110.50" stroke="#111" stroke-width="0.9"/>
<line x1="85.24" y1="108.50" x2="85.24" y2="110.50" stroke="#111" stroke-width="0.9"/>
<line x1="86.57" y1="108.50" x2="86.57" y2="110.50" stroke="#111" stroke-width="0.9"/>
<line x1="87.70" y1="108.50" x2="87.70" y2="110.50" stroke="#111" stroke-width="0.9"/>
<line x1="88.67" y1="108.50" x2="88.67" y2="110.50" stroke="#111" stroke-width="0.9"/>
<line x1="89.53" y1="108.50" x2="89.53" y2="110.50" stroke="#111" stroke-width="0.9"/>
<line x1="95.36" y1="108.50" x2="95.36" y2="110.50" stroke="#111" stroke-width="0.9"/>
<line x1="98.32" y1="108.50" x2="98.32" y2="110.50" stroke="#111" stroke-width="0.9"/>
<line x1="29.80" y1="108.50" x2="29.80" y2="111.90" stroke="#111" stroke-width="0.9"/>
<line x1="33.50" y1="108.50" x2="33.50" y2="110.50" stroke="#111" stroke-width="0.9"/>
<line x1="36.50" y1="108.50" x2="36.50" y2="110.50" stroke="#111" stroke-width="0.9"/>
<line x1="38.80" y1="108.50" x2="38.80" y2="110.50" stroke="#111" stroke-width="0.9"/>
<line x1="40.50" y1="108.50" x2="40.50" y2="110.50" stroke="#111" stroke-width="0.9"/>
<line x1="41.70" y1="108.50" x2="41.70" y2="110.50" stroke="#111" stroke-width="0.9"/>
<rect x="116" y="33.5" width="73.80" height="74.70" fill="none" stroke="#111" stroke-width="1.3"/>
<line x1="112.40" y1="90.60" x2="116.00" y2="90.60" stroke="#111" stroke-width="0.9"/>
<line x1="112.40" y1="74.30" x2="116.00" y2="74.30" stroke="#111" stroke-width="0.9"/>
<line x1="112.40" y1="57.70" x2="116.00" y2="57.70" stroke="#111" stroke-width="0.9"/>
<line x1="112.40" y1="41.10" x2="116.00" y2="41.10" stroke="#111" stroke-width="0.9"/>
<line x1="113.80" y1="85.69" x2="116.00" y2="85.69" stroke="#111" stroke-width="0.9"/>
<line x1="113.80" y1="82.82" x2="116.00" y2="82.82" stroke="#111" stroke-width="0.9"/>
<line x1="113.80" y1="80.79" x2="116.00" y2="80.79" stroke="#111" stroke-width="0.9"/>
<line x1="113.80" y1="79.21" x2="116.00" y2="79.21" stroke="#111" stroke-width="0.9"/>
<line x1="113.80" y1="77.92" x2="116.00" y2="77.92" stroke="#111" stroke-width="0.9"/>
<line x1="113.80" y1="76.82" x2="116.00" y2="76.82" stroke="#111" stroke-width="0.9"/>
<line x1="113.80" y1="75.88" x2="116.00" y2="75.88" stroke="#111" stroke-width="0.9"/>
<line x1="113.80" y1="75.05" x2="116.00" y2="75.05" stroke="#111" stroke-width="0.9"/>
<line x1="113.80" y1="69.30" x2="116.00" y2="69.30" stroke="#111" stroke-width="0.9"/>
<line x1="113.80" y1="66.38" x2="116.00" y2="66.38" stroke="#111" stroke-width="0.9"/>
<line x1="113.80" y1="64.31" x2="116.00" y2="64.31" stroke="#111" stroke-width="0.9"/>
<line x1="113.80" y1="62.70" x2="116.00" y2="62.70" stroke="#111" stroke-width="0.9"/>
<line x1="113.80" y1="61.38" x2="116.00" y2="61.38" stroke="#111" stroke-width="0.9"/>
<line x1="113.80" y1="60.27" x2="116.00" y2="60.27" stroke="#111" stroke-width="0.9"/>
<line x1="113.80" y1="59.31" x2="116.00" y2="59.31" stroke="#111" stroke-width="0.9"/>
<line x1="113.80" y1="58.46" x2="116.00" y2="58.46" stroke="#111" stroke-width="0.9"/>
<line x1="113.80" y1="52.70" x2="116.00" y2="52.70" stroke="#111" stroke-width="0.9"/>
<line x1="113.80" y1="49.78" x2="116.00" y2="49.78" stroke="#111" stroke-width="0.9"/>
<line x1="113.80" y1="47.71" x2="116.00" y2="47.71" stroke="#111" stroke-width="0.9"/>
<line x1="113.80" y1="46.10" x2="116.00" y2="46.10" stroke="#111" stroke-width="0.9"/>
<line x1="113.80" y1="44.78" x2="116.00" y2="44.78" stroke="#111" stroke-width="0.9"/>
<line x1="113.80" y1="43.67" x2="116.00" y2="43.67" stroke="#111" stroke-width="0.9"/>
<line x1="113.80" y1="42.71" x2="116.00" y2="42.71" stroke="#111" stroke-width="0.9"/>
<line x1="113.80" y1="41.86" x2="116.00" y2="41.86" stroke="#111" stroke-width="0.9"/>
<line x1="113.80" y1="36.10" x2="116.00" y2="36.10" stroke="#111" stroke-width="0.9"/>
<line x1="112.40" y1="104.30" x2="116.00" y2="104.30" stroke="#111" stroke-width="0.9"/>
<line x1="113.80" y1="100.50" x2="116.00" y2="100.50" stroke="#111" stroke-width="0.9"/>
<line x1="113.80" y1="97.50" x2="116.00" y2="97.50" stroke="#111" stroke-width="0.9"/>
<line x1="113.80" y1="95.20" x2="116.00" y2="95.20" stroke="#111" stroke-width="0.9"/>
<line x1="113.80" y1="93.50" x2="116.00" y2="93.50" stroke="#111" stroke-width="0.9"/>
<line x1="113.80" y1="92.30" x2="116.00" y2="92.30" stroke="#111" stroke-width="0.9"/>
<line x1="132.30" y1="108.20" x2="132.30" y2="111.60" stroke="#111" stroke-width="0.9"/>
<line x1="146.30" y1="108.20" x2="146.30" y2="111.60" stroke="#111" stroke-width="0.9"/>
<line x1="163.10" y1="108.20" x2="163.10" y2="111.60" stroke="#111" stroke-width="0.9"/>
<line x1="179.90" y1="108.20" x2="179.90" y2="111.60" stroke="#111" stroke-width="0.9"/>
<line x1="136.51" y1="108.20" x2="136.51" y2="110.20" stroke="#111" stroke-width="0.9"/>
<line x1="138.98" y1="108.20" x2="138.98" y2="110.20" stroke="#111" stroke-width="0.9"/>
<line x1="140.73" y1="108.20" x2="140.73" y2="110.20" stroke="#111" stroke-width="0.9"/>
<line x1="142.09" y1="108.20" x2="142.09" y2="110.20" stroke="#111" stroke-width="0.9"/>
<line x1="143.19" y1="108.20" x2="143.19" y2="110.20" stroke="#111" stroke-width="0.9"/>
<line x1="144.13" y1="108.20" x2="144.13" y2="110.20" stroke="#111" stroke-width="0.9"/>
<line x1="144.94" y1="108.20" x2="144.94" y2="110.20" stroke="#111" stroke-width="0.9"/>
<line x1="145.66" y1="108.20" x2="145.66" y2="110.20" stroke="#111" stroke-width="0.9"/>
<line x1="151.36" y1="108.20" x2="151.36" y2="110.20" stroke="#111" stroke-width="0.9"/>
<line x1="154.32" y1="108.20" x2="154.32" y2="110.20" stroke="#111" stroke-width="0.9"/>
<line x1="156.41" y1="108.20" x2="156.41" y2="110.20" stroke="#111" stroke-width="0.9"/>
<line x1="158.04" y1="108.20" x2="158.04" y2="110.20" stroke="#111" stroke-width="0.9"/>
<line x1="159.37" y1="108.20" x2="159.37" y2="110.20" stroke="#111" stroke-width="0.9"/>
<line x1="160.50" y1="108.20" x2="160.50" y2="110.20" stroke="#111" stroke-width="0.9"/>
<line x1="161.47" y1="108.20" x2="161.47" y2="110.20" stroke="#111" stroke-width="0.9"/>
<line x1="162.33" y1="108.20" x2="162.33" y2="110.20" stroke="#111" stroke-width="0.9"/>
<line x1="168.16" y1="108.20" x2="168.16" y2="110.20" stroke="#111" stroke-width="0.9"/>
<line x1="171.12" y1="108.20" x2="171.12" y2="110.20" stroke="#111" stroke-width="0.9"/>
<line x1="173.21" y1="108.20" x2="173.21" y2="110.20" stroke="#111" stroke-width="0.9"/>
<line x1="174.84" y1="108.20" x2="174.84" y2="110.20" stroke="#111" stroke-width="0.9"/>
<line x1="176.17" y1="108.20" x2="176.17" y2="110.20" stroke="#111" stroke-width="0.9"/>
<line x1="177.30" y1="108.20" x2="177.30" y2="110.20" stroke="#111" stroke-width="0.9"/>
<line x1="178.27" y1="108.20" x2="178.27" y2="110.20" stroke="#111" stroke-width="0.9"/>
<line x1="179.13" y1="108.20" x2="179.13" y2="110.20" stroke="#111" stroke-width="0.9"/>
<line x1="184.96" y1="108.20" x2="184.96" y2="110.20" stroke="#111" stroke-width="0.9"/>
<line x1="187.92" y1="108.20" x2="187.92" y2="110.20" stroke="#111" stroke-width="0.9"/>
<line x1="119.40" y1="108.20" x2="119.40" y2="111.60" stroke="#111" stroke-width="0.9"/>
<line x1="123.10" y1="108.20" x2="123.10" y2="110.20" stroke="#111" stroke-width="0.9"/>
<line x1="126.10" y1="108.20" x2="126.10" y2="110.20" stroke="#111" stroke-width="0.9"/>
<line x1="128.40" y1="108.20" x2="128.40" y2="110.20" stroke="#111" stroke-width="0.9"/>
<line x1="130.10" y1="108.20" x2="130.10" y2="110.20" stroke="#111" stroke-width="0.9"/>
<line x1="131.30" y1="108.20" x2="131.30" y2="110.20" stroke="#111" stroke-width="0.9"/>
<text x="54.44" y="46.20" font-size="9.023" fill="#1e1e1e" stroke="#1e1e1e" stroke-width="0.3" textLength="40.05" lengthAdjust="spacingAndGlyphs">33%GMP</text>
<text x="28.64" y="68.60" font-size="8.879" fill="#1e1e1e" stroke="#1e1e1e" stroke-width="0.3" textLength="18.49" lengthAdjust="spacingAndGlyphs">22%</text>
<text x="42.23" y="103.70" font-size="8.866" fill="#1e1e1e" stroke="#1e1e1e" stroke-width="0.3" textLength="20.37" lengthAdjust="spacingAndGlyphs">MEP</text>
<text x="72.83" y="103.60" font-size="8.593" fill="#1e1e1e" stroke="#1e1e1e" stroke-width="0.3" textLength="20.45" lengthAdjust="spacingAndGlyphs">CMP</text>
<text x="75.83" y="93.80" font-size="9.452" fill="#1e1e1e" stroke="#1e1e1e" stroke-width="0.3" textLength="18.60" lengthAdjust="spacingAndGlyphs">28%</text>
<text x="148.94" y="46.60" font-size="9.166" fill="#1e1e1e" stroke="#1e1e1e" stroke-width="0.3" textLength="35.57" lengthAdjust="spacingAndGlyphs">3%GMP</text>
<text x="121.13" y="67.90" font-size="9.452" fill="#1e1e1e" stroke="#1e1e1e" stroke-width="0.3" textLength="18.29" lengthAdjust="spacingAndGlyphs">79%</text>
<text x="132.65" y="103.70" font-size="8.866" fill="#1e1e1e" stroke="#1e1e1e" stroke-width="0.3" textLength="19.94" lengthAdjust="spacingAndGlyphs">MEP</text>
<text x="163.52" y="103.70" font-size="8.736" fill="#1e1e1e" stroke="#1e1e1e" stroke-width="0.3" textLength="20.98" lengthAdjust="spacingAndGlyphs">CMP</text>
<text x="170.52" y="93.70" font-size="8.879" fill="#1e1e1e" stroke="#1e1e1e" stroke-width="0.3" textLength="13.82" lengthAdjust="spacingAndGlyphs">2%</text>
<text x="16.19" y="92.86" font-size="10.894" fill="#1e1e1e" stroke="#1e1e1e" stroke-width="0.3" textLength="43.16" lengthAdjust="spacingAndGlyphs" transform="rotate(-90 16.19 92.86)">CD16/32</text>
<text x="95.27" y="125.40" font-size="11.028" fill="#1e1e1e" stroke="#1e1e1e" stroke-width="0.3" textLength="26.53" lengthAdjust="spacingAndGlyphs">CD34</text>
<line x1="227.00" y1="34.20" x2="227.00" y2="109.00" stroke="#1a1a1a" stroke-width="1.45"/>
<line x1="226.40" y1="108.40" x2="288.80" y2="108.40" stroke="#1a1a1a" stroke-width="1.45"/>
<line x1="224.10" y1="108.40" x2="227.00" y2="108.40" stroke="#111" stroke-width="1"/>
<line x1="224.10" y1="90.75" x2="227.00" y2="90.75" stroke="#111" stroke-width="1"/>
<line x1="224.10" y1="73.10" x2="227.00" y2="73.10" stroke="#111" stroke-width="1"/>
<line x1="224.10" y1="55.45" x2="227.00" y2="55.45" stroke="#111" stroke-width="1"/>
<line x1="224.10" y1="37.80" x2="227.00" y2="37.80" stroke="#111" stroke-width="1"/>
<text x="215.36" y="111.35" font-size="8.450" fill="#1e1e1e" stroke="#1e1e1e" stroke-width="0.3" textLength="4.89" lengthAdjust="spacingAndGlyphs">0</text>
<text x="215.24" y="93.70" font-size="8.450" fill="#1e1e1e" stroke="#1e1e1e" stroke-width="0.3" textLength="5.13" lengthAdjust="spacingAndGlyphs">2</text>
<text x="215.51" y="76.05" font-size="8.576" fill="#1e1e1e" stroke="#1e1e1e" stroke-width="0.3" textLength="4.64" lengthAdjust="spacingAndGlyphs">4</text>
<text x="215.24" y="58.40" font-size="8.450" fill="#1e1e1e" stroke="#1e1e1e" stroke-width="0.3" textLength="5.06" lengthAdjust="spacingAndGlyphs">6</text>
<text x="215.31" y="40.75" font-size="8.450" fill="#1e1e1e" stroke="#1e1e1e" stroke-width="0.3" textLength="4.98" lengthAdjust="spacingAndGlyphs">8</text>
<text x="207.54" y="91.18" font-size="10.404" fill="#1e1e1e" stroke="#1e1e1e" stroke-width="0.3" textLength="40.07" lengthAdjust="spacingAndGlyphs" transform="rotate(-90 207.54 91.18)">% in BM</text>
<rect x="229.80" y="106.20" width="5.50" height="2.20" fill="#78a95c"/>
<line x1="232.55" y1="106.20" x2="232.55" y2="105.20" stroke="#78a95c" stroke-width="0.9"/>
<line x1="231.10" y1="105.20" x2="234.00" y2="105.20" stroke="#78a95c" stroke-width="0.9"/>
<rect x="250.60" y="106.20" width="5.50" height="2.20" fill="#78a95c"/>
<line x1="253.35" y1="106.20" x2="253.35" y2="105.20" stroke="#78a95c" stroke-width="0.9"/>
<line x1="251.90" y1="105.20" x2="254.80" y2="105.20" stroke="#78a95c" stroke-width="0.9"/>
<rect x="271.40" y="106.20" width="5.50" height="2.20" fill="#78a95c"/>
<line x1="274.15" y1="106.20" x2="274.15" y2="105.20" stroke="#78a95c" stroke-width="0.9"/>
<line x1="272.70" y1="105.20" x2="275.60" y2="105.20" stroke="#78a95c" stroke-width="0.9"/>
<rect x="237.50" y="65.90" width="5.50" height="42.50" fill="#a13445"/>
<rect x="259.90" y="107.20" width="2.40" height="1.20" fill="#a13445"/>
<rect x="281.00" y="107.60" width="2.00" height="0.80" fill="#a13445"/>
<line x1="240.50" y1="65.90" x2="240.50" y2="48.30" stroke="#a13445" stroke-width="1.0"/>
<line x1="238.50" y1="48.30" x2="242.50" y2="48.30" stroke="#a13445" stroke-width="1.0"/>
<path d="M240.30 42.25L240.30 44.95M239.13 42.93L241.47 44.27M241.47 42.93L239.13 44.27" stroke="#444" stroke-width="0.80" fill="none"/>
<circle cx="240.30" cy="43.60" r="1.05" fill="#444"/>
<path d="M259.70 98.75L259.70 101.45M258.53 99.42L260.87 100.77M260.87 99.42L258.53 100.77" stroke="#444" stroke-width="0.80" fill="none"/>
<circle cx="259.70" cy="100.10" r="1.05" fill="#444"/>
<path d="M263.40 98.75L263.40 101.45M262.23 99.42L264.57 100.77M264.57 99.42L262.23 100.77" stroke="#444" stroke-width="0.80" fill="none"/>
<circle cx="263.40" cy="100.10" r="1.05" fill="#444"/>
<path d="M277.90 98.75L277.90 101.45M276.73 99.42L279.07 100.77M279.07 99.42L276.73 100.77" stroke="#444" stroke-width="0.80" fill="none"/>
<circle cx="277.90" cy="100.10" r="1.05" fill="#444"/>
<path d="M281.60 98.75L281.60 101.45M280.43 99.42L282.77 100.77M282.77 99.42L280.43 100.77" stroke="#444" stroke-width="0.80" fill="none"/>
<circle cx="281.60" cy="100.10" r="1.05" fill="#444"/>
<path d="M285.30 98.75L285.30 101.45M284.13 99.42L286.47 100.77M286.47 99.42L284.13 100.77" stroke="#444" stroke-width="0.80" fill="none"/>
<circle cx="285.30" cy="100.10" r="1.05" fill="#444"/>
<rect x="248.00" y="41.70" width="9.00" height="5.00" fill="#78a95c"/>
<rect x="248.00" y="53.10" width="9.00" height="5.20" fill="#a13445"/>
<text x="260.76" y="46.70" font-size="8.721" fill="#78a95c" stroke="#78a95c" stroke-width="0.3" textLength="24.07" lengthAdjust="spacingAndGlyphs">Vector</text>
<text x="260.10" y="58.30" font-size="9.596" fill="#a13445" stroke="#a13445" stroke-width="0.3" textLength="34.21" lengthAdjust="spacingAndGlyphs">Prdm16s</text>
<text x="233.53" y="130.99" font-size="9.000" fill="#1e1e1e" stroke="#1e1e1e" stroke-width="0.3" textLength="18.64" lengthAdjust="spacingAndGlyphs" transform="rotate(-47 233.53 130.99)">MEP</text>
<text x="252.02" y="132.18" font-size="9.000" fill="#1e1e1e" stroke="#1e1e1e" stroke-width="0.3" textLength="20.79" lengthAdjust="spacingAndGlyphs" transform="rotate(-47 252.02 132.18)">GMP</text>
<text x="273.20" y="131.84" font-size="9.000" fill="#1e1e1e" stroke="#1e1e1e" stroke-width="0.3" textLength="20.42" lengthAdjust="spacingAndGlyphs" transform="rotate(-47 273.20 131.84)">CMP</text>
<text x="315.82" y="19.90" font-size="13.954" fill="#1e1e1e" stroke="#1e1e1e" stroke-width="0.3" textLength="8.77" lengthAdjust="spacingAndGlyphs">B</text>
<line x1="354.60" y1="41.20" x2="354.60" y2="109.10" stroke="#1a1a1a" stroke-width="1.45"/>
<line x1="354.00" y1="108.50" x2="455.80" y2="108.50" stroke="#1a1a1a" stroke-width="1.45"/>
<line x1="350.60" y1="108.50" x2="354.60" y2="108.50" stroke="#111" stroke-width="1"/>
<line x1="350.60" y1="93.22" x2="354.60" y2="93.22" stroke="#111" stroke-width="1"/>
<line x1="350.60" y1="77.95" x2="354.60" y2="77.95" stroke="#111" stroke-width="1"/>
<line x1="350.60" y1="62.67" x2="354.60" y2="62.67" stroke="#111" stroke-width="1"/>
<line x1="350.60" y1="47.40" x2="354.60" y2="47.40" stroke="#111" stroke-width="1"/>
<text x="342.56" y="111.65" font-size="9.023" fill="#1e1e1e" stroke="#1e1e1e" stroke-width="0.3" textLength="4.77" lengthAdjust="spacingAndGlyphs">0</text>
<text x="337.45" y="96.38" font-size="9.023" fill="#1e1e1e" stroke="#1e1e1e" stroke-width="0.3" textLength="9.92" lengthAdjust="spacingAndGlyphs">25</text>
<text x="337.55" y="81.10" font-size="9.023" fill="#1e1e1e" stroke="#1e1e1e" stroke-width="0.3" textLength="9.80" lengthAdjust="spacingAndGlyphs">50</text>
<text x="337.44" y="65.83" font-size="9.157" fill="#1e1e1e" stroke="#1e1e1e" stroke-width="0.3" textLength="9.93" lengthAdjust="spacingAndGlyphs">75</text>
<text x="332.84" y="50.55" font-size="9.023" fill="#1e1e1e" stroke="#1e1e1e" stroke-width="0.3" textLength="14.50" lengthAdjust="spacingAndGlyphs">100</text>
<line x1="354.60" y1="108.50" x2="354.60" y2="111.80" stroke="#111" stroke-width="1"/>
<line x1="368.60" y1="108.50" x2="368.60" y2="111.80" stroke="#111" stroke-width="1"/>
<line x1="382.60" y1="108.50" x2="382.60" y2="111.80" stroke="#111" stroke-width="1"/>
<line x1="396.60" y1="108.50" x2="396.60" y2="111.80" stroke="#111" stroke-width="1"/>
<line x1="410.60" y1="108.50" x2="410.60" y2="111.80" stroke="#111" stroke-width="1"/>
<line x1="424.60" y1="108.50" x2="424.60" y2="111.80" stroke="#111" stroke-width="1"/>
<line x1="438.60" y1="108.50" x2="438.60" y2="111.80" stroke="#111" stroke-width="1"/>
<line x1="452.60" y1="108.50" x2="452.60" y2="111.80" stroke="#111" stroke-width="1"/>
<text x="352.16" y="124.00" font-size="8.307" fill="#1e1e1e" stroke="#1e1e1e" stroke-width="0.3" textLength="4.89" lengthAdjust="spacingAndGlyphs">0</text>
<text x="375.46" y="124.00" font-size="8.307" fill="#1e1e1e" stroke="#1e1e1e" stroke-width="0.3" textLength="13.96" lengthAdjust="spacingAndGlyphs">100</text>
<text x="403.69" y="124.00" font-size="8.307" fill="#1e1e1e" stroke="#1e1e1e" stroke-width="0.3" textLength="13.74" lengthAdjust="spacingAndGlyphs">200</text>
<text x="431.79" y="124.00" font-size="8.307" fill="#1e1e1e" stroke="#1e1e1e" stroke-width="0.3" textLength="13.63" lengthAdjust="spacingAndGlyphs">300</text>
<text x="325.18" y="112.28" font-size="12.255" fill="#1e1e1e" stroke="#1e1e1e" stroke-width="0.3" textLength="76.60" lengthAdjust="spacingAndGlyphs" transform="rotate(-90 325.18 112.28)">Percent survival</text>
<text x="343.10" y="139.60" font-size="11.773" fill="#1e1e1e" stroke="#1e1e1e" stroke-width="0.3" textLength="124.32" lengthAdjust="spacingAndGlyphs">Days post transplantation</text>
<path d="M354.60 47.40 L373.30 47.40 L373.30 53.51 L374.40 53.51 L374.40 65.73 L376.30 65.73 L376.30 71.84 L379.40 71.84 L379.40 77.95 L381.30 77.95 L381.30 84.06 L384.60 84.06 L384.60 90.17 L388.00 90.17 L388.00 96.28 L391.60 96.28 L391.60 108.50" fill="none" stroke="#b3304a" stroke-width="1.1"/>
<path d="M354.60 47.40 L379.60 47.40 L379.60 53.51 L380.60 53.51 L380.60 65.73 L386.50 65.73 L386.50 71.84 L388.00 71.84 L388.00 77.95 L391.40 77.95 L391.40 84.06 L401.00 84.06 L401.00 90.17 L407.00 90.17 L407.00 102.39 L455.80 102.39 L455.80 102.39" fill="none" stroke="#52719f" stroke-width="1.1"/>
<line x1="397.90" y1="45.90" x2="408.70" y2="45.90" stroke="#52719f" stroke-width="1.2"/>
<line x1="397.90" y1="57.80" x2="408.70" y2="57.80" stroke="#b3304a" stroke-width="1.2"/>
<text x="411.60" y="49.60" font-size="8.163" fill="#52719f" stroke="#52719f" stroke-width="0.3" textLength="34.10" lengthAdjust="spacingAndGlyphs">500k GFP</text>
<line x1="445.90" y1="45.60" x2="448.90" y2="45.60" stroke="#52719f" stroke-width="0.8"/>
<line x1="447.40" y1="44.10" x2="447.40" y2="47.10" stroke="#52719f" stroke-width="0.8"/>
<text x="411.49" y="61.80" font-size="8.020" fill="#b3304a" stroke="#b3304a" stroke-width="0.3" textLength="38.62" lengthAdjust="spacingAndGlyphs">50k L-MEP</text>
<text x="402.98" y="72.00" font-size="7.558" fill="#1e1e1e" stroke="#1e1e1e" stroke-width="0.3" textLength="4.26" lengthAdjust="spacingAndGlyphs">P</text>
<rect x="410.00" y="68.30" width="4.00" height="2.70" fill="#9a9a9a"/>
<text x="416.16" y="72.00" font-size="7.447" fill="#1e1e1e" stroke="#1e1e1e" stroke-width="0.3" textLength="16.71" lengthAdjust="spacingAndGlyphs">0.03</text>
<text x="8.13" y="172.90" font-size="13.749" fill="#1e1e1e" stroke="#1e1e1e" stroke-width="0.3" textLength="8.10" lengthAdjust="spacingAndGlyphs">C</text>
<line x1="46.40" y1="180.60" x2="46.40" y2="253.70" stroke="#1a1a1a" stroke-width="1.45"/>
<line x1="45.80" y1="253.10" x2="155.60" y2="253.10" stroke="#1a1a1a" stroke-width="1.45"/>
<line x1="42.80" y1="253.10" x2="46.40" y2="253.10" stroke="#111" stroke-width="1"/>
<line x1="42.80" y1="236.70" x2="46.40" y2="236.70" stroke="#111" stroke-width="1"/>
<line x1="42.80" y1="220.30" x2="46.40" y2="220.30" stroke="#111" stroke-width="1"/>
<line x1="42.80" y1="203.90" x2="46.40" y2="203.90" stroke="#111" stroke-width="1"/>
<line x1="42.80" y1="187.50" x2="46.40" y2="187.50" stroke="#111" stroke-width="1"/>
<text x="34.46" y="256.25" font-size="9.023" fill="#1e1e1e" stroke="#1e1e1e" stroke-width="0.3" textLength="4.77" lengthAdjust="spacingAndGlyphs">0</text>
<text x="29.67" y="239.85" font-size="9.023" fill="#1e1e1e" stroke="#1e1e1e" stroke-width="0.3" textLength="9.60" lengthAdjust="spacingAndGlyphs">25</text>
<text x="29.76" y="223.45" font-size="9.023" fill="#1e1e1e" stroke="#1e1e1e" stroke-width="0.3" textLength="9.47" lengthAdjust="spacingAndGlyphs">50</text>
<text x="29.66" y="207.05" font-size="9.157" fill="#1e1e1e" stroke="#1e1e1e" stroke-width="0.3" textLength="9.61" lengthAdjust="spacingAndGlyphs">75</text>
<text x="24.32" y="190.65" font-size="9.023" fill="#1e1e1e" stroke="#1e1e1e" stroke-width="0.3" textLength="14.93" lengthAdjust="spacingAndGlyphs">100</text>
<line x1="46.40" y1="253.10" x2="46.40" y2="256.50" stroke="#111" stroke-width="1"/>
<line x1="61.63" y1="253.10" x2="61.63" y2="256.50" stroke="#111" stroke-width="1"/>
<line x1="76.86" y1="253.10" x2="76.86" y2="256.50" stroke="#111" stroke-width="1"/>
<line x1="92.09" y1="253.10" x2="92.09" y2="256.50" stroke="#111" stroke-width="1"/>
<line x1="107.32" y1="253.10" x2="107.32" y2="256.50" stroke="#111" stroke-width="1"/>
<line x1="122.55" y1="253.10" x2="122.55" y2="256.50" stroke="#111" stroke-width="1"/>
<line x1="137.78" y1="253.10" x2="137.78" y2="256.50" stroke="#111" stroke-width="1"/>
<line x1="153.01" y1="253.10" x2="153.01" y2="256.50" stroke="#111" stroke-width="1"/>
<text x="43.84" y="268.10" font-size="8.307" fill="#1e1e1e" stroke="#1e1e1e" stroke-width="0.3" textLength="5.12" lengthAdjust="spacingAndGlyphs">0</text>
<text x="69.61" y="268.10" font-size="8.307" fill="#1e1e1e" stroke="#1e1e1e" stroke-width="0.3" textLength="14.18" lengthAdjust="spacingAndGlyphs">100</text>
<text x="100.30" y="268.10" font-size="8.307" fill="#1e1e1e" stroke="#1e1e1e" stroke-width="0.3" textLength="13.95" lengthAdjust="spacingAndGlyphs">200</text>
<text x="130.86" y="268.10" font-size="8.307" fill="#1e1e1e" stroke="#1e1e1e" stroke-width="0.3" textLength="13.84" lengthAdjust="spacingAndGlyphs">300</text>
<text x="17.28" y="254.89" font-size="12.391" fill="#1e1e1e" stroke="#1e1e1e" stroke-width="0.3" textLength="76.81" lengthAdjust="spacingAndGlyphs" transform="rotate(-90 17.28 254.89)">Percent survival</text>
<text x="39.10" y="284.10" font-size="10.611" fill="#1e1e1e" stroke="#1e1e1e" stroke-width="0.3" textLength="124.32" lengthAdjust="spacingAndGlyphs">Days post transplantation</text>
<path d="M46.40 187.50 L64.80 187.50 L64.80 194.06 L68.30 194.06 L68.30 200.62 L70.90 200.62 L70.90 207.18 L76.30 207.18 L76.30 220.30 L80.30 220.30 L80.30 226.86 L84.00 226.86 L84.00 246.54 L90.80 246.54 L90.80 253.10" fill="none" stroke="#84b868" stroke-width="1.0"/>
<path d="M46.40 187.50 L64.80 187.50 L64.80 194.06 L90.80 194.06 L90.80 200.62 L93.50 200.62 L93.50 207.18 L100.00 207.18 L100.00 213.74 L107.00 213.74 L107.00 220.30 L155.80 220.30 L155.80 220.30" fill="none" stroke="#b23a4e" stroke-width="1.0"/>
<path d="M46.40 187.50 L87.20 187.50 L87.20 194.06 L88.40 194.06 L88.40 200.62 L92.70 200.62 L92.70 220.30 L97.50 220.30 L97.50 226.86 L100.00 226.86 L100.00 233.42 L104.20 233.42 L104.20 239.98 L125.90 239.98 L125.90 246.54 L136.90 246.54 L136.90 253.10" fill="none" stroke="#d9408c" stroke-width="1.0"/>
<path d="M46.40 187.50 L84.80 187.50 L84.80 194.06 L86.80 194.06 L86.80 207.18 L90.40 207.18 L90.40 213.74 L92.00 213.74 L92.00 226.86 L94.30 226.86 L94.30 233.42 L97.50 233.42 L97.50 239.98 L100.00 239.98 L100.00 246.54 L104.70 246.54 L104.70 253.10" fill="none" stroke="#4a6898" stroke-width="1.0"/>
<line x1="122.10" y1="177.90" x2="133.60" y2="177.90" stroke="#84b868" stroke-width="1.4"/>
<text x="134.52" y="181.00" font-size="9.452" fill="#84b868" stroke="#84b868" stroke-width="0.3" textLength="14.37" lengthAdjust="spacingAndGlyphs">10k</text>
<line x1="122.10" y1="189.90" x2="133.60" y2="189.90" stroke="#4a6898" stroke-width="1.2"/>
<text x="134.51" y="193.30" font-size="9.448" fill="#4a6898" stroke="#4a6898" stroke-width="0.3" textLength="9.58" lengthAdjust="spacingAndGlyphs">1k</text>
<line x1="122.10" y1="202.50" x2="133.60" y2="202.50" stroke="#d9408c" stroke-width="1.3"/>
<text x="134.55" y="205.70" font-size="9.309" fill="#d9408c" stroke="#d9408c" stroke-width="0.3" textLength="14.29" lengthAdjust="spacingAndGlyphs">100</text>
<line x1="122.10" y1="214.10" x2="133.60" y2="214.10" stroke="#b23a4e" stroke-width="1.2"/>
<text x="134.52" y="217.20" font-size="9.023" fill="#b23a4e" stroke="#b23a4e" stroke-width="0.3" textLength="9.93" lengthAdjust="spacingAndGlyphs">10</text>
<line x1="164.20" y1="191.10" x2="276.80" y2="191.10" stroke="#333" stroke-width="1.6"/>
<line x1="164.20" y1="205.70" x2="276.80" y2="205.70" stroke="#333" stroke-width="1.6"/>
<line x1="164.20" y1="253.70" x2="276.80" y2="253.70" stroke="#333" stroke-width="1.6"/>
<text x="190.66" y="201.10" font-size="9.593" fill="#1e1e1e" stroke="#1e1e1e" stroke-width="0.3" textLength="17.63" lengthAdjust="spacingAndGlyphs">Bulk</text>
<text x="240.32" y="201.10" font-size="9.157" fill="#a13445" stroke="#a13445" stroke-width="0.3" textLength="25.42" lengthAdjust="spacingAndGlyphs">L-MEP</text>
<text x="165.00" y="217.20" font-size="9.448" fill="#1e1e1e" stroke="#1e1e1e" stroke-width="0.3" textLength="15.18" lengthAdjust="spacingAndGlyphs">Fre.</text>
<text x="186.29" y="217.20" font-size="9.739" fill="#1e1e1e" stroke="#1e1e1e" stroke-width="0.3" textLength="28.31" lengthAdjust="spacingAndGlyphs">1/2623</text>
<text x="240.31" y="217.20" font-size="9.739" fill="#a13445" stroke="#a13445" stroke-width="0.3" textLength="17.73" lengthAdjust="spacingAndGlyphs">1/29</text>
<text x="165.22" y="233.40" font-size="9.309" fill="#1e1e1e" stroke="#1e1e1e" stroke-width="0.3" textLength="9.45" lengthAdjust="spacingAndGlyphs">CI</text>
<text x="187.52" y="233.40" font-size="9.309" fill="#1e1e1e" stroke="#1e1e1e" stroke-width="0.3" textLength="42.52" lengthAdjust="spacingAndGlyphs">1465-4692</text>
<text x="240.32" y="233.40" font-size="9.309" fill="#a13445" stroke="#a13445" stroke-width="0.3" textLength="22.72" lengthAdjust="spacingAndGlyphs">14-62</text>
<text x="165.34" y="248.60" font-size="8.896" fill="#1e1e1e" stroke="#1e1e1e" stroke-width="0.3" textLength="5.69" lengthAdjust="spacingAndGlyphs">p</text>
<text x="240.54" y="249.00" font-size="9.166" fill="#a13445" stroke="#a13445" stroke-width="0.3" textLength="35.71" lengthAdjust="spacingAndGlyphs">6.44e-20</text>
<text x="296.25" y="172.60" font-size="13.082" fill="#1e1e1e" stroke="#1e1e1e" stroke-width="0.3" textLength="10.12" lengthAdjust="spacingAndGlyphs">D</text>
<line x1="335.30" y1="183.50" x2="335.30" y2="253.70" stroke="#1a1a1a" stroke-width="1.45"/>
<line x1="334.70" y1="253.10" x2="434.70" y2="253.10" stroke="#1a1a1a" stroke-width="1.45"/>
<line x1="331.30" y1="253.10" x2="335.30" y2="253.10" stroke="#111" stroke-width="1"/>
<line x1="331.30" y1="237.32" x2="335.30" y2="237.32" stroke="#111" stroke-width="1"/>
<line x1="331.30" y1="221.55" x2="335.30" y2="221.55" stroke="#111" stroke-width="1"/>
<line x1="331.30" y1="205.77" x2="335.30" y2="205.77" stroke="#111" stroke-width="1"/>
<line x1="331.30" y1="190.00" x2="335.30" y2="190.00" stroke="#111" stroke-width="1"/>
<text x="322.86" y="256.25" font-size="9.023" fill="#1e1e1e" stroke="#1e1e1e" stroke-width="0.3" textLength="4.77" lengthAdjust="spacingAndGlyphs">0</text>
<text x="318.59" y="240.47" font-size="9.023" fill="#1e1e1e" stroke="#1e1e1e" stroke-width="0.3" textLength="9.05" lengthAdjust="spacingAndGlyphs">25</text>
<text x="318.68" y="224.70" font-size="9.023" fill="#1e1e1e" stroke="#1e1e1e" stroke-width="0.3" textLength="8.94" lengthAdjust="spacingAndGlyphs">50</text>
<text x="318.58" y="208.92" font-size="9.157" fill="#1e1e1e" stroke="#1e1e1e" stroke-width="0.3" textLength="9.06" lengthAdjust="spacingAndGlyphs">75</text>
<text x="313.14" y="193.15" font-size="9.023" fill="#1e1e1e" stroke="#1e1e1e" stroke-width="0.3" textLength="14.50" lengthAdjust="spacingAndGlyphs">100</text>
<line x1="334.80" y1="253.10" x2="334.80" y2="256.40" stroke="#111" stroke-width="1"/>
<line x1="348.60" y1="253.10" x2="348.60" y2="256.40" stroke="#111" stroke-width="1"/>
<line x1="362.40" y1="253.10" x2="362.40" y2="256.40" stroke="#111" stroke-width="1"/>
<line x1="376.20" y1="253.10" x2="376.20" y2="256.40" stroke="#111" stroke-width="1"/>
<line x1="390.00" y1="253.10" x2="390.00" y2="256.40" stroke="#111" stroke-width="1"/>
<line x1="403.80" y1="253.10" x2="403.80" y2="256.40" stroke="#111" stroke-width="1"/>
<line x1="417.60" y1="253.10" x2="417.60" y2="256.40" stroke="#111" stroke-width="1"/>
<line x1="431.40" y1="253.10" x2="431.40" y2="256.40" stroke="#111" stroke-width="1"/>
<text x="332.97" y="268.60" font-size="7.447" fill="#1e1e1e" stroke="#1e1e1e" stroke-width="0.3" textLength="4.65" lengthAdjust="spacingAndGlyphs">0</text>
<text x="355.20" y="268.60" font-size="7.447" fill="#1e1e1e" stroke="#1e1e1e" stroke-width="0.3" textLength="15.25" lengthAdjust="spacingAndGlyphs">100</text>
<text x="382.75" y="268.60" font-size="7.447" fill="#1e1e1e" stroke="#1e1e1e" stroke-width="0.3" textLength="15.00" lengthAdjust="spacingAndGlyphs">200</text>
<text x="410.36" y="268.60" font-size="7.447" fill="#1e1e1e" stroke="#1e1e1e" stroke-width="0.3" textLength="14.89" lengthAdjust="spacingAndGlyphs">300</text>
<text x="306.48" y="256.69" font-size="11.983" fill="#1e1e1e" stroke="#1e1e1e" stroke-width="0.3" textLength="76.91" lengthAdjust="spacingAndGlyphs" transform="rotate(-90 306.48 256.69)">Percent survival</text>
<text x="321.60" y="282.40" font-size="10.756" fill="#1e1e1e" stroke="#1e1e1e" stroke-width="0.3" textLength="123.31" lengthAdjust="spacingAndGlyphs">Days post transplantation</text>
<path d="M335.30 190.00 L356.40 190.00 L356.40 196.31 L361.30 196.31 L361.30 202.62 L366.40 202.62 L366.40 208.93 L368.00 208.93 L368.00 215.24 L370.20 215.24 L370.20 221.55 L372.30 221.55 L372.30 227.86 L374.80 227.86 L374.80 234.17 L384.60 234.17 L384.60 240.48 L386.00 240.48 L386.00 246.79 L395.40 246.79 L395.40 253.10" fill="none" stroke="#b3304a" stroke-width="1.1"/>
<path d="M335.30 190.00 L351.80 190.00 L351.80 196.31 L356.90 196.31 L356.90 208.93 L368.00 208.93 L368.00 215.24 L369.80 215.24 L369.80 221.55 L379.70 221.55 L379.70 227.86 L389.20 227.86 L389.20 234.17 L390.30 234.17 L390.30 240.48 L393.00 240.48 L393.00 246.79 L409.80 246.79 L409.80 253.10" fill="none" stroke="#3f5f92" stroke-width="1.15" stroke-dasharray="2.8 0.9"/>
<line x1="335.30" y1="190.00" x2="434.70" y2="190.00" stroke="#8cc272" stroke-width="1.3"/>
<line x1="396.20" y1="198.90" x2="407.20" y2="198.90" stroke="#8cc272" stroke-width="1.3"/>
<line x1="396.20" y1="212.80" x2="407.20" y2="212.80" stroke="#b3304a" stroke-width="1.3"/>
<line x1="396.20" y1="226.60" x2="407.20" y2="226.60" stroke="#3f5f92" stroke-width="1.2" stroke-dasharray="2.8 0.9"/>
<text x="411.46" y="202.00" font-size="9.302" fill="#6aa84f" stroke="#6aa84f" stroke-width="0.3" textLength="23.87" lengthAdjust="spacingAndGlyphs">Vector</text>
<text x="410.54" y="216.00" font-size="9.023" fill="#b3304a" stroke="#b3304a" stroke-width="0.3" textLength="23.02" lengthAdjust="spacingAndGlyphs">CD34</text>
<line x1="433.70" y1="211.20" x2="435.50" y2="211.20" stroke="#b3304a" stroke-width="0.9"/>
<text x="435.46" y="216.00" font-size="9.157" fill="#b3304a" stroke="#b3304a" stroke-width="0.3" textLength="14.40" lengthAdjust="spacingAndGlyphs">MEP</text>
<text x="410.60" y="229.80" font-size="8.879" fill="#4a6898" stroke="#4a6898" stroke-width="0.3" textLength="24.51" lengthAdjust="spacingAndGlyphs">CD150</text>
<line x1="435.10" y1="225.30" x2="438.40" y2="225.30" stroke="#3f5f92" stroke-width="0.95"/>
<line x1="436.75" y1="223.60" x2="436.75" y2="227.00" stroke="#3f5f92" stroke-width="0.95"/>
<text x="437.85" y="229.80" font-size="9.012" fill="#4a6898" stroke="#4a6898" stroke-width="0.3" textLength="19.83" lengthAdjust="spacingAndGlyphs">MEP</text>
<text x="8.80" y="317.00" font-size="13.808" fill="#1e1e1e" stroke="#1e1e1e" stroke-width="0.3" textLength="6.52" lengthAdjust="spacingAndGlyphs">E</text>
<line x1="46.30" y1="347.20" x2="46.30" y2="432.60" stroke="#1a1a1a" stroke-width="1.45"/>
<line x1="45.70" y1="432.00" x2="118.90" y2="432.00" stroke="#1a1a1a" stroke-width="1.45"/>
<line x1="42.70" y1="432.00" x2="46.30" y2="432.00" stroke="#111" stroke-width="1"/>
<line x1="42.70" y1="411.00" x2="46.30" y2="411.00" stroke="#111" stroke-width="1"/>
<line x1="42.70" y1="389.90" x2="46.30" y2="389.90" stroke="#111" stroke-width="1"/>
<line x1="42.70" y1="368.30" x2="46.30" y2="368.30" stroke="#111" stroke-width="1"/>
<line x1="42.70" y1="353.10" x2="46.30" y2="353.10" stroke="#111" stroke-width="1"/>
<text x="34.46" y="435.20" font-size="9.166" fill="#1e1e1e" stroke="#1e1e1e" stroke-width="0.3" textLength="4.77" lengthAdjust="spacingAndGlyphs">0</text>
<text x="29.67" y="414.20" font-size="9.166" fill="#1e1e1e" stroke="#1e1e1e" stroke-width="0.3" textLength="9.60" lengthAdjust="spacingAndGlyphs">25</text>
<text x="29.76" y="393.10" font-size="9.166" fill="#1e1e1e" stroke="#1e1e1e" stroke-width="0.3" textLength="9.47" lengthAdjust="spacingAndGlyphs">50</text>
<text x="29.66" y="371.50" font-size="9.302" fill="#1e1e1e" stroke="#1e1e1e" stroke-width="0.3" textLength="9.61" lengthAdjust="spacingAndGlyphs">75</text>
<text x="24.32" y="356.30" font-size="9.166" fill="#1e1e1e" stroke="#1e1e1e" stroke-width="0.3" textLength="14.93" lengthAdjust="spacingAndGlyphs">100</text>
<text x="16.83" y="407.96" font-size="11.910" fill="#1e1e1e" stroke="#1e1e1e" stroke-width="0.3" textLength="36.40" lengthAdjust="spacingAndGlyphs" transform="rotate(-90 16.83 407.96)">% in PB</text>
<rect x="55.00" y="410.00" width="19.00" height="22.00" fill="#a13445"/>
<rect x="55.00" y="380.00" width="19.00" height="30.00" fill="#4e6382"/>
<rect x="55.00" y="352.80" width="19.00" height="27.20" fill="#78a95c"/>
<rect x="90.80" y="375.20" width="19.20" height="56.80" fill="#a13445"/>
<rect x="90.80" y="364.20" width="19.20" height="11.00" fill="#4e6382"/>
<rect x="90.80" y="354.10" width="19.20" height="10.10" fill="#78a95c"/>
<line x1="64.50" y1="353.00" x2="64.50" y2="348.20" stroke="#111" stroke-width="1.3"/>
<line x1="62.20" y1="348.20" x2="66.80" y2="348.20" stroke="#111" stroke-width="1.3"/>
<line x1="64.50" y1="380.00" x2="64.50" y2="370.90" stroke="#111" stroke-width="1.3"/>
<line x1="62.20" y1="370.90" x2="66.80" y2="370.90" stroke="#111" stroke-width="1.3"/>
<line x1="64.50" y1="410.00" x2="64.50" y2="403.00" stroke="#111" stroke-width="1.3"/>
<line x1="62.20" y1="403.00" x2="66.80" y2="403.00" stroke="#111" stroke-width="1.3"/>
<line x1="100.30" y1="354.10" x2="100.30" y2="352.30" stroke="#111" stroke-width="1.3"/>
<line x1="97.70" y1="352.30" x2="102.90" y2="352.30" stroke="#111" stroke-width="1.3"/>
<line x1="100.30" y1="364.20" x2="100.30" y2="360.50" stroke="#111" stroke-width="1.3"/>
<line x1="97.70" y1="360.50" x2="102.90" y2="360.50" stroke="#111" stroke-width="1.3"/>
<line x1="100.30" y1="375.20" x2="100.30" y2="368.40" stroke="#111" stroke-width="1.3"/>
<line x1="97.70" y1="368.40" x2="102.90" y2="368.40" stroke="#111" stroke-width="1.3"/>
<line x1="74.00" y1="353.00" x2="90.80" y2="354.10" stroke="#111" stroke-width="1.15" stroke-dasharray="2.4 1.2"/>
<line x1="74.00" y1="380.00" x2="90.80" y2="364.20" stroke="#111" stroke-width="1.15" stroke-dasharray="2.4 1.2"/>
<line x1="74.00" y1="410.00" x2="90.80" y2="375.20" stroke="#111" stroke-width="1.15" stroke-dasharray="2.4 1.2"/>
<path d="M79.90 348.50L79.90 351.11M78.77 349.15L81.03 350.45M81.03 349.15L78.77 350.45" stroke="#444" stroke-width="0.80" fill="none"/>
<circle cx="79.90" cy="349.80" r="1.01" fill="#444"/>
<path d="M83.80 348.50L83.80 351.11M82.67 349.15L84.93 350.45M84.93 349.15L82.67 350.45" stroke="#444" stroke-width="0.80" fill="none"/>
<circle cx="83.80" cy="349.80" r="1.01" fill="#444"/>
<path d="M87.70 348.50L87.70 351.11M86.57 349.15L88.83 350.45M88.83 349.15L86.57 350.45" stroke="#444" stroke-width="0.80" fill="none"/>
<circle cx="87.70" cy="349.80" r="1.01" fill="#444"/>
<path d="M79.88 367.92L79.88 370.53M78.75 368.58L81.01 369.88M81.01 368.58L78.75 369.88" stroke="#444" stroke-width="0.80" fill="none"/>
<circle cx="79.88" cy="369.23" r="1.01" fill="#444"/>
<path d="M82.52 365.47L82.52 368.08M81.39 366.12L83.65 367.42M83.65 366.12L81.39 367.42" stroke="#444" stroke-width="0.80" fill="none"/>
<circle cx="82.52" cy="366.77" r="1.01" fill="#444"/>
<path d="M78.68 391.62L78.68 394.23M77.55 392.27L79.81 393.58M79.81 392.27L77.55 393.58" stroke="#444" stroke-width="0.80" fill="none"/>
<circle cx="78.68" cy="392.93" r="1.01" fill="#444"/>
<path d="M80.30 388.30L80.30 390.91M79.17 388.95L81.43 390.25M81.43 388.95L79.17 390.25" stroke="#444" stroke-width="0.80" fill="none"/>
<circle cx="80.30" cy="389.60" r="1.01" fill="#444"/>
<path d="M81.92 384.97L81.92 387.58M80.79 385.62L83.05 386.93M83.05 385.62L80.79 386.93" stroke="#444" stroke-width="0.80" fill="none"/>
<circle cx="81.92" cy="386.27" r="1.01" fill="#444"/>
<rect x="114.20" y="346.60" width="7.30" height="5.70" fill="#78a95c"/>
<rect x="114.20" y="359.20" width="7.30" height="5.20" fill="#4e6382"/>
<rect x="114.20" y="370.20" width="7.30" height="5.20" fill="#a13445"/>
<text x="122.65" y="352.30" font-size="9.884" fill="#1e1e1e" stroke="#1e1e1e" stroke-width="0.3" textLength="4.00" lengthAdjust="spacingAndGlyphs">T</text>
<text x="122.11" y="364.40" font-size="9.884" fill="#1e1e1e" stroke="#1e1e1e" stroke-width="0.3" textLength="5.64" lengthAdjust="spacingAndGlyphs">B</text>
<text x="121.89" y="376.50" font-size="9.884" fill="#1e1e1e" stroke="#1e1e1e" stroke-width="0.3" textLength="9.21" lengthAdjust="spacingAndGlyphs">M</text>
<text x="52.66" y="441.80" font-size="9.448" fill="#1e1e1e" stroke="#1e1e1e" stroke-width="0.3" textLength="26.19" lengthAdjust="spacingAndGlyphs">Vector</text>
<text x="83.05" y="442.30" font-size="9.023" fill="#1e1e1e" stroke="#1e1e1e" stroke-width="0.3" textLength="36.48" lengthAdjust="spacingAndGlyphs">Prdm16s</text>
<text x="150.04" y="317.00" font-size="13.808" fill="#1e1e1e" stroke="#1e1e1e" stroke-width="0.3" textLength="6.37" lengthAdjust="spacingAndGlyphs">F</text>
<line x1="173.50" y1="342.50" x2="173.50" y2="432.40" stroke="#1a1a1a" stroke-width="1.45"/>
<line x1="172.90" y1="431.80" x2="218.40" y2="431.80" stroke="#1a1a1a" stroke-width="1.45"/>
<line x1="169.50" y1="431.80" x2="173.50" y2="431.80" stroke="#111" stroke-width="1"/>
<line x1="169.50" y1="410.40" x2="173.50" y2="410.40" stroke="#111" stroke-width="1"/>
<line x1="169.50" y1="389.00" x2="173.50" y2="389.00" stroke="#111" stroke-width="1"/>
<line x1="169.50" y1="367.40" x2="173.50" y2="367.40" stroke="#111" stroke-width="1"/>
<line x1="169.50" y1="346.20" x2="173.50" y2="346.20" stroke="#111" stroke-width="1"/>
<text x="160.65" y="435.05" font-size="9.309" fill="#1e1e1e" stroke="#1e1e1e" stroke-width="0.3" textLength="5.00" lengthAdjust="spacingAndGlyphs">0</text>
<text x="155.87" y="413.65" font-size="9.309" fill="#1e1e1e" stroke="#1e1e1e" stroke-width="0.3" textLength="9.78" lengthAdjust="spacingAndGlyphs">30</text>
<text x="155.75" y="392.25" font-size="9.309" fill="#1e1e1e" stroke="#1e1e1e" stroke-width="0.3" textLength="9.90" lengthAdjust="spacingAndGlyphs">60</text>
<text x="155.78" y="370.65" font-size="9.309" fill="#1e1e1e" stroke="#1e1e1e" stroke-width="0.3" textLength="9.86" lengthAdjust="spacingAndGlyphs">90</text>
<text x="151.45" y="349.45" font-size="9.309" fill="#1e1e1e" stroke="#1e1e1e" stroke-width="0.3" textLength="14.18" lengthAdjust="spacingAndGlyphs">120</text>
<text x="186.26" y="324.80" font-size="8.879" fill="#1e1e1e" stroke="#1e1e1e" stroke-width="0.3" textLength="18.94" lengthAdjust="spacingAndGlyphs">WBC</text>
<text x="171.76" y="335.06" font-size="8.909" fill="#1e1e1e" stroke="#1e1e1e" stroke-width="0.3" textLength="2.38" lengthAdjust="spacingAndGlyphs">(</text>
<text x="174.45" y="335.50" font-size="8.736" fill="#1e1e1e" stroke="#1e1e1e" stroke-width="0.3" textLength="16.36" lengthAdjust="spacingAndGlyphs">x10</text>
<text x="190.53" y="331.83" font-size="6.780" fill="#1e1e1e" stroke="#1e1e1e" stroke-width="0.3" textLength="3.11" lengthAdjust="spacingAndGlyphs">3</text>
<text x="194.05" y="335.50" font-size="9.157" fill="#1e1e1e" stroke="#1e1e1e" stroke-width="0.3" textLength="19.39" lengthAdjust="spacingAndGlyphs">/mm</text>
<text x="212.83" y="331.83" font-size="6.780" fill="#1e1e1e" stroke="#1e1e1e" stroke-width="0.3" textLength="3.44" lengthAdjust="spacingAndGlyphs">3</text>
<text x="216.60" y="335.06" font-size="8.909" fill="#1e1e1e" stroke="#1e1e1e" stroke-width="0.3" textLength="3.27" lengthAdjust="spacingAndGlyphs">)</text>
<text x="170.70" y="458.21" font-size="9.200" fill="#1e1e1e" stroke="#1e1e1e" stroke-width="0.3" textLength="26.73" lengthAdjust="spacingAndGlyphs" transform="rotate(-45 170.70 458.21)">Vector</text>
<text x="186.61" y="463.64" font-size="9.200" fill="#1e1e1e" stroke="#1e1e1e" stroke-width="0.3" textLength="34.56" lengthAdjust="spacingAndGlyphs" transform="rotate(-45 186.61 463.64)">Prdm16s</text>
<circle cx="178.10" cy="420.90" r="3.0" fill="#6aaa4c"/>
<circle cx="180.30" cy="423.80" r="3.0" fill="#6aaa4c"/>
<circle cx="182.80" cy="426.00" r="3.0" fill="#6aaa4c"/>
<circle cx="186.00" cy="426.60" r="3.0" fill="#6aaa4c"/>
<circle cx="188.90" cy="425.00" r="3.0" fill="#6aaa4c"/>
<circle cx="191.10" cy="421.90" r="3.0" fill="#6aaa4c"/>
<circle cx="184.40" cy="426.80" r="3.0" fill="#6aaa4c"/>
<line x1="174.20" y1="424.10" x2="194.90" y2="424.10" stroke="#6aaa4c" stroke-width="1.2"/>
<path d="M207.00 353.53 L209.85 358.32 L204.15 358.32Z" fill="#a3233a"/>
<path d="M207.20 392.73 L210.05 397.52 L204.35 397.52Z" fill="#a3233a"/>
<path d="M202.90 401.13 L205.75 405.92 L200.05 405.92Z" fill="#a3233a"/>
<path d="M211.00 406.33 L213.85 411.12 L208.15 411.12Z" fill="#a3233a"/>
<path d="M200.50 411.03 L203.35 415.82 L197.65 415.82Z" fill="#a3233a"/>
<path d="M206.80 414.13 L209.65 418.92 L203.95 418.92Z" fill="#a3233a"/>
<path d="M213.40 413.63 L216.25 418.42 L210.55 418.42Z" fill="#a3233a"/>
<line x1="196.60" y1="401.30" x2="217.60" y2="401.30" stroke="#a3233a" stroke-width="1.2"/>
<line x1="207.50" y1="379.80" x2="207.50" y2="422.30" stroke="#a3233a" stroke-width="1.0"/>
<line x1="201.60" y1="379.80" x2="212.90" y2="379.80" stroke="#a3233a" stroke-width="1.2"/>
<line x1="201.60" y1="422.30" x2="212.90" y2="422.30" stroke="#a3233a" stroke-width="1.2"/>
<path d="M207.00 348.45L207.00 351.15M205.83 349.12L208.17 350.48M208.17 349.12L205.83 350.48" stroke="#444" stroke-width="0.80" fill="none"/>
<circle cx="207.00" cy="349.80" r="1.05" fill="#444"/>
<line x1="245.30" y1="343.50" x2="245.30" y2="432.40" stroke="#1a1a1a" stroke-width="1.45"/>
<line x1="244.70" y1="431.80" x2="290.10" y2="431.80" stroke="#1a1a1a" stroke-width="1.45"/>
<line x1="241.30" y1="431.30" x2="245.30" y2="431.30" stroke="#111" stroke-width="1"/>
<line x1="241.30" y1="403.30" x2="245.30" y2="403.30" stroke="#111" stroke-width="1"/>
<line x1="241.30" y1="375.30" x2="245.30" y2="375.30" stroke="#111" stroke-width="1"/>
<line x1="241.30" y1="347.40" x2="245.30" y2="347.40" stroke="#111" stroke-width="1"/>
<text x="234.45" y="434.55" font-size="9.309" fill="#1e1e1e" stroke="#1e1e1e" stroke-width="0.3" textLength="5.00" lengthAdjust="spacingAndGlyphs">0</text>
<text x="234.44" y="406.55" font-size="9.448" fill="#1e1e1e" stroke="#1e1e1e" stroke-width="0.3" textLength="5.04" lengthAdjust="spacingAndGlyphs">5</text>
<text x="229.30" y="378.55" font-size="9.309" fill="#1e1e1e" stroke="#1e1e1e" stroke-width="0.3" textLength="10.15" lengthAdjust="spacingAndGlyphs">10</text>
<text x="229.30" y="350.65" font-size="9.448" fill="#1e1e1e" stroke="#1e1e1e" stroke-width="0.3" textLength="10.18" lengthAdjust="spacingAndGlyphs">15</text>
<text x="260.05" y="326.40" font-size="9.452" fill="#1e1e1e" stroke="#1e1e1e" stroke-width="0.3" textLength="16.65" lengthAdjust="spacingAndGlyphs">RBC</text>
<text x="244.16" y="336.86" font-size="8.909" fill="#1e1e1e" stroke="#1e1e1e" stroke-width="0.3" textLength="2.38" lengthAdjust="spacingAndGlyphs">(</text>
<text x="246.86" y="337.30" font-size="8.736" fill="#1e1e1e" stroke="#1e1e1e" stroke-width="0.3" textLength="16.39" lengthAdjust="spacingAndGlyphs">x10</text>
<text x="262.89" y="333.63" font-size="6.780" fill="#1e1e1e" stroke="#1e1e1e" stroke-width="0.3" textLength="3.20" lengthAdjust="spacingAndGlyphs">6</text>
<text x="266.50" y="337.30" font-size="9.157" fill="#1e1e1e" stroke="#1e1e1e" stroke-width="0.3" textLength="19.43" lengthAdjust="spacingAndGlyphs">/mm</text>
<text x="285.32" y="333.63" font-size="6.780" fill="#1e1e1e" stroke="#1e1e1e" stroke-width="0.3" textLength="3.45" lengthAdjust="spacingAndGlyphs">3</text>
<text x="289.10" y="336.86" font-size="8.909" fill="#1e1e1e" stroke="#1e1e1e" stroke-width="0.3" textLength="3.27" lengthAdjust="spacingAndGlyphs">)</text>
<text x="242.85" y="458.40" font-size="9.200" fill="#1e1e1e" stroke="#1e1e1e" stroke-width="0.3" textLength="28.37" lengthAdjust="spacingAndGlyphs" transform="rotate(-45 242.85 458.40)">Vector</text>
<text x="259.29" y="464.40" font-size="9.200" fill="#1e1e1e" stroke="#1e1e1e" stroke-width="0.3" textLength="37.56" lengthAdjust="spacingAndGlyphs" transform="rotate(-45 259.29 464.40)">Prdm16s</text>
<circle cx="253.20" cy="365.70" r="2.85" fill="#6aaa4c"/>
<circle cx="261.25" cy="362.70" r="2.85" fill="#6aaa4c"/>
<circle cx="253.60" cy="380.20" r="2.85" fill="#6aaa4c"/>
<circle cx="260.70" cy="381.40" r="2.85" fill="#6aaa4c"/>
<circle cx="250.90" cy="385.50" r="2.85" fill="#6aaa4c"/>
<circle cx="263.40" cy="386.60" r="2.85" fill="#6aaa4c"/>
<circle cx="257.10" cy="392.80" r="2.85" fill="#6aaa4c"/>
<circle cx="256.00" cy="383.70" r="2.85" fill="#6aaa4c"/>
<line x1="246.60" y1="379.30" x2="268.20" y2="379.30" stroke="#8cc070" stroke-width="1.2"/>
<line x1="257.50" y1="368.00" x2="257.50" y2="391.00" stroke="#8cc070" stroke-width="1.0"/>
<line x1="251.80" y1="368.00" x2="262.50" y2="368.00" stroke="#8cc070" stroke-width="1.2"/>
<line x1="251.80" y1="391.00" x2="262.30" y2="391.00" stroke="#8cc070" stroke-width="1.2"/>
<path d="M272.40 393.93 L275.25 398.72 L269.55 398.72Z" fill="#a3233a"/>
<path d="M279.10 393.33 L281.95 398.12 L276.25 398.12Z" fill="#a3233a"/>
<path d="M285.50 391.83 L288.35 396.62 L282.65 396.62Z" fill="#a3233a"/>
<path d="M283.30 398.13 L286.15 402.92 L280.45 402.92Z" fill="#a3233a"/>
<path d="M274.90 401.73 L277.75 406.52 L272.05 406.52Z" fill="#a3233a"/>
<path d="M279.10 412.23 L281.95 417.02 L276.25 417.02Z" fill="#a3233a"/>
<path d="M279.10 421.23 L281.95 426.02 L276.25 426.02Z" fill="#a3233a"/>
<line x1="268.60" y1="404.30" x2="289.70" y2="404.30" stroke="#a3233a" stroke-width="1.2"/>
<line x1="279.50" y1="393.10" x2="279.50" y2="415.20" stroke="#a3233a" stroke-width="1.0"/>
<line x1="274.50" y1="393.10" x2="285.00" y2="393.10" stroke="#a3233a" stroke-width="1.2"/>
<line x1="274.50" y1="415.20" x2="285.00" y2="415.20" stroke="#a3233a" stroke-width="1.2"/>
<path d="M278.35 384.45L278.35 387.15M277.18 385.12L279.52 386.48M279.52 385.12L277.18 386.48" stroke="#444" stroke-width="0.80" fill="none"/>
<circle cx="278.35" cy="385.80" r="1.05" fill="#444"/>
<path d="M282.05 384.45L282.05 387.15M280.88 385.12L283.22 386.48M283.22 385.12L280.88 386.48" stroke="#444" stroke-width="0.80" fill="none"/>
<circle cx="282.05" cy="385.80" r="1.05" fill="#444"/>
<line x1="323.70" y1="343.50" x2="323.70" y2="432.60" stroke="#1a1a1a" stroke-width="1.45"/>
<line x1="323.10" y1="432.00" x2="367.80" y2="432.00" stroke="#1a1a1a" stroke-width="1.45"/>
<line x1="319.70" y1="432.00" x2="323.70" y2="432.00" stroke="#111" stroke-width="1"/>
<line x1="319.70" y1="411.00" x2="323.70" y2="411.00" stroke="#111" stroke-width="1"/>
<line x1="319.70" y1="390.40" x2="323.70" y2="390.40" stroke="#111" stroke-width="1"/>
<line x1="319.70" y1="368.90" x2="323.70" y2="368.90" stroke="#111" stroke-width="1"/>
<line x1="319.70" y1="348.00" x2="323.70" y2="348.00" stroke="#111" stroke-width="1"/>
<text x="312.35" y="435.25" font-size="9.309" fill="#1e1e1e" stroke="#1e1e1e" stroke-width="0.3" textLength="5.00" lengthAdjust="spacingAndGlyphs">0</text>
<text x="307.57" y="414.25" font-size="9.309" fill="#1e1e1e" stroke="#1e1e1e" stroke-width="0.3" textLength="9.78" lengthAdjust="spacingAndGlyphs">30</text>
<text x="307.45" y="393.65" font-size="9.309" fill="#1e1e1e" stroke="#1e1e1e" stroke-width="0.3" textLength="9.90" lengthAdjust="spacingAndGlyphs">60</text>
<text x="307.48" y="372.15" font-size="9.309" fill="#1e1e1e" stroke="#1e1e1e" stroke-width="0.3" textLength="9.86" lengthAdjust="spacingAndGlyphs">90</text>
<text x="303.15" y="351.25" font-size="9.309" fill="#1e1e1e" stroke="#1e1e1e" stroke-width="0.3" textLength="14.18" lengthAdjust="spacingAndGlyphs">120</text>
<text x="339.02" y="327.00" font-size="9.157" fill="#1e1e1e" stroke="#1e1e1e" stroke-width="0.3" textLength="12.94" lengthAdjust="spacingAndGlyphs">PLT</text>
<text x="321.87" y="337.76" font-size="8.909" fill="#1e1e1e" stroke="#1e1e1e" stroke-width="0.3" textLength="2.33" lengthAdjust="spacingAndGlyphs">(</text>
<text x="324.51" y="338.20" font-size="8.736" fill="#1e1e1e" stroke="#1e1e1e" stroke-width="0.3" textLength="16.06" lengthAdjust="spacingAndGlyphs">x10</text>
<text x="340.39" y="334.60" font-size="6.977" fill="#1e1e1e" stroke="#1e1e1e" stroke-width="0.3" textLength="2.87" lengthAdjust="spacingAndGlyphs">4</text>
<text x="343.76" y="338.20" font-size="9.157" fill="#1e1e1e" stroke="#1e1e1e" stroke-width="0.3" textLength="19.04" lengthAdjust="spacingAndGlyphs">/mm</text>
<text x="362.20" y="334.53" font-size="6.780" fill="#1e1e1e" stroke="#1e1e1e" stroke-width="0.3" textLength="3.38" lengthAdjust="spacingAndGlyphs">3</text>
<text x="365.91" y="337.76" font-size="8.909" fill="#1e1e1e" stroke="#1e1e1e" stroke-width="0.3" textLength="3.21" lengthAdjust="spacingAndGlyphs">)</text>
<text x="321.66" y="457.78" font-size="9.200" fill="#1e1e1e" stroke="#1e1e1e" stroke-width="0.3" textLength="25.49" lengthAdjust="spacingAndGlyphs" transform="rotate(-45 321.66 457.78)">Vector</text>
<text x="336.31" y="463.38" font-size="9.200" fill="#1e1e1e" stroke="#1e1e1e" stroke-width="0.3" textLength="36.10" lengthAdjust="spacingAndGlyphs" transform="rotate(-45 336.31 463.38)">Prdm16s</text>
<circle cx="334.80" cy="358.20" r="2.85" fill="#6aaa4c"/>
<circle cx="327.20" cy="388.50" r="2.85" fill="#6aaa4c"/>
<circle cx="338.40" cy="386.80" r="2.85" fill="#6aaa4c"/>
<circle cx="331.00" cy="395.20" r="2.85" fill="#6aaa4c"/>
<circle cx="342.00" cy="400.50" r="2.85" fill="#6aaa4c"/>
<circle cx="338.40" cy="407.40" r="2.85" fill="#6aaa4c"/>
<circle cx="331.00" cy="411.00" r="2.85" fill="#6aaa4c"/>
<line x1="324.70" y1="392.50" x2="345.30" y2="392.50" stroke="#8cc070" stroke-width="1.2"/>
<line x1="335.50" y1="375.30" x2="335.50" y2="408.90" stroke="#8cc070" stroke-width="1.0"/>
<line x1="330.00" y1="375.30" x2="340.50" y2="375.30" stroke="#8cc070" stroke-width="1.2"/>
<line x1="330.00" y1="408.90" x2="340.50" y2="408.90" stroke="#8cc070" stroke-width="1.2"/>
<path d="M352.30 413.84 L354.85 418.13 L349.75 418.13Z" fill="#a3233a"/>
<path d="M364.20 413.84 L366.75 418.13 L361.65 418.13Z" fill="#a3233a"/>
<path d="M360.20 414.44 L362.75 418.73 L357.65 418.73Z" fill="#a3233a"/>
<path d="M351.00 421.94 L353.55 426.23 L348.45 426.23Z" fill="#a3233a"/>
<path d="M356.40 421.94 L358.95 426.23 L353.85 426.23Z" fill="#a3233a"/>
<path d="M361.80 421.94 L364.35 426.23 L359.25 426.23Z" fill="#a3233a"/>
<path d="M358.80 421.34 L361.35 425.63 L356.25 425.63Z" fill="#a3233a"/>
<line x1="346.40" y1="421.50" x2="367.40" y2="421.50" stroke="#a3233a" stroke-width="1.2"/>
<line x1="358.50" y1="418.20" x2="358.50" y2="424.80" stroke="#a3233a" stroke-width="1.0"/>
<line x1="355.40" y1="418.20" x2="362.30" y2="418.20" stroke="#a3233a" stroke-width="1.0"/>
<line x1="355.40" y1="424.80" x2="362.30" y2="424.80" stroke="#a3233a" stroke-width="1.0"/>
<path d="M354.85 403.35L354.85 406.05M353.68 404.02L356.02 405.38M356.02 404.02L353.68 405.38" stroke="#444" stroke-width="0.80" fill="none"/>
<circle cx="354.85" cy="404.70" r="1.05" fill="#444"/>
<path d="M358.55 403.35L358.55 406.05M357.38 404.02L359.72 405.38M359.72 404.02L357.38 405.38" stroke="#444" stroke-width="0.80" fill="none"/>
<circle cx="358.55" cy="404.70" r="1.05" fill="#444"/>
<text x="389.59" y="317.36" font-size="14.689" fill="#1e1e1e" stroke="#1e1e1e" stroke-width="0.3" textLength="9.41" lengthAdjust="spacingAndGlyphs">G</text>
<line x1="423.10" y1="344.60" x2="423.10" y2="432.40" stroke="#1a1a1a" stroke-width="1.45"/>
<line x1="422.50" y1="431.80" x2="492.30" y2="431.80" stroke="#1a1a1a" stroke-width="1.45"/>
<line x1="419.60" y1="431.80" x2="423.10" y2="431.80" stroke="#111" stroke-width="1"/>
<line x1="419.60" y1="414.96" x2="423.10" y2="414.96" stroke="#111" stroke-width="1"/>
<line x1="419.60" y1="398.12" x2="423.10" y2="398.12" stroke="#111" stroke-width="1"/>
<line x1="419.60" y1="381.28" x2="423.10" y2="381.28" stroke="#111" stroke-width="1"/>
<line x1="419.60" y1="364.44" x2="423.10" y2="364.44" stroke="#111" stroke-width="1"/>
<line x1="419.60" y1="347.60" x2="423.10" y2="347.60" stroke="#111" stroke-width="1"/>
<text x="411.45" y="434.95" font-size="9.023" fill="#1e1e1e" stroke="#1e1e1e" stroke-width="0.3" textLength="5.00" lengthAdjust="spacingAndGlyphs">0</text>
<text x="411.44" y="418.11" font-size="9.157" fill="#1e1e1e" stroke="#1e1e1e" stroke-width="0.3" textLength="5.04" lengthAdjust="spacingAndGlyphs">5</text>
<text x="405.55" y="401.27" font-size="9.023" fill="#1e1e1e" stroke="#1e1e1e" stroke-width="0.3" textLength="10.93" lengthAdjust="spacingAndGlyphs">10</text>
<text x="405.55" y="384.43" font-size="9.157" fill="#1e1e1e" stroke="#1e1e1e" stroke-width="0.3" textLength="10.96" lengthAdjust="spacingAndGlyphs">15</text>
<text x="405.82" y="367.59" font-size="9.023" fill="#1e1e1e" stroke="#1e1e1e" stroke-width="0.3" textLength="10.66" lengthAdjust="spacingAndGlyphs">20</text>
<text x="405.82" y="350.75" font-size="9.023" fill="#1e1e1e" stroke="#1e1e1e" stroke-width="0.3" textLength="10.69" lengthAdjust="spacingAndGlyphs">25</text>
<text x="399.24" y="408.68" font-size="10.952" fill="#1e1e1e" stroke="#1e1e1e" stroke-width="0.3" textLength="40.17" lengthAdjust="spacingAndGlyphs" transform="rotate(-90 399.24 408.68)">% in BM</text>
<rect x="426.90" y="420.30" width="6.20" height="11.50" fill="#78a95c"/>
<rect x="450.30" y="428.60" width="6.60" height="3.20" fill="#78a95c"/>
<rect x="475.40" y="430.60" width="3.10" height="1.20" fill="#78a95c"/>
<rect x="435.80" y="370.10" width="6.20" height="61.70" fill="#a13445"/>
<rect x="458.90" y="385.60" width="6.10" height="46.20" fill="#a13445"/>
<rect x="482.30" y="402.90" width="5.90" height="28.90" fill="#a13445"/>
<line x1="430.00" y1="420.30" x2="430.00" y2="418.00" stroke="#78a95c" stroke-width="1"/>
<line x1="428.80" y1="418.00" x2="431.20" y2="418.00" stroke="#78a95c" stroke-width="1"/>
<line x1="453.60" y1="428.60" x2="453.60" y2="427.60" stroke="#78a95c" stroke-width="1"/>
<line x1="438.50" y1="370.10" x2="438.50" y2="352.00" stroke="#a13445" stroke-width="1.0"/>
<line x1="437.10" y1="352.00" x2="439.90" y2="352.00" stroke="#a13445" stroke-width="1.0"/>
<line x1="461.50" y1="385.60" x2="461.50" y2="374.20" stroke="#a13445" stroke-width="1.0"/>
<line x1="460.10" y1="374.20" x2="462.90" y2="374.20" stroke="#a13445" stroke-width="1.0"/>
<line x1="485.50" y1="402.90" x2="485.50" y2="392.80" stroke="#a13445" stroke-width="1.0"/>
<line x1="484.10" y1="392.80" x2="486.90" y2="392.80" stroke="#a13445" stroke-width="1.0"/>
<path d="M436.95 348.05L436.95 350.75M435.78 348.72L438.12 350.07M438.12 348.72L435.78 350.07" stroke="#444" stroke-width="0.80" fill="none"/>
<circle cx="436.95" cy="349.40" r="1.05" fill="#444"/>
<path d="M440.65 348.05L440.65 350.75M439.48 348.72L441.82 350.07M441.82 348.72L439.48 350.07" stroke="#444" stroke-width="0.80" fill="none"/>
<circle cx="440.65" cy="349.40" r="1.05" fill="#444"/>
<path d="M460.15 369.85L460.15 372.55M458.98 370.52L461.32 371.88M461.32 370.52L458.98 371.88" stroke="#444" stroke-width="0.80" fill="none"/>
<circle cx="460.15" cy="371.20" r="1.05" fill="#444"/>
<path d="M463.85 369.85L463.85 372.55M462.68 370.52L465.02 371.88M465.02 370.52L462.68 371.88" stroke="#444" stroke-width="0.80" fill="none"/>
<circle cx="463.85" cy="371.20" r="1.05" fill="#444"/>
<path d="M485.10 387.95L485.10 390.65M483.93 388.62L486.27 389.98M486.27 388.62L483.93 389.98" stroke="#444" stroke-width="0.80" fill="none"/>
<circle cx="485.10" cy="389.30" r="1.05" fill="#444"/>
<rect x="463.10" y="344.40" width="9.00" height="5.00" fill="#78a95c"/>
<rect x="463.10" y="356.30" width="9.00" height="5.00" fill="#a13445"/>
<text x="475.96" y="349.40" font-size="8.576" fill="#1e1e1e" stroke="#1e1e1e" stroke-width="0.3" textLength="23.97" lengthAdjust="spacingAndGlyphs">Vector</text>
<text x="475.31" y="361.30" font-size="9.309" fill="#1e1e1e" stroke="#1e1e1e" stroke-width="0.3" textLength="33.80" lengthAdjust="spacingAndGlyphs">Prdm16s</text>
<text x="426.11" y="443.80" font-size="9.593" fill="#1e1e1e" stroke="#1e1e1e" stroke-width="0.3" textLength="16.12" lengthAdjust="spacingAndGlyphs">Lin-</text>
<text x="452.11" y="443.80" font-size="9.593" fill="#1e1e1e" stroke="#1e1e1e" stroke-width="0.3" textLength="10.28" lengthAdjust="spacingAndGlyphs">LK</text>
<text x="471.27" y="443.80" font-size="9.593" fill="#1e1e1e" stroke="#1e1e1e" stroke-width="0.3" textLength="19.19" lengthAdjust="spacingAndGlyphs">MEP</text>
<rect x="0.00" y="0.00" width="1.80" height="476.00" fill="#5a5a5a"/>
<rect x="518.10" y="0.00" width="1.90" height="476.00" fill="#5a5a5a"/>
<rect x="0.00" y="0.00" width="520.00" height="1.10" fill="#000"/>
<rect x="0.00" y="475.00" width="520.00" height="1.00" fill="#000"/>
</svg></body></html>
